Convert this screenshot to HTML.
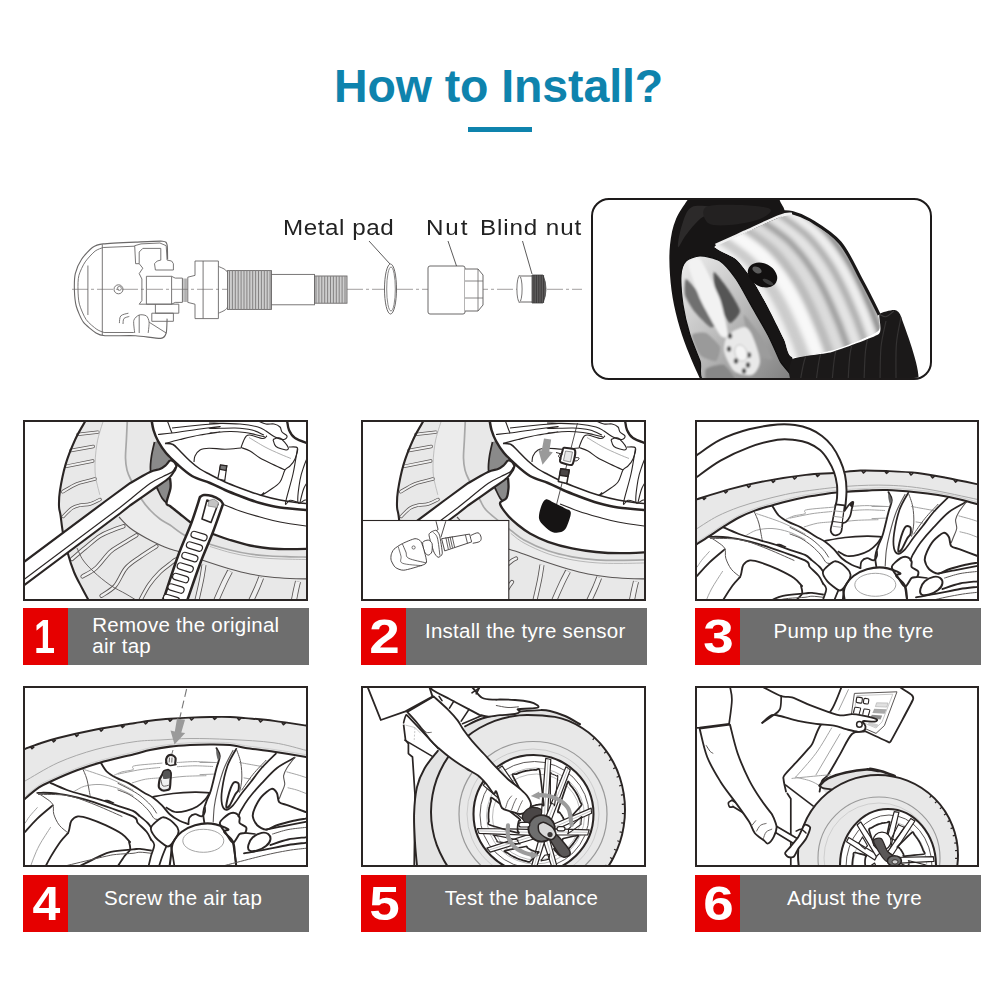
<!DOCTYPE html>
<html lang="en">
<head>
<meta charset="utf-8">
<title>How to Install?</title>
<style>
html,body{margin:0;padding:0;background:#fff;}
body{width:1000px;height:1000px;position:relative;overflow:hidden;font-family:"Liberation Sans","Noto Sans CJK SC",sans-serif;}
.abs{position:absolute;}
#title{left:334px;top:55.8px;font-size:46.5px;line-height:60px;font-weight:700;color:#0e83ad;letter-spacing:-0.1px;white-space:nowrap;}
#rule{left:468px;top:127px;width:64px;height:5px;background:#0e83ad;}
.lbl{font-size:22px;line-height:26px;color:#222;white-space:nowrap;letter-spacing:0.8px;transform:scaleX(1.1);transform-origin:0 0;}
.box{border:2px solid #2a2524;box-sizing:border-box;}
.bar{height:57px;background:#6e6e6e;}
.num{left:0;top:0;width:45px;height:57px;background:#e60000;color:#fff;font-weight:700;font-size:48.5px;line-height:57px;text-align:center;}
.num span{display:inline-block;transform:scaleX(1.13);position:relative;left:1.3px;top:0.4px;}
.cap{color:#fff;font-size:20.5px;line-height:22px;white-space:nowrap;letter-spacing:0.25px;}
svg{display:block;}
</style>
</head>
<body>
<div id="title" class="abs">How to Install?</div>
<div id="rule" class="abs"></div>

<div class="abs lbl" style="left:283.3px;top:214.8px;letter-spacing:0.5px;">Metal pad</div>
<div class="abs lbl" style="left:425.6px;top:214.8px;letter-spacing:1.7px;">Nut</div>
<div class="abs lbl" style="left:479.6px;top:214.8px;">Blind nut</div>

<!-- DIAGRAM -->


<!-- PHOTO -->
<div id="photo" class="abs" style="left:591px;top:198px;width:341px;height:182px;border:2.5px solid #1d1a1a;border-radius:18px;box-sizing:border-box;overflow:hidden;background:#fff;"></div>

<svg class="abs" style="left:0;top:0;" width="1000" height="1000" viewBox="0 0 1000 1000"><defs><clipPath id="c1"><rect x="25" y="422" width="281" height="177"/></clipPath><clipPath id="c2"><rect x="363" y="422" width="281" height="177"/></clipPath><clipPath id="c3"><rect x="697" y="422" width="281" height="177"/></clipPath><clipPath id="c4"><rect x="25" y="688" width="281" height="177"/></clipPath><clipPath id="c5"><rect x="363" y="688" width="281" height="177"/></clipPath><clipPath id="c6"><rect x="697" y="688" width="281" height="177"/></clipPath></defs>
<g clip-path="url(#c1)">
<path fill="#e8e8e8" d="M85.6 420.7C83.8 423.9 78.4 432.4 75.1 439.7C71.8 447 68.1 455.8 65.6 464.4C63.1 472.9 61 484 59.9 491C58.8 498 58.9 502.2 59 506.2C59.1 510.2 59.8 510.5 60.5 515C61.2 519.5 61.8 526.5 63 533C64.2 539.5 66.2 547.5 68 554C69.8 560.5 71.7 566.3 74 572C76.3 577.7 79.5 583.2 82 588C84.5 592.8 87.8 598.8 89 601L310 602L310 418Z"/>
<path fill="#ececec" d="M103.6 419.8C102.5 423.8 98.4 434.8 97 443.5C95.6 452.2 94.6 463.4 95.1 472C95.6 480.6 95.8 487.3 99.8 494.8C103.8 502.3 114 511.5 119 517C124 522.5 125.5 524.5 130 528C134.5 531.5 141 535.2 146 538C151 540.8 156 543.2 160 545C164 546.8 166.7 547.8 170 549C173.3 550.2 174.7 550.2 180 552C185.3 553.8 193.7 557.2 202 560C210.3 562.8 222 566.7 230 569C238 571.3 243.3 572.7 250 574C256.7 575.3 263.3 576.2 270 577C276.7 577.8 283.3 578.2 290 578.5C296.7 578.8 306.7 578.9 310 579L312 560L310 557.1C306.7 557 296.7 557 290 556.8C283.3 556.6 276.7 556.5 270 556C263.3 555.5 256.7 555 250 554C243.3 553 236.8 551.7 230 550C223.2 548.3 216.3 546.3 209 544C201.7 541.7 192.5 539.2 186 536C179.5 532.8 174.3 527.8 170 525C165.7 522.2 163.3 521.5 160 519C156.7 516.5 153 513.2 150 510C147 506.8 145.2 505 142 500C138.8 495 133.5 485 131 480C128.5 475 127.9 473.8 127 470.1C126.1 466.4 125.6 463 125.5 457.9C125.4 452.8 126.1 446.2 126.4 439.7C126.7 433.2 127.2 422.3 127.4 418.8Z"/>
<path fill="none" stroke="#5a5655" stroke-width="3.4" stroke-linecap="round" d="M78 434.4L97.9 432.1"/><path fill="none" stroke="#efefef" stroke-width="1.95" stroke-linecap="round" d="M78 434.4L97.9 432.1"/>
<path fill="none" stroke="#5a5655" stroke-width="3.4" stroke-linecap="round" d="M70.9 450.5L93.2 446.5"/><path fill="none" stroke="#efefef" stroke-width="1.95" stroke-linecap="round" d="M70.9 450.5L93.2 446.5"/>
<path fill="none" stroke="#5a5655" stroke-width="3.4" stroke-linecap="round" d="M66.2 466.3L92.8 461"/><path fill="none" stroke="#efefef" stroke-width="1.95" stroke-linecap="round" d="M66.2 466.3L92.8 461"/>
<path fill="none" stroke="#5a5655" stroke-width="3.4" stroke-linecap="round" d="M62.6 491.8C65 490.5 71.6 485.9 77 483.8C82.4 481.7 92.1 479.8 95.1 479"/><path fill="none" stroke="#efefef" stroke-width="1.95" stroke-linecap="round" d="M62.6 491.8C65 490.5 71.6 485.9 77 483.8C82.4 481.7 92.1 479.8 95.1 479"/>
<path fill="none" stroke="#5a5655" stroke-width="3.4" stroke-linecap="round" d="M63.2 516.5C64.7 515.1 69.2 510.1 72 508.2C74.8 506.3 77 505.9 80 505.2C83 504.5 86.7 504.9 90 504C93.3 503.1 98.3 500.2 100 499.5"/><path fill="none" stroke="#efefef" stroke-width="1.95" stroke-linecap="round" d="M63.2 516.5C64.7 515.1 69.2 510.1 72 508.2C74.8 506.3 77 505.9 80 505.2C83 504.5 86.7 504.9 90 504C93.3 503.1 98.3 500.2 100 499.5"/>
<path fill="none" stroke="#5a5655" stroke-width="4.2" stroke-linecap="round" d="M72 559C74.2 557.2 80.3 551.8 85 548C89.7 544.2 95.3 539 100 536C104.7 533 109.1 531.6 113 530C116.9 528.4 121.8 526.8 123.5 526.2"/><path fill="none" stroke="#efefef" stroke-width="2.5" stroke-linecap="round" d="M72 559C74.2 557.2 80.3 551.8 85 548C89.7 544.2 95.3 539 100 536C104.7 533 109.1 531.6 113 530C116.9 528.4 121.8 526.8 123.5 526.2"/>
<path fill="none" stroke="#5a5655" stroke-width="4.2" stroke-linecap="round" d="M82.5 576.5C84.8 575.1 91.4 572.1 96 568C100.6 563.9 105.7 556 110 552C114.3 548 117.6 546.8 122 544C126.4 541.2 134.1 536.7 136.5 535.2"/><path fill="none" stroke="#efefef" stroke-width="2.5" stroke-linecap="round" d="M82.5 576.5C84.8 575.1 91.4 572.1 96 568C100.6 563.9 105.7 556 110 552C114.3 548 117.6 546.8 122 544C126.4 541.2 134.1 536.7 136.5 535.2"/>
<path fill="none" stroke="#5a5655" stroke-width="4.2" stroke-linecap="round" d="M101.5 595.8C103.8 594.2 110.9 590.6 115 586C119.1 581.4 121.8 572.8 126 568C130.2 563.2 134.9 560.6 140 557C145.1 553.4 153.8 548 156.5 546.2"/><path fill="none" stroke="#efefef" stroke-width="2.5" stroke-linecap="round" d="M101.5 595.8C103.8 594.2 110.9 590.6 115 586C119.1 581.4 121.8 572.8 126 568C130.2 563.2 134.9 560.6 140 557C145.1 553.4 153.8 548 156.5 546.2"/>
<path fill="none" stroke="#5a5655" stroke-width="4.2" stroke-linecap="round" d="M140 601C141.5 598.3 145.7 589.8 149 585C152.3 580.2 156.5 575.5 160 572C163.5 568.5 167.5 566 170 564C172.5 562 173.7 560.9 175 560C176.3 559.1 177.5 558.8 178 558.5"/><path fill="none" stroke="#efefef" stroke-width="2.5" stroke-linecap="round" d="M140 601C141.5 598.3 145.7 589.8 149 585C152.3 580.2 156.5 575.5 160 572C163.5 568.5 167.5 566 170 564C172.5 562 173.7 560.9 175 560C176.3 559.1 177.5 558.8 178 558.5"/>
<path fill="none" stroke="#5a5655" stroke-width="4.2" stroke-linecap="round" d="M163 601C164.2 598.8 168.2 591.2 170 588C171.8 584.8 173.3 583 174 582"/><path fill="none" stroke="#efefef" stroke-width="2.5" stroke-linecap="round" d="M163 601C164.2 598.8 168.2 591.2 170 588C171.8 584.8 173.3 583 174 582"/>
<path fill="none" stroke="#5a5655" stroke-width="6" stroke-linecap="butt" d="M230 571.2C229 573.2 226.3 578 224 583C221.7 588 217.3 598 216 601"/><path fill="none" stroke="#efefef" stroke-width="4.3" stroke-linecap="butt" d="M230 571.2C229 573.2 226.3 578 224 583C221.7 588 217.3 598 216 601"/>
<path fill="none" stroke="#5a5655" stroke-width="6" stroke-linecap="butt" d="M261.2 577.5C260.5 579.2 258.7 584.1 257 588C255.3 591.9 252 598.8 251 601"/><path fill="none" stroke="#efefef" stroke-width="4.3" stroke-linecap="butt" d="M261.2 577.5C260.5 579.2 258.7 584.1 257 588C255.3 591.9 252 598.8 251 601"/>
<path fill="none" stroke="#5a5655" stroke-width="6" stroke-linecap="butt" d="M298 581.5C297.7 582.9 296.7 586.8 296 590C295.3 593.2 294.2 599.2 293.8 601"/><path fill="none" stroke="#efefef" stroke-width="4.3" stroke-linecap="butt" d="M298 581.5C297.7 582.9 296.7 586.8 296 590C295.3 593.2 294.2 599.2 293.8 601"/>
<path fill="none" stroke="#5a5655" stroke-width="5" stroke-linecap="butt" d="M204 564.8C203.6 567.3 202.7 574 201.5 580C200.3 586 197.6 597.5 196.8 601"/><path fill="none" stroke="#efefef" stroke-width="3.3" stroke-linecap="butt" d="M204 564.8C203.6 567.3 202.7 574 201.5 580C200.3 586 197.6 597.5 196.8 601"/>
<path fill="none" stroke="#5a5655" stroke-width="0.9" d="M77 548C78 550 80.2 556 83 560C85.8 564 89.5 567.8 94 572C98.5 576.2 104.7 581.3 110 585C115.3 588.7 121.7 591.5 126 594C130.3 596.5 134.3 599 136 600"/>
<path fill="none" stroke="#a8a8a8" stroke-width="1.72" d="M127.4 418.8C127.2 422.3 126.7 433.2 126.4 439.7C126.1 446.2 125.4 452.8 125.5 457.9C125.6 463 126.1 466.4 127 470.1C127.9 473.8 128.5 475 131 480C133.5 485 138.8 495 142 500C145.2 505 147 506.8 150 510C153 513.2 156.7 516.5 160 519C163.3 521.5 165.7 522.2 170 525C174.3 527.8 179.5 532.8 186 536C192.5 539.2 201.7 541.7 209 544C216.3 546.3 223.2 548.3 230 550C236.8 551.7 243.3 553 250 554C256.7 555 263.3 555.5 270 556C276.7 556.5 283.3 556.6 290 556.8C296.7 557 306.7 557 310 557.1"/>
<path fill="none" stroke="#aaa" stroke-width="0.8" d="M210 546.5C213.3 547.5 223.3 550.8 230 552.5C236.7 554.2 243.3 555.5 250 556.5C256.7 557.5 263.3 558 270 558.5C276.7 559 283.3 559 290 559.2C296.7 559.4 306.7 559.5 310 559.5"/>
<path fill="none" stroke="#5a5655" stroke-width="1.1" d="M119 517C120.8 518.8 125.5 524.5 130 528C134.5 531.5 141 535.2 146 538C151 540.8 156 543.2 160 545C164 546.8 166.7 547.8 170 549C173.3 550.2 174.7 550.2 180 552C185.3 553.8 193.7 557.2 202 560C210.3 562.8 222 566.7 230 569C238 571.3 243.3 572.7 250 574C256.7 575.3 263.3 576.2 270 577C276.7 577.8 283.3 578.2 290 578.5C296.7 578.8 306.7 578.9 310 579"/>
<path fill="none" stroke="#aaa" stroke-width="0.7" d="M103.6 419.8C102.5 423.8 98.4 434.8 97 443.5C95.6 452.2 94.6 463.4 95.1 472C95.6 480.6 99 491 99.8 494.8"/>
<path fill="none" stroke="#2a2524" stroke-width="2.07" d="M85.6 420.7C83.8 423.9 78.4 432.4 75.1 439.7C71.8 447 68.1 455.8 65.6 464.4C63.1 472.9 61 484 59.9 491C58.8 498 58.9 502.2 59 506.2C59.1 510.2 59.8 510.5 60.5 515C61.2 519.5 61.8 526.5 63 533C64.2 539.5 66.2 547.5 68 554C69.8 560.5 71.7 566.3 74 572C76.3 577.7 79.5 583.2 82 588C84.5 592.8 87.8 598.8 89 601"/>
<path fill="#8a8a8a" d="M154.5 442C154 444.3 152.2 451.3 151.5 456C150.8 460.7 150.2 466 150.5 470C150.8 474 151.9 477 153 480C154.1 483 155.5 485 157 488C158.5 491 160.4 495.5 162 498C163.6 500.5 165.8 502.2 166.5 503L170.5 488C170.4 486.3 170.1 482.7 170 478C169.9 473.3 170.7 464.2 170 460C169.3 455.8 168 456.2 166 453C164 449.8 159.3 443 158 441Z"/>
<path fill="none" stroke="#2a2524" stroke-width="1.72" d="M154.5 442C154 444.3 152.2 451.3 151.5 456C150.8 460.7 150.2 466 150.5 470C150.8 474 151.9 477 153 480C154.1 483 155.5 485 157 488C158.5 491 160.4 495.5 162 498C163.6 500.5 165.8 502.2 166.5 503"/>
<path fill="#fff" d="M151.5 419.5C151.8 421.2 152.4 426.4 153.5 430C154.6 433.6 155.9 437.2 158 441C160.1 444.8 164 449.8 166 453C168 456.2 169.3 458.8 170 460L170 478C170.1 479.7 171.1 483.8 170.5 488C169.9 492.2 166.6 500 166.5 503C166.4 506 167.8 504.2 170 506C172.2 507.8 176.7 511.3 180 514C183.3 516.7 186.4 519.5 190 522C193.6 524.5 197.7 527 201.5 529C205.3 531 208.2 532.2 213 534C217.8 535.8 223.8 538.1 230 540C236.2 541.9 243.3 544.1 250 545.5C256.7 546.9 263.3 547.9 270 548.5C276.7 549.1 283.3 549.2 290 549.2C296.7 549.2 306.7 548.9 310 548.8L312 418Z"/>
<path fill="none" stroke="#2a2524" stroke-width="2.3" d="M170 478C170.1 479.7 171.1 483.8 170.5 488C169.9 492.2 166.6 500 166.5 503C166.4 506 167.8 504.2 170 506C172.2 507.8 176.7 511.3 180 514C183.3 516.7 186.4 519.5 190 522C193.6 524.5 197.7 527 201.5 529C205.3 531 208.2 532.2 213 534C217.8 535.8 223.8 538.1 230 540C236.2 541.9 243.3 544.1 250 545.5C256.7 546.9 263.3 547.9 270 548.5C276.7 549.1 283.3 549.2 290 549.2C296.7 549.2 306.7 548.9 310 548.8"/>
<path fill="none" stroke="#2a2524" stroke-width="2.53" d="M151.5 419.5C151.8 421.2 152.4 426.4 153.5 430C154.6 433.6 155.9 437.2 158 441C160.1 444.8 162.8 449.2 166 453C169.2 456.8 172.7 460.2 177 464C181.3 467.8 186.5 472.8 192 476C197.5 479.2 204.5 480.7 210 483C215.5 485.3 220 487.8 225 490C230 492.2 234.2 493.8 240 496C245.8 498.2 253.3 501.1 260 503C266.7 504.9 271.7 506.3 280 507.5C288.3 508.7 305 509.8 310 510.2"/>
<path fill="none" stroke="#2a2524" stroke-width="1.49" d="M165 443.5C166.3 443.7 170.5 443.2 173 444.5C175.5 445.8 177.2 448.2 180 451C182.8 453.8 186.7 458 190 461C193.3 464 196.7 466.8 200 469C203.3 471.2 205.8 472.3 210 474.5C214.2 476.7 220 479.8 225 482C230 484.2 234.2 485.8 240 488C245.8 490.2 253.3 493 260 495C266.7 497 273.3 498.7 280 500C286.7 501.3 295 502.4 300 503C305 503.6 308.3 503.7 310 503.8"/>
<path fill="none" stroke="#2a2524" stroke-width="1.1" d="M222 504C225 505.2 233.7 508.8 240 511C246.3 513.2 253.3 515.2 260 517C266.7 518.8 271.7 520.4 280 522C288.3 523.6 305 525.8 310 526.5"/>
<path fill="none" stroke="#2a2524" stroke-width="1.1" d="M165 443.5C167.5 442.8 174.2 440.9 180 439.5C185.8 438.1 193.3 436.2 200 435C206.7 433.8 218.3 432.3 220 432C221.7 431.7 208.3 433.1 210 433C211.7 432.9 224.2 431.6 230 431.5C235.8 431.4 240.8 432 245 432.5C249.2 433 251.7 433.8 255 434.5C258.3 435.2 263.3 436.6 265 437"/>
<path fill="none" stroke="#2a2524" stroke-width="1.1" d="M158 434.5C160.3 434.2 165 433.9 172 433C179 432.1 192 430.1 200 429C208 427.9 218.3 426.6 220 426.5C221.7 426.4 207.5 428.2 210 428.5C212.5 428.8 228 427.8 235 428C242 428.2 247.2 428.8 252 430C256.8 431.2 262 434.2 264 435"/>
<path fill="none" stroke="#2a2524" stroke-width="1.1" d="M172 428C176.7 427.5 192 425.8 200 425C208 424.2 218.3 423.8 220 423.5C221.7 423.2 206.7 422.9 210 423C213.3 423.1 232 423.3 240 424C248 424.7 253.7 425.8 258 427C262.3 428.2 263.2 429.3 266 431C268.8 432.7 272 435.6 275 437C278 438.4 282 439.7 284 439.5C286 439.3 287.3 437.2 287 436C286.7 434.8 283.2 433.5 282 432C280.8 430.5 281.3 428.3 280 427C278.7 425.7 276.3 424.5 274 424C271.7 423.5 268.8 424.6 266 424C263.2 423.4 258.5 421.1 257 420.5"/>
<path fill="none" stroke="#2a2524" stroke-width="1.1" d="M167 420C167.5 421.3 169.2 425.8 170 428C170.8 430.2 171.7 432.2 172 433"/>
<path fill="none" stroke="#2a2524" stroke-width="1.1" d="M194 462C194.2 461 194 458 195 456C196 454 197.7 451.3 200 450C202.3 448.7 204.8 448.3 209 448.2C213.2 448.1 219.7 449.2 225 449.2C230.3 449.2 238.3 448.2 241 448"/>
<path fill="none" stroke="#2a2524" stroke-width="1.1" d="M241 447.5C241.4 446.4 242.7 442.8 243.5 441C244.3 439.2 244.9 437.5 246 436.5C247.1 435.5 247.2 434.7 250 435C252.8 435.3 260.2 438.4 263 438.5C265.8 438.6 266.3 436.2 267 435.8"/>
<path fill="none" stroke="#2a2524" stroke-width="1.1" d="M241 447.5C242.5 448.1 246.8 449.2 250 451C253.2 452.8 256.3 455.8 260 458C263.7 460.2 267.8 462 272 464C276.2 466 282.8 469 285 470"/>
<path fill="none" stroke="#2a2524" stroke-width="1.1" d="M273 439.5C274.2 439.2 277.5 436.8 280 438C282.5 439.2 287 445 288 447C289 449 288 450.1 286 450C284 449.9 278.2 448.2 276 446.5C273.8 444.8 273.5 440.7 273 439.5"/>
<path fill="none" stroke="#2a2524" stroke-width="1.1" d="M289 447C290.4 447.2 296.5 446 297.5 448C298.5 450 296.2 456 295 459C293.8 462 291.7 464.2 290 466C288.3 467.8 286.7 467.3 285 470C283.3 472.7 282.5 478.7 280 482C277.5 485.3 273.2 487.8 270 490C266.8 492.2 262 495.1 261 495.5C260 495.9 263.5 493 264 492.5"/>
<path fill="none" stroke="#2a2524" stroke-width="1.1" d="M297.5 448C296.8 452.3 295 464.8 293 474C291 483.2 286 498.6 285.5 503C285 507.4 287.9 500.3 290 500.2C292.1 500.1 296.7 501.9 298 502.2"/>
<path fill="none" stroke="#2a2524" stroke-width="1.1" d="M310 451C309 453.5 305.7 461.2 304 466C302.3 470.8 301 474 300 480C299 486 297.2 498.9 298 502.2C298.8 505.5 303 500.2 305 500C307 499.8 309.2 500.8 310 501"/>
<path fill="none" stroke="#2a2524" stroke-width="1.1" d="M310 478C309 479.7 305.7 484 304 488C302.3 492 300.7 499.8 300 502.2"/>
<path fill="none" stroke="#2a2524" stroke-width="1.1" d="M287 420C287.3 421.7 287.7 427 289 430C290.3 433 291.5 435.6 295 438C298.5 440.4 307.5 443.2 310 444.2"/>
<path fill="none" stroke="#2a2524" stroke-width="2.3" d="M287 420C287.3 421.7 287.7 427 289 430C290.3 433 291.5 435.6 295 438C298.5 440.4 307.5 443.2 310 444.2"/>
<path fill="none" stroke="#999" stroke-width="0.8" d="M249 437.5C251.7 439.1 259.8 444.2 265 447C270.2 449.8 275.7 452.1 280 454C284.3 455.9 289.2 457.8 291 458.5"/>
<path fill="#fff" stroke="#2a2524" stroke-width="2.18" stroke-linejoin="round" d="M14 569.3L24.5 561.5L107 500L130 483.2L130 483.2C133.3 481.3 145 474.4 150 472C155 469.6 157.3 470.2 160 469C162.7 467.8 164.3 466.4 166 465C167.7 463.6 168.7 461 170 460.5C171.3 460 172.9 461.1 174 462C175.1 462.9 176.1 465.3 176.5 466L175 470C174 471.3 172.3 475 169 478C165.7 481 161.5 483.4 155 488C148.5 492.6 134.2 502.6 130 505.5L130 505.5L120 513.5L24.5 585L14 592.9Z"/>
<path fill="none" stroke="#2a2524" stroke-width="1.2" d="M14 586.9L24.5 579L120 507.5L130 499.5L130 499.5C133.3 496.8 144.5 487.3 150 483.5C155.5 479.7 159.3 478.4 163 476.5C166.7 474.6 169.9 473.6 172 472C174.1 470.4 174.9 467.8 175.5 467"/>
<path fill="#fff" stroke="#2a2524" stroke-width="1.2" d="M220.5 465L226.8 465.8L224.8 480.5L217.8 478.8Z"/>
<path fill="#777" stroke="#2a2524" stroke-width="1.2" d="M220.5 465L226.8 465.8L226 470.5L219.7 469.2Z"/>
<path fill="#fff" stroke="#2a2524" stroke-width="2.53" stroke-linejoin="round" d="M200 497C198.5 501.5 194.7 514.2 191 524C187.3 533.8 182.7 543.2 178 556C173.3 568.8 165.5 593.5 163 601L187 601C189.2 594.8 195.7 575.5 200 564C204.3 552.5 209.2 542 213 532C216.8 522 221.3 508.7 223 504L223 504C222.5 503.3 221.8 501.3 220 500C218.2 498.7 214.7 496.8 212 496C209.3 495.2 206 494.8 204 495C202 495.2 200.7 496.7 200 497Z"/>
<path fill="#fff" stroke="#2a2524" stroke-width="1.61" stroke-linejoin="round" d="M207 500L202 519L211 522.5L218 504Z"/>
<path fill="#c4c4c4" stroke="#888" stroke-width="0.8" d="M209 500.5L208 506L217 507.5L218.5 502.5L214 499Z"/>
<rect x="190.8" y="532.8" width="16.5" height="6.4" rx="3.2" transform="rotate(17 199 536)" fill="#fff" stroke="#2a2524" stroke-width="1.2"/>
<rect x="186.2" y="543.3" width="16.5" height="6.4" rx="3.2" transform="rotate(17 194.4 546.5)" fill="#fff" stroke="#2a2524" stroke-width="1.2"/>
<rect x="181.6" y="553.8" width="16.5" height="6.4" rx="3.2" transform="rotate(17 189.8 557)" fill="#fff" stroke="#2a2524" stroke-width="1.2"/>
<rect x="177" y="564.3" width="16.5" height="6.4" rx="3.2" transform="rotate(17 185.2 567.5)" fill="#fff" stroke="#2a2524" stroke-width="1.2"/>
<rect x="172.4" y="574.8" width="16.5" height="6.4" rx="3.2" transform="rotate(17 180.6 578)" fill="#fff" stroke="#2a2524" stroke-width="1.2"/>
<rect x="167.8" y="585.3" width="16.5" height="6.4" rx="3.2" transform="rotate(17 176 588.5)" fill="#fff" stroke="#2a2524" stroke-width="1.2"/>
<rect x="163.2" y="595.8" width="16.5" height="6.4" rx="3.2" transform="rotate(17 171.4 599)" fill="#fff" stroke="#2a2524" stroke-width="1.2"/>
</g>
<g clip-path="url(#c2)"><g transform="translate(338 0)">
<path fill="#e8e8e8" d="M85.6 420.7C83.8 423.9 78.4 432.4 75.1 439.7C71.8 447 68.1 455.8 65.6 464.4C63.1 472.9 61 484 59.9 491C58.8 498 58.9 502.2 59 506.2C59.1 510.2 59.8 510.5 60.5 515C61.2 519.5 61.8 526.5 63 533C64.2 539.5 66.2 547.5 68 554C69.8 560.5 71.7 566.3 74 572C76.3 577.7 79.5 583.2 82 588C84.5 592.8 87.8 598.8 89 601L310 602L310 418Z"/>
<path fill="#ececec" d="M103.6 419.8C102.5 423.8 98.4 434.8 97 443.5C95.6 452.2 94.6 463.4 95.1 472C95.6 480.6 95.8 487.3 99.8 494.8C103.8 502.3 114 511.5 119 517C124 522.5 125.5 524.5 130 528C134.5 531.5 141 535.2 146 538C151 540.8 156 543.2 160 545C164 546.8 166.7 547.8 170 549C173.3 550.2 174.7 550.2 180 552C185.3 553.8 193.7 557.2 202 560C210.3 562.8 222 566.7 230 569C238 571.3 243.3 572.7 250 574C256.7 575.3 263.3 576.2 270 577C276.7 577.8 283.3 578.2 290 578.5C296.7 578.8 306.7 578.9 310 579L312 560L312 559.8C307 559.9 291 560.4 282 560.4C273 560.4 266 560.4 258 559.8C250 559.2 242 558.3 234 556.8C226 555.3 218 553.6 210 550.8C202 548 192.2 543.4 186 540C179.8 536.6 179 535.2 172.8 530.4C166.6 525.6 154.1 516.1 149 511C143.9 505.9 145 505.2 142 500C139 494.8 133.5 485 131 480C128.5 475 127.9 473.8 127 470.1C126.1 466.4 125.6 463 125.5 457.9C125.4 452.8 126.1 446.2 126.4 439.7C126.7 433.2 127.2 422.3 127.4 418.8Z"/>
<path fill="none" stroke="#5a5655" stroke-width="3.4" stroke-linecap="round" d="M78 434.4L97.9 432.1"/><path fill="none" stroke="#efefef" stroke-width="1.95" stroke-linecap="round" d="M78 434.4L97.9 432.1"/>
<path fill="none" stroke="#5a5655" stroke-width="3.4" stroke-linecap="round" d="M70.9 450.5L93.2 446.5"/><path fill="none" stroke="#efefef" stroke-width="1.95" stroke-linecap="round" d="M70.9 450.5L93.2 446.5"/>
<path fill="none" stroke="#5a5655" stroke-width="3.4" stroke-linecap="round" d="M66.2 466.3L92.8 461"/><path fill="none" stroke="#efefef" stroke-width="1.95" stroke-linecap="round" d="M66.2 466.3L92.8 461"/>
<path fill="none" stroke="#5a5655" stroke-width="3.4" stroke-linecap="round" d="M62.6 491.8C65 490.5 71.6 485.9 77 483.8C82.4 481.7 92.1 479.8 95.1 479"/><path fill="none" stroke="#efefef" stroke-width="1.95" stroke-linecap="round" d="M62.6 491.8C65 490.5 71.6 485.9 77 483.8C82.4 481.7 92.1 479.8 95.1 479"/>
<path fill="none" stroke="#5a5655" stroke-width="3.4" stroke-linecap="round" d="M63.2 516.5C64.7 515.1 69.2 510.1 72 508.2C74.8 506.3 77 505.9 80 505.2C83 504.5 86.7 504.9 90 504C93.3 503.1 98.3 500.2 100 499.5"/><path fill="none" stroke="#efefef" stroke-width="1.95" stroke-linecap="round" d="M63.2 516.5C64.7 515.1 69.2 510.1 72 508.2C74.8 506.3 77 505.9 80 505.2C83 504.5 86.7 504.9 90 504C93.3 503.1 98.3 500.2 100 499.5"/>
<path fill="none" stroke="#5a5655" stroke-width="4.2" stroke-linecap="round" d="M72 559C74.2 557.2 80.3 551.8 85 548C89.7 544.2 95.3 539 100 536C104.7 533 109.1 531.6 113 530C116.9 528.4 121.8 526.8 123.5 526.2"/><path fill="none" stroke="#efefef" stroke-width="2.5" stroke-linecap="round" d="M72 559C74.2 557.2 80.3 551.8 85 548C89.7 544.2 95.3 539 100 536C104.7 533 109.1 531.6 113 530C116.9 528.4 121.8 526.8 123.5 526.2"/>
<path fill="none" stroke="#5a5655" stroke-width="4.2" stroke-linecap="round" d="M82.5 576.5C84.8 575.1 91.4 572.1 96 568C100.6 563.9 105.7 556 110 552C114.3 548 117.6 546.8 122 544C126.4 541.2 134.1 536.7 136.5 535.2"/><path fill="none" stroke="#efefef" stroke-width="2.5" stroke-linecap="round" d="M82.5 576.5C84.8 575.1 91.4 572.1 96 568C100.6 563.9 105.7 556 110 552C114.3 548 117.6 546.8 122 544C126.4 541.2 134.1 536.7 136.5 535.2"/>
<path fill="none" stroke="#5a5655" stroke-width="4.2" stroke-linecap="round" d="M101.5 595.8C103.8 594.2 110.9 590.6 115 586C119.1 581.4 121.8 572.8 126 568C130.2 563.2 134.9 560.6 140 557C145.1 553.4 153.8 548 156.5 546.2"/><path fill="none" stroke="#efefef" stroke-width="2.5" stroke-linecap="round" d="M101.5 595.8C103.8 594.2 110.9 590.6 115 586C119.1 581.4 121.8 572.8 126 568C130.2 563.2 134.9 560.6 140 557C145.1 553.4 153.8 548 156.5 546.2"/>
<path fill="none" stroke="#5a5655" stroke-width="4.2" stroke-linecap="round" d="M140 601C141.5 598.3 145.7 589.8 149 585C152.3 580.2 156.5 575.5 160 572C163.5 568.5 167.5 566 170 564C172.5 562 173.7 560.9 175 560C176.3 559.1 177.5 558.8 178 558.5"/><path fill="none" stroke="#efefef" stroke-width="2.5" stroke-linecap="round" d="M140 601C141.5 598.3 145.7 589.8 149 585C152.3 580.2 156.5 575.5 160 572C163.5 568.5 167.5 566 170 564C172.5 562 173.7 560.9 175 560C176.3 559.1 177.5 558.8 178 558.5"/>
<path fill="none" stroke="#5a5655" stroke-width="4.2" stroke-linecap="round" d="M163 601C164.2 598.8 168.2 591.2 170 588C171.8 584.8 173.3 583 174 582"/><path fill="none" stroke="#efefef" stroke-width="2.5" stroke-linecap="round" d="M163 601C164.2 598.8 168.2 591.2 170 588C171.8 584.8 173.3 583 174 582"/>
<path fill="none" stroke="#5a5655" stroke-width="6" stroke-linecap="butt" d="M230 571.2C229 573.2 226.3 578 224 583C221.7 588 217.3 598 216 601"/><path fill="none" stroke="#efefef" stroke-width="4.3" stroke-linecap="butt" d="M230 571.2C229 573.2 226.3 578 224 583C221.7 588 217.3 598 216 601"/>
<path fill="none" stroke="#5a5655" stroke-width="6" stroke-linecap="butt" d="M261.2 577.5C260.5 579.2 258.7 584.1 257 588C255.3 591.9 252 598.8 251 601"/><path fill="none" stroke="#efefef" stroke-width="4.3" stroke-linecap="butt" d="M261.2 577.5C260.5 579.2 258.7 584.1 257 588C255.3 591.9 252 598.8 251 601"/>
<path fill="none" stroke="#5a5655" stroke-width="6" stroke-linecap="butt" d="M298 581.5C297.7 582.9 296.7 586.8 296 590C295.3 593.2 294.2 599.2 293.8 601"/><path fill="none" stroke="#efefef" stroke-width="4.3" stroke-linecap="butt" d="M298 581.5C297.7 582.9 296.7 586.8 296 590C295.3 593.2 294.2 599.2 293.8 601"/>
<path fill="none" stroke="#5a5655" stroke-width="5" stroke-linecap="butt" d="M204 564.8C203.6 567.3 202.7 574 201.5 580C200.3 586 197.6 597.5 196.8 601"/><path fill="none" stroke="#efefef" stroke-width="3.3" stroke-linecap="butt" d="M204 564.8C203.6 567.3 202.7 574 201.5 580C200.3 586 197.6 597.5 196.8 601"/>
<path fill="none" stroke="#5a5655" stroke-width="0.9" d="M77 548C78 550 80.2 556 83 560C85.8 564 89.5 567.8 94 572C98.5 576.2 104.7 581.3 110 585C115.3 588.7 121.7 591.5 126 594C130.3 596.5 134.3 599 136 600"/>
<path fill="none" stroke="#a8a8a8" stroke-width="1.72" d="M127.4 418.8C127.2 422.3 126.7 433.2 126.4 439.7C126.1 446.2 125.4 452.8 125.5 457.9C125.6 463 126.1 466.4 127 470.1C127.9 473.8 128.5 475 131 480C133.5 485 139 494.8 142 500C145 505.2 143.9 505.9 149 511C154.1 516.1 166.6 525.6 172.8 530.4C179 535.2 179.8 536.6 186 540C192.2 543.4 202 548 210 550.8C218 553.6 226 555.3 234 556.8C242 558.3 250 559.2 258 559.8C266 560.4 273 560.4 282 560.4C291 560.4 307 559.9 312 559.8"/>
<path fill="none" stroke="#aaa" stroke-width="0.8" d="M172.8 533.4C175 535 179.8 539.6 186 543C192.2 546.4 202 551 210 553.8C218 556.6 226 558.3 234 559.8C242 561.3 250 562.2 258 562.8C266 563.4 273 563.4 282 563.4C291 563.4 307 562.9 312 562.8"/>
<path fill="none" stroke="#5a5655" stroke-width="1.1" d="M119 517C120.8 518.8 125.5 524.5 130 528C134.5 531.5 141 535.2 146 538C151 540.8 156 543.2 160 545C164 546.8 166.7 547.8 170 549C173.3 550.2 174.7 550.2 180 552C185.3 553.8 193.7 557.2 202 560C210.3 562.8 222 566.7 230 569C238 571.3 243.3 572.7 250 574C256.7 575.3 263.3 576.2 270 577C276.7 577.8 283.3 578.2 290 578.5C296.7 578.8 306.7 578.9 310 579"/>
<path fill="none" stroke="#aaa" stroke-width="0.7" d="M103.6 419.8C102.5 423.8 98.4 434.8 97 443.5C95.6 452.2 94.6 463.4 95.1 472C95.6 480.6 99 491 99.8 494.8"/>
<path fill="none" stroke="#2a2524" stroke-width="2.07" d="M85.6 420.7C83.8 423.9 78.4 432.4 75.1 439.7C71.8 447 68.1 455.8 65.6 464.4C63.1 472.9 61 484 59.9 491C58.8 498 58.9 502.2 59 506.2C59.1 510.2 59.8 510.5 60.5 515C61.2 519.5 61.8 526.5 63 533C64.2 539.5 66.2 547.5 68 554C69.8 560.5 71.7 566.3 74 572C76.3 577.7 79.5 583.2 82 588C84.5 592.8 87.8 598.8 89 601"/>
<path fill="#8a8a8a" d="M154.5 442C154 444.3 152.2 451.3 151.5 456C150.8 460.7 150.2 466 150.5 470C150.8 474 151.9 477 153 480C154.1 483 155.5 485 157 488C158.5 491 160.4 495.5 162 498C163.6 500.5 165.8 502.2 166.5 503L170.5 488C170.4 486.3 170.1 482.7 170 478C169.9 473.3 170.7 464.2 170 460C169.3 455.8 168 456.2 166 453C164 449.8 159.3 443 158 441Z"/>
<path fill="none" stroke="#2a2524" stroke-width="1.72" d="M154.5 442C154 444.3 152.2 451.3 151.5 456C150.8 460.7 150.2 466 150.5 470C150.8 474 151.9 477 153 480C154.1 483 155.5 485 157 488C158.5 491 160.4 495.5 162 498C163.6 500.5 165.8 502.2 166.5 503"/>
<path fill="#fff" d="M151.5 419.5C151.8 421.2 152.4 426.4 153.5 430C154.6 433.6 155.9 437.2 158 441C160.1 444.8 164 449.8 166 453C168 456.2 169.3 458.8 170 460L170 478C170.1 479.7 170.8 484.7 170.5 488C170.2 491.3 169.9 495.4 168.5 498C167.1 500.6 161.9 500.6 162 503.4C162.1 506.2 166.2 511.2 169.2 514.8C172.2 518.4 176.2 521.9 180 525C183.8 528.1 187 530.6 192 533.4C197 536.2 203 539.3 210 541.8C217 544.3 226 546.7 234 548.4C242 550.1 250 551.2 258 552C266 552.8 273 553.2 282 553.2C291 553.2 307 552.2 312 552L312 418Z"/>
<path fill="none" stroke="#2a2524" stroke-width="2.3" d="M170 478C170.1 479.7 170.8 484.7 170.5 488C170.2 491.3 169.9 495.4 168.5 498C167.1 500.6 161.9 500.6 162 503.4C162.1 506.2 166.2 511.2 169.2 514.8C172.2 518.4 176.2 521.9 180 525C183.8 528.1 187 530.6 192 533.4C197 536.2 203 539.3 210 541.8C217 544.3 226 546.7 234 548.4C242 550.1 250 551.2 258 552C266 552.8 273 553.2 282 553.2C291 553.2 307 552.2 312 552"/>
<path fill="none" stroke="#2a2524" stroke-width="2.53" d="M151.5 419.5C151.8 421.2 152.4 426.4 153.5 430C154.6 433.6 155.9 437.2 158 441C160.1 444.8 162.8 449.2 166 453C169.2 456.8 172.7 460.2 177 464C181.3 467.8 186.5 472.8 192 476C197.5 479.2 204.5 480.7 210 483C215.5 485.3 220 487.8 225 490C230 492.2 234.2 493.8 240 496C245.8 498.2 253.3 501.1 260 503C266.7 504.9 271.7 506.3 280 507.5C288.3 508.7 305 509.8 310 510.2"/>
<path fill="none" stroke="#2a2524" stroke-width="1.49" d="M165 443.5C166.3 443.7 170.5 443.2 173 444.5C175.5 445.8 177.2 448.2 180 451C182.8 453.8 186.7 458 190 461C193.3 464 196.7 466.8 200 469C203.3 471.2 205.8 472.3 210 474.5C214.2 476.7 220 479.8 225 482C230 484.2 234.2 485.8 240 488C245.8 490.2 253.3 493 260 495C266.7 497 273.3 498.7 280 500C286.7 501.3 295 502.4 300 503C305 503.6 308.3 503.7 310 503.8"/>
<path fill="none" stroke="#2a2524" stroke-width="1.1" d="M222 504C225 505.2 233.7 508.8 240 511C246.3 513.2 253.3 515.2 260 517C266.7 518.8 271.7 520.4 280 522C288.3 523.6 305 525.8 310 526.5"/>
<path fill="none" stroke="#2a2524" stroke-width="1.1" d="M165 443.5C167.5 442.8 174.2 440.9 180 439.5C185.8 438.1 193.3 436.2 200 435C206.7 433.8 218.3 432.3 220 432C221.7 431.7 208.3 433.1 210 433C211.7 432.9 224.2 431.6 230 431.5C235.8 431.4 240.8 432 245 432.5C249.2 433 251.7 433.8 255 434.5C258.3 435.2 263.3 436.6 265 437"/>
<path fill="none" stroke="#2a2524" stroke-width="1.1" d="M158 434.5C160.3 434.2 165 433.9 172 433C179 432.1 192 430.1 200 429C208 427.9 218.3 426.6 220 426.5C221.7 426.4 207.5 428.2 210 428.5C212.5 428.8 228 427.8 235 428C242 428.2 247.2 428.8 252 430C256.8 431.2 262 434.2 264 435"/>
<path fill="none" stroke="#2a2524" stroke-width="1.1" d="M172 428C176.7 427.5 192 425.8 200 425C208 424.2 218.3 423.8 220 423.5C221.7 423.2 206.7 422.9 210 423C213.3 423.1 232 423.3 240 424C248 424.7 253.7 425.8 258 427C262.3 428.2 263.2 429.3 266 431C268.8 432.7 272 435.6 275 437C278 438.4 282 439.7 284 439.5C286 439.3 287.3 437.2 287 436C286.7 434.8 283.2 433.5 282 432C280.8 430.5 281.3 428.3 280 427C278.7 425.7 276.3 424.5 274 424C271.7 423.5 268.8 424.6 266 424C263.2 423.4 258.5 421.1 257 420.5"/>
<path fill="none" stroke="#2a2524" stroke-width="1.1" d="M167 420C167.5 421.3 169.2 425.8 170 428C170.8 430.2 171.7 432.2 172 433"/>
<path fill="none" stroke="#2a2524" stroke-width="1.1" d="M194 462C194.2 461 194 458 195 456C196 454 197.7 451.3 200 450C202.3 448.7 204.8 448.3 209 448.2C213.2 448.1 219.7 449.2 225 449.2C230.3 449.2 238.3 448.2 241 448"/>
<path fill="none" stroke="#2a2524" stroke-width="1.1" d="M241 447.5C241.4 446.4 242.7 442.8 243.5 441C244.3 439.2 244.9 437.5 246 436.5C247.1 435.5 247.2 434.7 250 435C252.8 435.3 260.2 438.4 263 438.5C265.8 438.6 266.3 436.2 267 435.8"/>
<path fill="none" stroke="#2a2524" stroke-width="1.1" d="M241 447.5C242.5 448.1 246.8 449.2 250 451C253.2 452.8 256.3 455.8 260 458C263.7 460.2 267.8 462 272 464C276.2 466 282.8 469 285 470"/>
<path fill="none" stroke="#2a2524" stroke-width="1.1" d="M273 439.5C274.2 439.2 277.5 436.8 280 438C282.5 439.2 287 445 288 447C289 449 288 450.1 286 450C284 449.9 278.2 448.2 276 446.5C273.8 444.8 273.5 440.7 273 439.5"/>
<path fill="none" stroke="#2a2524" stroke-width="1.1" d="M289 447C290.4 447.2 296.5 446 297.5 448C298.5 450 296.2 456 295 459C293.8 462 291.7 464.2 290 466C288.3 467.8 286.7 467.3 285 470C283.3 472.7 282.5 478.7 280 482C277.5 485.3 273.2 487.8 270 490C266.8 492.2 262 495.1 261 495.5C260 495.9 263.5 493 264 492.5"/>
<path fill="none" stroke="#2a2524" stroke-width="1.1" d="M297.5 448C296.8 452.3 295 464.8 293 474C291 483.2 286 498.6 285.5 503C285 507.4 287.9 500.3 290 500.2C292.1 500.1 296.7 501.9 298 502.2"/>
<path fill="none" stroke="#2a2524" stroke-width="1.1" d="M310 451C309 453.5 305.7 461.2 304 466C302.3 470.8 301 474 300 480C299 486 297.2 498.9 298 502.2C298.8 505.5 303 500.2 305 500C307 499.8 309.2 500.8 310 501"/>
<path fill="none" stroke="#2a2524" stroke-width="1.1" d="M310 478C309 479.7 305.7 484 304 488C302.3 492 300.7 499.8 300 502.2"/>
<path fill="none" stroke="#2a2524" stroke-width="1.1" d="M287 420C287.3 421.7 287.7 427 289 430C290.3 433 291.5 435.6 295 438C298.5 440.4 307.5 443.2 310 444.2"/>
<path fill="none" stroke="#2a2524" stroke-width="2.3" d="M287 420C287.3 421.7 287.7 427 289 430C290.3 433 291.5 435.6 295 438C298.5 440.4 307.5 443.2 310 444.2"/>
<path fill="none" stroke="#999" stroke-width="0.8" d="M249 437.5C251.7 439.1 259.8 444.2 265 447C270.2 449.8 275.7 452.1 280 454C284.3 455.9 289.2 457.8 291 458.5"/>
<path fill="#fff" stroke="#2a2524" stroke-width="2.18" stroke-linejoin="round" d="M14 569.3L24.5 561.5L107 500L130 483.2L130 483.2C133.3 481.3 145 474.4 150 472C155 469.6 157.3 470.2 160 469C162.7 467.8 164.3 466.4 166 465C167.7 463.6 168.7 461 170 460.5C171.3 460 172.9 461.1 174 462C175.1 462.9 176.1 465.3 176.5 466L175 470C174 471.3 172.3 475 169 478C165.7 481 161.5 483.4 155 488C148.5 492.6 134.2 502.6 130 505.5L130 505.5L120 513.5L24.5 585L14 592.9Z"/>
<path fill="none" stroke="#2a2524" stroke-width="1.2" d="M14 586.9L24.5 579L120 507.5L130 499.5L130 499.5C133.3 496.8 144.5 487.3 150 483.5C155.5 479.7 159.3 478.4 163 476.5C166.7 474.6 169.9 473.6 172 472C174.1 470.4 174.9 467.8 175.5 467"/>
<path fill="none" stroke="#2a2524" stroke-width="0.8" d="M239.5 423L212 530"/>
<path fill="#161414" d="M208.2 499.2C206.1 499.7 204.6 502.6 203.4 505.8C202.2 509 200.5 515 201 518.4C201.5 521.8 204.1 523.9 206.4 526.2C208.7 528.5 211.8 531.3 214.8 532.2C217.8 533.1 222 532.7 224.4 531.6C226.8 530.5 227.8 528.8 229.2 525.6C230.6 522.4 233.2 515.3 232.8 512.4C232.4 509.5 229.6 509.8 226.8 508.2C224 506.6 219.1 504.3 216 502.8C212.9 501.3 210.3 498.7 208.2 499.2Z"/>
<path fill="#9a9a9a" d="M206 438.5L213.2 439.5L211.2 451.5L214.8 452.3L204.5 464.8L200.3 449.8L203.7 450.5Z"/>
<path fill="#fff" stroke="#2a2524" stroke-width="2.07" d="M226 447.8C227.2 447.6 234.9 448.6 236 449.2C237.1 449.8 237.4 452.4 237.2 454C237 455.6 235.4 463.9 234 464.8C232.6 465.7 224.2 463 223 462.5C221.8 462 221.8 461.1 222 460C222.2 458.9 224.1 452.2 224.5 451C224.9 449.8 224.8 448 226 447.8Z"/>
<path fill="#e8e8e8" stroke="#777" stroke-width="0.8" d="M227.5 451L234.5 452L232.5 462L225.5 460.5Z"/>
<path fill="none" stroke="#2a2524" stroke-width="1" d="M218 452.5L224.5 454.2"/>
<path fill="none" stroke="#2a2524" stroke-width="1" d="M237.5 457.5C238.1 457.6 240.7 457.5 241 458C241.3 458.5 240.2 460 239.5 460.5C238.8 461 237 460.9 236.5 461"/>
<path fill="none" stroke="#2a2524" stroke-width="1" d="M222 454C221.8 454.4 220.2 455.7 220.5 456.5C220.8 457.3 223 458.6 223.5 459"/>
<path fill="#fff" stroke="#2a2524" stroke-width="1.49" stroke-linejoin="round" d="M222.8 468.8L231.2 470L228.8 483.5L220.3 481.5Z"/>
<path fill="#4a4646" stroke="#2a2524" stroke-width="1.49" stroke-linejoin="round" d="M222.8 468.8L231.2 470L230 476.5L221.7 475.2Z"/>
<rect x="20" y="520.5" width="150.8" height="90" fill="#fff" stroke="#2a2524" stroke-width="1.1"/>
<path fill="none" stroke="#3a3636" stroke-width="0.9" d="M98 521.2L100.1 529.6L95.2 532.4"/>
<path fill="none" stroke="#3a3636" stroke-width="0.9" d="M107.8 521.2L102.9 537.3"/>
<path fill="#fff" stroke="#3a3636" stroke-width="0.9" stroke-linejoin="round" d="M103.6 538.7L131.6 534.1L133.7 541.9L106.7 550.9Z"/>
<path fill="#fff" stroke="#3a3636" stroke-width="0.9" stroke-linejoin="round" d="M132.7 535.5C133.9 535 138.3 532.5 140 532.8C141.7 533.1 142.8 535.9 143.1 537.3C143.4 538.7 143.1 540.5 141.7 541.5C140.3 542.5 135.8 543 134.7 543.3"/>
<path fill="none" stroke="#3a3636" stroke-width="0.8" d="M107.8 537.3L110.3 549.1"/>
<path fill="none" stroke="#3a3636" stroke-width="0.8" d="M109.9 537L112.4 548.4"/>
<path fill="none" stroke="#3a3636" stroke-width="0.8" d="M112 536.7L114.5 547.8"/>
<path fill="none" stroke="#3a3636" stroke-width="0.8" d="M114.1 536.3L116.6 547.2"/>
<path fill="none" stroke="#3a3636" stroke-width="0.8" d="M127.4 534.9L129.5 543.3"/>
<path fill="#fff" stroke="#3a3636" stroke-width="0.9" stroke-linejoin="round" d="M91 534.5C91.2 532.3 96.7 530.2 97.7 530.3C98.8 530.4 100.8 532.9 101.5 535.2C102.2 537.5 104.4 551.2 104.3 553.4C104.2 555.6 100.9 557.5 100.1 557.3C99.3 557.2 96.8 554.3 95.9 552C95 549.7 90.8 536.7 91 534.5Z"/>
<path fill="none" stroke="#3a3636" stroke-width="0.8" d="M95.2 532.4C95.9 533.3 98.3 534.1 99.4 538C100.5 541.8 101.5 552.6 101.9 555.5"/>
<path fill="#fff" stroke="#3a3636" stroke-width="0.9" stroke-linejoin="round" d="M84.7 542.5C85.2 540.9 89 540 90.3 540.1C91.5 540.2 93.6 542 94.1 543.6C94.5 545.2 94.3 550.5 93.8 552C93.3 553.5 91.3 555.1 90.3 555.1C89.3 555.1 87.3 553.7 86.5 552C85.8 550.3 84.2 544.1 84.7 542.5Z"/>
<path fill="#fff" stroke="#3a3636" stroke-width="0.9" stroke-linejoin="round" d="M53.2 554.8C53.5 553.5 54.7 550.5 56 549.2C57.3 547.9 61.9 544.8 64.4 543.6C66.8 542.4 74.8 538.9 77 538.7C79.2 538.5 81.8 539.9 82.9 541.5C84 543.1 85.9 549.6 86.5 552C87.2 554.4 88.8 560.5 88.5 562.1C88.2 563.6 86.6 564.4 84 565.3C81.4 566.2 68.9 570 65.8 570.2C62.7 570.4 58.9 568.5 57.4 567.4C55.9 566.3 53.7 561.9 53.2 560.4C52.7 558.9 52.9 556.1 53.2 554.8Z"/>
<path fill="none" stroke="#3a3636" stroke-width="0.8" d="M64.4 543.9C65 545.2 66.8 549.6 67.9 552C68.9 554.4 67.3 556.5 70.7 558.3C74.1 560.1 85.3 562.1 88.2 562.9"/>
<path fill="none" stroke="#3a3636" stroke-width="0.7" d="M60.2 546.7C60.7 548.3 62.3 553.4 63 556.2C63.7 559 60.9 561.6 64.4 563.2C67.9 564.8 80.7 565.3 84 565.7"/>
<circle cx="75.6" cy="547.5" r="1.6" fill="none" stroke="#3a3636" stroke-width="0.7"/>
</g></g>
<g clip-path="url(#c3)">
<path fill="none" stroke="#9a9a9a" stroke-width="0.9" stroke-linejoin="round" stroke-linecap="round" d="M746.7 535.1C748.4 534.3 752.4 531.3 756.6 530.2C760.8 529.1 766.7 528.2 772 528.5C777.3 528.8 783 530 788.5 531.8C794 533.6 802.2 538.2 805 539.5"/>
<path fill="none" stroke="#9a9a9a" stroke-width="0.9" stroke-linejoin="round" stroke-linecap="round" d="M786.3 519.2C787.6 518.7 790.9 516.8 794 515.9C797.1 515 802.9 514.7 805 513.7C807.1 512.7 801.7 510.9 806.5 509.8C811.3 508.7 829.4 507.6 834 507.1"/>
<path fill="none" stroke="#9a9a9a" stroke-width="0.9" stroke-linejoin="round" stroke-linecap="round" d="M849.4 506.5C852.3 506.4 860.8 505.6 867 505.6C873.2 505.6 883.5 506.4 886.8 506.5"/>
<path fill="none" stroke="#9a9a9a" stroke-width="0.9" stroke-linejoin="round" stroke-linecap="round" d="M790 518.1C793.7 517.4 805 514.8 812 513.7C819 512.6 828.5 511.9 831.8 511.5"/>
<path fill="none" stroke="#9a9a9a" stroke-width="0.9" stroke-linejoin="round" stroke-linecap="round" d="M849.4 510.7C852.3 510.6 861.1 509.8 867 509.8C872.9 509.8 881.7 510.4 884.6 510.5"/>
<path fill="none" stroke="#9a9a9a" stroke-width="0.9" stroke-linejoin="round" stroke-linecap="round" d="M804.3 526.9C806.5 526.3 812.9 524 817.5 523.2C822.1 522.4 829.4 522.1 831.8 521.9"/>
<path fill="none" stroke="#9a9a9a" stroke-width="0.9" stroke-linejoin="round" stroke-linecap="round" d="M842.8 521.9C845 521.6 850.1 520.8 856 520.4C861.9 520 874.3 519.8 878 519.7"/>
<path fill="none" stroke="#9a9a9a" stroke-width="0.9" stroke-linejoin="round" stroke-linecap="round" d="M756.6 513.7C761 515.2 774.9 519.6 783 523C791.1 526.4 801.3 532.2 805 534"/>
<path fill="none" stroke="#9a9a9a" stroke-width="0.9" stroke-linejoin="round" stroke-linecap="round" d="M722.5 571.4C720.7 574.3 714.2 584 711.5 589C708.8 594 707.8 596.7 706 601.1C704.2 605.5 701.7 613 700.8 615.4"/>
<path fill="none" stroke="#9a9a9a" stroke-width="0.9" stroke-linejoin="round" stroke-linecap="round" d="M709.3 551.6C708 553.1 703.6 557.8 701.6 560.4C699.6 563 697.9 565.9 697.2 567"/>
<path fill="none" stroke="#9a9a9a" stroke-width="0.9" stroke-linejoin="round" stroke-linecap="round" d="M872 506.5L888.5 506.5"/>
<path fill="none" stroke="#9a9a9a" stroke-width="0.9" stroke-linejoin="round" stroke-linecap="round" d="M872 518.6L886.3 518.1"/>
<path fill="none" stroke="#9a9a9a" stroke-width="0.9" stroke-linejoin="round" stroke-linecap="round" d="M911.6 506.5C914.2 507 923 508.6 927 509.3C931 510 934.3 510.6 935.8 510.9"/>
<path fill="none" stroke="#9a9a9a" stroke-width="0.9" stroke-linejoin="round" stroke-linecap="round" d="M916 521.9L922.6 523"/>
<path fill="none" stroke="#9a9a9a" stroke-width="0.9" stroke-linejoin="round" stroke-linecap="round" d="M958.9 515.9C960.5 516.4 965.7 517.7 968.8 518.6C971.9 519.5 976.1 520.9 977.6 521.4"/>
<path fill="none" stroke="#9a9a9a" stroke-width="0.9" stroke-linejoin="round" stroke-linecap="round" d="M960 531.8C961.5 532.2 965.9 533.1 968.8 534C971.7 534.9 976.1 536.8 977.6 537.3"/>
<path fill="none" stroke="#2a2524" stroke-width="1.84" stroke-linejoin="round" stroke-linecap="round" d="M722.5 526.9C725.2 528.1 732.6 531.7 739 534C745.4 536.3 754.8 538.8 761 540.6C767.2 542.4 771.8 543.5 776.4 545C781 546.5 783.7 547.8 788.5 549.4C793.3 551 801.1 553.1 805 554.9C808.9 556.7 809.5 558.4 812 560.4C814.5 562.4 817.9 565.2 819.7 567C821.5 568.8 822.5 570.7 823 571.4"/>
<path fill="none" stroke="#2a2524" stroke-width="1.84" stroke-linejoin="round" stroke-linecap="round" d="M709.3 536.8C712.4 536.9 721.2 536.5 728 537.3C734.8 538.1 742.7 539.9 750 541.7C757.3 543.5 762.8 545.2 772 548.3C781.2 551.4 798.7 557.3 805 560.4C811.3 563.5 807.5 564.4 809.8 567C812.1 569.6 816.4 573 818.6 575.8C820.8 578.5 822.3 582.2 823 583.5"/>
<path fill="none" stroke="#2a2524" stroke-width="1.84" stroke-linejoin="round" stroke-linecap="round" d="M772 505.4C773.1 507 775.9 512.5 778.6 515.3C781.4 518 784.8 519.9 788.5 521.9C792.2 523.9 796.5 525 801 527.4C805.5 529.8 811.3 533.8 815.3 536.2C819.3 538.6 822.1 539.5 825.2 541.7C828.3 543.9 831.2 546.6 834 549.4C836.8 552.1 838.8 555.6 841.7 558.2C844.6 560.8 848.5 563.1 851.6 564.8C854.7 566.4 858.9 567.5 860.4 568.1"/>
<path fill="none" stroke="#2a2524" stroke-width="1.84" stroke-linejoin="round" stroke-linecap="round" d="M697.2 575.8C699.2 573.6 704.7 567 709.3 562.6C713.9 558.2 722.1 551.6 724.7 549.4"/>
<path fill="none" stroke="#2a2524" stroke-width="1.84" stroke-linejoin="round" stroke-linecap="round" d="M740.1 576.9C738.8 578.4 735.3 581.7 732.4 585.7C729.5 589.7 725.4 596.2 722.5 601.1C719.6 606 716.3 613 715.1 615.4"/>
<path fill="none" stroke="#2a2524" stroke-width="1.84" stroke-linejoin="round" stroke-linecap="round" d="M740.1 576.9C740.3 576.4 740.7 575.6 741.2 573.6C741.8 571.6 741.9 567 743.4 564.8C744.9 562.6 747.1 560.8 750 560.4C752.9 560 756.4 561.1 761 562.6C765.6 564.1 772 566.6 777.5 569.2C783 571.8 790 575.2 794 578C798 580.8 800.5 584.4 801.7 585.7C802.9 587 800.9 584.4 801 585.7C801.1 587 802.8 591 802.1 593.4C801.4 595.8 799.1 596.5 796.6 600C794.1 603.5 788.7 611.9 787.1 614.3"/>
<path fill="none" stroke="#2a2524" stroke-width="1.84" stroke-linejoin="round" stroke-linecap="round" d="M741.2 615.4C746 613 762.8 604.4 769.8 601.1C776.8 597.8 777.1 597.1 783 595.8C788.9 594.5 800.2 593.9 805 593.4C809.8 592.9 809 592.7 812 592.9C815 593.1 821.2 594.2 823 594.5"/>
<path fill="#2a2524" d="M775.9 544.7C775.4 544.2 778 543.4 779.7 543.7C781.4 544 785.8 546.2 786.3 546.7C786.8 547.2 784.7 547 783 546.7C781.3 546.4 776.4 545.2 775.9 544.7Z"/>
<path fill="none" stroke="#5a5655" stroke-width="1" stroke-linejoin="round" stroke-linecap="round" d="M754.4 512C755.1 513.8 757.5 518.4 758.8 523C760.1 527.6 761.5 536.8 762.1 539.5"/>
<path fill="none" stroke="#5a5655" stroke-width="1" stroke-linejoin="round" stroke-linecap="round" d="M709.3 536.8C710.6 537.6 714.4 539.8 717 541.7C719.6 543.6 723.2 545.5 724.7 548.3C726.2 551 724.7 554.7 725.8 558.2C726.9 561.7 728.9 566.1 731.3 569.2C733.7 572.3 738.6 575.6 740.1 576.9"/>
<path fill="none" stroke="#5a5655" stroke-width="1" stroke-linejoin="round" stroke-linecap="round" d="M710.4 538.4C715.2 538.6 730.2 538 739 539.5C747.8 541 754 543.7 763.2 547.2C772.4 550.7 788.9 558.2 794 560.4"/>
<path fill="none" stroke="#5a5655" stroke-width="1" stroke-linejoin="round" stroke-linecap="round" d="M790 527.4C791.8 528.3 797.3 530.9 801 532.9C804.7 534.9 808.3 536.8 812 539.5C815.7 542.2 820.2 546.5 823 549.4C825.8 552.3 827.6 555.8 828.5 557.1"/>
<path fill="none" stroke="#5a5655" stroke-width="1" stroke-linejoin="round" stroke-linecap="round" d="M790 534C791.8 534.7 797.3 536.4 801 538.4C804.7 540.4 808.7 543.4 812 546.1C815.3 548.9 818.4 552.1 820.8 554.9C823.2 557.6 824.5 561.2 826.3 562.6C828.1 564 830.9 563.1 831.8 563.2"/>
<path fill="none" stroke="#5a5655" stroke-width="1" stroke-linejoin="round" stroke-linecap="round" d="M714.7 615.4C724.6 613 761.9 603.9 774.2 601.1C786.5 598.3 783.4 599 788.5 598.4C793.6 597.8 801.1 597.7 805 597.3C808.9 596.9 809 596.2 812 596.2C815 596.2 821.2 597.1 823 597.3"/>
<path fill="none" stroke="#2a2524" stroke-width="1.72" stroke-linejoin="round" stroke-linecap="round" d="M825.2 540.8C828.5 540.2 838 538.3 845 537.5C852 536.7 861 536.3 867 536.2C873 536.1 878.9 536.7 881.3 536.8"/>
<path fill="none" stroke="#2a2524" stroke-width="1.72" stroke-linejoin="round" stroke-linecap="round" d="M838.4 551.6C839.9 552.3 843.9 555.5 847.2 556C850.5 556.5 854.5 555.8 858.2 554.9C861.9 554 866.1 552.3 869.2 550.5C872.3 548.7 874.9 546.1 876.9 543.9C878.9 541.7 880.6 538.4 881.3 537.3"/>
<path fill="none" stroke="#2a2524" stroke-width="1.72" stroke-linejoin="round" stroke-linecap="round" d="M860.4 568.1C860.6 567 860.4 563.1 861.5 561.5C862.6 559.9 865 558.4 867 558.2C869 558 872 560.8 873.6 560.4C875.2 560 876.4 557.5 876.9 556C877.4 554.5 876.9 552.3 876.9 551.6"/>
<path fill="none" stroke="#2a2524" stroke-width="1.84" stroke-linejoin="round" stroke-linecap="round" d="M823 571.4C823.9 568.8 831.5 562.5 834 561.5C836.5 560.5 839.6 562.4 841.7 563.7C843.8 565 848.3 569.5 849.4 571.4C850.5 573.3 850.9 575.7 850 578C849.1 580.3 844.3 587.4 842.8 589C841.3 590.6 840.5 591.1 838.4 590.1C836.3 589.1 829.5 583.8 827.4 581.3C825.3 578.8 822.1 574 823 571.4Z"/>
<path fill="none" stroke="#2a2524" stroke-width="1.72" stroke-linejoin="round" stroke-linecap="round" d="M838.4 590.1C837.7 591.9 835.5 596.9 834 601.1C832.5 605.3 830.2 613 829.4 615.4"/>
<path fill="none" stroke="#2a2524" stroke-width="1.72" stroke-linejoin="round" stroke-linecap="round" d="M842.8 589C843.2 591 844.3 596.7 845 601.1C845.7 605.5 846.8 613 847.1 615.4"/>
<path fill="none" stroke="#2a2524" stroke-width="1.72" stroke-linejoin="round" stroke-linecap="round" d="M823 583.5C823.5 584.4 826.3 586.2 826.3 589C826.3 591.8 824.1 595.8 823 600C821.9 604.2 820.2 611.9 819.6 614.3"/>
<path fill="none" stroke="#2a2524" stroke-width="2.07" stroke-linejoin="round" stroke-linecap="round" d="M841 615.4C841.3 613 842.1 605.9 842.8 601.1C843.5 596.3 843.2 591 845 586.8C846.8 582.6 850.1 578.7 853.8 575.8C857.5 572.9 862 570.6 867 569.2C872 567.8 878 567 883.5 567.6C889 568.2 897.9 571.7 900 573.1C902.1 574.5 895.4 573.7 896.2 575.8C897 577.9 903.2 581.5 905 585.7C906.8 589.9 906.6 596.2 907.2 601.1C907.8 606 908.5 613 908.8 615.4"/>
<ellipse cx="875.3" cy="584.8" rx="20.5" ry="11.5" fill="none" stroke="#9a9a9a" stroke-width="0.9"/>
<path fill="none" stroke="#2a2524" stroke-width="1.84" stroke-linejoin="round" stroke-linecap="round" d="M888.5 492.2C889 493.5 891.8 496.6 891.8 499.9C891.8 503.2 890 506.3 888.5 512C887 517.7 884.6 528.5 883 534C881.4 539.5 879.9 541.3 878.6 545C877.3 548.7 875.7 552.3 875.3 556C874.9 559.7 876.2 565.2 876.4 567"/>
<path fill="none" stroke="#5a5655" stroke-width="1.1" stroke-linejoin="round" stroke-linecap="round" d="M905 494.4C903.5 497.3 898.8 505.4 896.2 512C893.6 518.6 891.2 527.6 889.6 534C888 540.4 887 545.2 886.3 550.5C885.6 555.8 885.4 563.3 885.2 565.9"/>
<path fill="#666" d="M888.5 493.3C889 493.5 891.5 498.1 891.8 499.9C892.1 501.7 890.8 504.5 890.2 504.3C889.7 504.1 888.8 500.6 888.5 498.8C888.2 497 888 493.1 888.5 493.3Z"/>
<path fill="none" stroke="#2a2524" stroke-width="1.72" stroke-linejoin="round" stroke-linecap="round" d="M908.3 492.8C906.8 495.6 901.9 502.9 899.5 509.8C897.1 516.7 894.9 527.6 894 534C893.1 540.4 893.3 545 894 548.3C894.7 551.6 896.6 553.6 898.4 553.8C900.2 554 902.4 552.1 905 549.4C907.6 546.6 910.9 541.1 913.8 537.3C916.7 533.4 919.3 530.5 922.6 526.3C925.9 522.1 929.4 516.8 933.6 512C937.8 507.2 945.5 500.1 947.9 497.7"/>
<path fill="none" stroke="#2a2524" stroke-width="1.95" stroke-linejoin="round" stroke-linecap="round" d="M906.1 526.3C905.1 526.9 903.7 529.6 902.8 531.8C901.9 534 900.1 540.2 899.5 542.8C898.9 545.4 898.1 550.7 898.4 551.6C898.7 552.5 900.5 551.2 901.7 549.4C902.9 547.6 906 540.5 907.2 538.4C908.4 536.3 910.1 535.5 910.5 534C910.9 532.5 911.1 528.4 910.5 527.4C909.9 526.4 907.1 525.7 906.1 526.3Z"/>
<path fill="none" stroke="#5a5655" stroke-width="1" stroke-linejoin="round" stroke-linecap="round" d="M908.3 492.8C909 495.1 911.8 501.5 912.7 506.5C913.6 511.5 914 518 913.8 523C913.6 528 912 534 911.6 536.2"/>
<path fill="none" stroke="#2a2524" stroke-width="1.72" stroke-linejoin="round" stroke-linecap="round" d="M966.6 501.6C963.7 503.3 954.5 507.7 949 512C943.5 516.3 938.4 522.3 933.6 527.4C928.8 532.5 923.9 538.2 920.4 542.8C916.9 547.4 914.4 552 912.7 554.9C911.1 557.8 910.9 559.5 910.5 560.4"/>
<path fill="none" stroke="#5a5655" stroke-width="1.1" stroke-linejoin="round" stroke-linecap="round" d="M966.6 501.6C965.3 503.3 960.7 509 958.9 512C957.1 515 956 517 955.6 519.7C955.2 522.5 957.1 525.6 956.7 528.5C956.3 531.4 954.3 534.9 953.4 537.3C952.5 539.7 951.6 541.9 951.2 542.8"/>
<path fill="none" stroke="#5a5655" stroke-width="1" stroke-linejoin="round" stroke-linecap="round" d="M938 504.3C935.8 506.7 928.8 513.6 924.8 518.6C920.8 523.6 915.6 531.4 913.8 534"/>
<path fill="none" stroke="#2a2524" stroke-width="1.95" stroke-linejoin="round" stroke-linecap="round" d="M977.6 556C975.3 555.1 963.5 550.7 960 549.4C956.5 548.1 952.7 547.7 951.2 546.1C949.7 544.5 950 539.1 949 537.3C948 535.5 945.6 532.5 943.5 532.9C941.4 533.3 935.8 538.1 933.6 540.6C931.4 543.1 928.2 549 927 551.6C925.8 554.2 924.5 558.1 924.8 560.4C925.1 562.7 927.4 567.4 929.2 569.2C931 571 935.4 573.6 938 573.6C940.6 573.6 945.3 570.4 949 569.2C952.7 568 961.7 565.7 965.5 564.8C969.3 563.9 976 562.9 977.6 562.6"/>
<path fill="none" stroke="#2a2524" stroke-width="1.95" stroke-linejoin="round" stroke-linecap="round" d="M891.8 567C892.1 564.4 898.5 559.5 900.6 558.2C902.7 556.9 905.7 556.7 907.2 557.1C908.7 557.5 911 560.2 911.6 561.5C912.2 562.8 910.7 565.7 911.6 567C912.5 568.3 917.5 570.1 918.2 571.4C918.9 572.7 918 576 917.1 576.9C916.2 577.8 913.2 576.7 911.6 578C910 579.3 906.8 586.8 905 586.8C903.2 586.8 900.2 580.6 898.4 578C896.6 575.4 891.5 569.6 891.8 567Z"/>
<path fill="none" stroke="#2a2524" stroke-width="1.95" stroke-linejoin="round" stroke-linecap="round" d="M920.4 589C920.9 587 922.8 583.1 924.8 581.3C926.8 579.5 931.3 577.4 933.6 576.9C935.9 576.4 938.9 577 940.2 578C941.5 579 942.7 581.7 942.4 583.5C942.1 585.3 940 588.5 938 590.1C936 591.8 931.7 593.8 929.2 594.5C926.7 595.2 922.8 595.3 921.5 594.5C920.2 593.7 919.9 591 920.4 589Z"/>
<path fill="none" stroke="#2a2524" stroke-width="1.72" stroke-linejoin="round" stroke-linecap="round" d="M917.1 576.9L927 578"/>
<path fill="none" stroke="#2a2524" stroke-width="1.72" stroke-linejoin="round" stroke-linecap="round" d="M905 586.8C905.4 589.2 906.5 596.3 907.2 601.1C907.9 605.9 908.7 613 909 615.4"/>
<path fill="none" stroke="#2a2524" stroke-width="1.84" stroke-linejoin="round" stroke-linecap="round" d="M938 573.6C940.8 573 947.9 571.6 954.5 570.3C961.1 569 973.8 566.6 977.6 565.9"/>
<path fill="none" stroke="#5a5655" stroke-width="1" stroke-linejoin="round" stroke-linecap="round" d="M944.6 578C947.2 577.3 954.5 574.7 960 573.6C965.5 572.5 974.7 571.8 977.6 571.4"/>
<path fill="none" stroke="#2a2524" stroke-width="1.84" stroke-linejoin="round" stroke-linecap="round" d="M942.4 589C945.3 588.1 954.1 584.8 960 583.5C965.9 582.2 974.7 581.7 977.6 581.3"/>
<path fill="none" stroke="#2a2524" stroke-width="1.84" stroke-linejoin="round" stroke-linecap="round" d="M916 597.3C919.7 596.6 930.7 594.8 938 593.4C945.3 592 953.4 590.1 960 589C966.6 587.9 974.7 587.2 977.6 586.8"/>
<path fill="none" stroke="#5a5655" stroke-width="1" stroke-linejoin="round" stroke-linecap="round" d="M878.7 614.3C887.9 611.9 920.1 603.3 933.6 600C947.1 596.7 952.7 595.8 960 594.5C967.3 593.2 974.7 592.7 977.6 592.3"/>
<path fill="#e8e8e8" d="M688.2 502.4C689.5 501.9 688.8 501.8 695.8 499.6C702.8 497.4 718 492.3 730 489.1C742 485.9 755.3 483 768 480.6C780.7 478.2 794.9 476.2 806 474.9C817.1 473.6 825.4 473.7 834.5 473C843.6 472.3 851.4 470.8 860.5 470.5C869.6 470.2 879.5 470.7 889 471.1C898.5 471.5 908 471.9 917.5 473C927 474.1 935.9 475.8 946 477.7C956.1 479.6 971.3 482.9 978.3 484.4C985.3 485.9 986.2 486.4 987.8 486.8L984.2 506.5C983.1 506.1 981.6 505.5 977.6 504.3C973.6 503.1 966.6 500.9 960 499.4C953.4 497.8 945.3 496.2 938 495C930.7 493.8 924.5 493 916 492.2C907.5 491.4 895 490.3 886.8 490C878.6 489.7 873.6 490.3 867 490.6C860.4 490.9 852.7 491.3 847.2 491.7C841.7 492.1 839.9 492.1 834 492.8C828.1 493.5 816.8 495.4 812 496.1C807.2 496.8 808.9 496.4 805 497.2C801.1 498 794 499.6 788.5 501C783 502.4 777.5 503.8 772 505.4C766.5 507 761 508.4 755.5 510.4C750 512.4 744.5 514.7 739 517.5C733.5 520.3 727.5 524.3 722.5 527.4C717.5 530.5 713.5 533.5 709.3 536.2C705.1 539 700.4 541.9 697.2 543.9C694 545.9 691.2 547.7 690 548.5Z"/>
<path fill="none" stroke="#a8a8a8" stroke-width="1" stroke-linejoin="round" stroke-linecap="round" d="M692.8 531.3C693.5 530.8 693.2 531 697.2 528.5C701.2 526 710 520 717 516.4C724 512.8 731.7 509.8 739 507.1C746.3 504.5 753.7 502.5 761 500.5C768.3 498.5 775.7 496.6 783 495C790.3 493.4 794.3 492.6 805 491.1C815.7 489.7 833.2 487.3 847.2 486.3C861.2 485.3 875.7 484.8 889 485.3C902.3 485.8 912.1 486.7 927 489.1C941.9 491.5 968.2 497.5 978.3 499.6C988.4 501.8 986.2 501.6 987.8 502"/>
<path fill="none" stroke="#c8c8c8" stroke-width="0.8" stroke-linejoin="round" stroke-linecap="round" d="M690 546.3C691.2 545.5 694 543.7 697.2 541.7C700.4 539.6 705.1 536.8 709.3 534C713.5 531.2 717.5 528.3 722.5 525.2C727.5 522.1 733.5 518.1 739 515.3C744.5 512.5 750 510.2 755.5 508.2C761 506.2 766.5 504.8 772 503.2C777.5 501.6 783 500.2 788.5 498.8C794 497.4 801.1 495.8 805 495C808.9 494.2 807.2 494.6 812 493.9C816.8 493.2 828.1 491.3 834 490.6C839.9 489.9 841.7 489.9 847.2 489.5C852.7 489.1 860.4 488.7 867 488.4C873.6 488.1 878.6 487.5 886.8 487.8C895 488.1 907.5 489.2 916 490C924.5 490.8 930.7 491.6 938 492.8C945.3 494 953.4 495.6 960 497.2C966.6 498.8 973.6 500.9 977.6 502.1C981.6 503.3 983.1 503.9 984.2 504.3"/>
<path fill="none" stroke="#2a2524" stroke-width="2.07" stroke-linejoin="round" stroke-linecap="round" d="M690 548.5C691.2 547.7 694 545.9 697.2 543.9C700.4 541.9 705.1 539 709.3 536.2C713.5 533.5 717.5 530.5 722.5 527.4C727.5 524.3 733.5 520.3 739 517.5C744.5 514.7 750 512.4 755.5 510.4C761 508.4 766.5 507 772 505.4C777.5 503.8 783 502.4 788.5 501C794 499.6 801.1 498 805 497.2C808.9 496.4 807.2 496.8 812 496.1C816.8 495.4 828.1 493.5 834 492.8C839.9 492.1 841.7 492.1 847.2 491.7C852.7 491.3 860.4 490.9 867 490.6C873.6 490.3 878.6 489.7 886.8 490C895 490.3 907.5 491.4 916 492.2C924.5 493 930.7 493.8 938 495C945.3 496.2 953.4 497.8 960 499.4C966.6 500.9 973.6 503.1 977.6 504.3C981.6 505.5 983.1 506.1 984.2 506.5"/>
<path fill="none" stroke="#2a2524" stroke-width="1.95" stroke-linejoin="round" stroke-linecap="round" d="M688.2 502.4C689.5 501.9 688.8 501.8 695.8 499.6C702.8 497.4 718 492.3 730 489.1C742 485.9 755.3 483 768 480.6C780.7 478.2 794.9 476.2 806 474.9C817.1 473.6 825.4 473.7 834.5 473C843.6 472.3 851.4 470.8 860.5 470.5C869.6 470.2 879.5 470.7 889 471.1C898.5 471.5 908 471.9 917.5 473C927 474.1 935.9 475.8 946 477.7C956.1 479.6 971.3 482.9 978.3 484.4C985.3 485.9 986.2 486.4 987.8 486.8"/>
<path fill="none" stroke="#2a2524" stroke-width="1.61" stroke-linejoin="round" d="M702.4 497.3l1.6 2.2l2.2 -2"/>
<path fill="none" stroke="#2a2524" stroke-width="1.61" stroke-linejoin="round" d="M723.9 490.7l1.6 2.2l2.2 -2"/>
<path fill="none" stroke="#2a2524" stroke-width="1.61" stroke-linejoin="round" d="M746.9 485.2l1.6 2.2l2.2 -2"/>
<path fill="none" stroke="#2a2524" stroke-width="1.61" stroke-linejoin="round" d="M771.4 480.1l1.6 2.2l2.2 -2"/>
<path fill="none" stroke="#2a2524" stroke-width="1.61" stroke-linejoin="round" d="M792.9 476.8l1.6 2.2l2.2 -2"/>
<path fill="none" stroke="#2a2524" stroke-width="1.61" stroke-linejoin="round" d="M815.9 474.3l1.6 2.2l2.2 -2"/>
<path fill="none" stroke="#2a2524" stroke-width="1.61" stroke-linejoin="round" d="M840.4 472.5l1.6 2.2l2.2 -2"/>
<path fill="none" stroke="#2a2524" stroke-width="1.61" stroke-linejoin="round" d="M861.9 470.8l1.6 2.2l2.2 -2"/>
<path fill="none" stroke="#2a2524" stroke-width="1.61" stroke-linejoin="round" d="M884.9 471.2l1.6 2.2l2.2 -2"/>
<path fill="none" stroke="#2a2524" stroke-width="1.61" stroke-linejoin="round" d="M909.4 472.8l1.6 2.2l2.2 -2"/>
<path fill="none" stroke="#2a2524" stroke-width="1.61" stroke-linejoin="round" d="M930.9 475.7l1.6 2.2l2.2 -2"/>
<path fill="none" stroke="#2a2524" stroke-width="1.61" stroke-linejoin="round" d="M953.9 479.9l1.6 2.2l2.2 -2"/>
<path fill="#fff" stroke="#2a2524" stroke-width="1.95" stroke-linejoin="round" d="M688.2 461.6C689.5 460.7 690.4 459.5 695.8 455.9C701.2 452.2 711.6 444.1 720.5 439.7C729.4 435.3 739.5 431.8 749 429.3C758.5 426.8 769.8 425.2 777.5 424.5C785.2 423.8 789.6 424.2 795 425C800.4 425.8 805.5 427.2 810 429C814.5 430.8 818.3 433.2 822 436C825.7 438.8 829 442 832 446C835 450 837.8 455.2 840 460C842.2 464.8 843.9 470 845 475C846.1 480 846.4 485 846.5 490C846.6 495 845.8 501.7 845.5 505C845.2 508.3 844.9 509.2 844.8 510L835.5 506C835.8 504.7 836.8 501.5 837 498C837.2 494.5 837.5 489.3 837 485C836.5 480.7 835.5 476.2 834 472C832.5 467.8 830.3 463.7 828 460C825.7 456.3 823.3 452.8 820 450C816.7 447.2 812.2 444.7 808 443C803.8 441.3 800.1 440.6 795 440C789.9 439.4 785.2 438.5 777.5 439.7C769.8 440.9 758.5 443.8 749 447.3C739.5 450.8 729.4 455.5 720.5 460.6C711.6 465.7 701.2 473.9 695.8 477.7C690.4 481.5 689.5 482.4 688.2 483.4Z"/>
<path fill="#fff" stroke="#2a2524" stroke-width="1.72" stroke-linejoin="round" d="M835.7 504.3L844.7 505.4L842.5 523L832.4 521.9Z"/>
<path fill="#fff" stroke="#2a2524" stroke-width="1.72" stroke-linejoin="round" stroke-linecap="round" d="M832.4 522.1C832.1 523.5 830.4 528.5 830.7 530.7C831 532.9 832.7 534.5 834 535.1C835.3 535.8 837.2 535.2 838.4 534.6C839.6 534 840.5 533.7 841.2 531.8C841.9 529.9 842.3 524.5 842.5 523"/>
<path fill="none" stroke="#9a9a9a" stroke-width="0.9" stroke-linejoin="round" stroke-linecap="round" d="M834.6 510.9L843.9 512"/>
<path fill="none" stroke="#9a9a9a" stroke-width="0.9" stroke-linejoin="round" stroke-linecap="round" d="M833.8 516.4L843.1 517.5"/>
<path fill="none" stroke="#9a9a9a" stroke-width="0.9" stroke-linejoin="round" stroke-linecap="round" d="M833.1 526.3L841.7 527.4"/>
<path fill="#fff" stroke="#2a2524" stroke-width="1.72" stroke-linejoin="round" stroke-linecap="round" d="M844.5 510.9C845.3 509.8 847.9 505.8 849.4 504.3C850.9 502.8 852.9 501.2 853.3 502.1C853.7 503 852.1 507.4 851.6 509.8C851.1 512.2 850.9 514.4 850 516.4C849.1 518.4 847.3 520.8 846.1 521.9C844.9 523 843.3 522.8 842.8 523"/>
<path fill="#2a2524" d="M849.4 504.3C849.6 503.4 852.8 501.3 853.3 501.9C853.8 502.4 852.9 507.2 852.2 507.6C851.6 508 849.2 505.2 849.4 504.3Z"/>
</g>
<g clip-path="url(#c4)">
<g transform="translate(-672 256)"><path fill="none" stroke="#9a9a9a" stroke-width="0.9" stroke-linejoin="round" stroke-linecap="round" d="M746.7 535.1C748.4 534.3 752.4 531.3 756.6 530.2C760.8 529.1 766.7 528.2 772 528.5C777.3 528.8 783 530 788.5 531.8C794 533.6 802.2 538.2 805 539.5"/>
<path fill="none" stroke="#9a9a9a" stroke-width="0.9" stroke-linejoin="round" stroke-linecap="round" d="M786.3 519.2C787.6 518.7 790.9 516.8 794 515.9C797.1 515 802.9 514.7 805 513.7C807.1 512.7 801.7 510.9 806.5 509.8C811.3 508.7 829.4 507.6 834 507.1"/>
<path fill="none" stroke="#9a9a9a" stroke-width="0.9" stroke-linejoin="round" stroke-linecap="round" d="M849.4 506.5C852.3 506.4 860.8 505.6 867 505.6C873.2 505.6 883.5 506.4 886.8 506.5"/>
<path fill="none" stroke="#9a9a9a" stroke-width="0.9" stroke-linejoin="round" stroke-linecap="round" d="M790 518.1C793.7 517.4 805 514.8 812 513.7C819 512.6 828.5 511.9 831.8 511.5"/>
<path fill="none" stroke="#9a9a9a" stroke-width="0.9" stroke-linejoin="round" stroke-linecap="round" d="M849.4 510.7C852.3 510.6 861.1 509.8 867 509.8C872.9 509.8 881.7 510.4 884.6 510.5"/>
<path fill="none" stroke="#9a9a9a" stroke-width="0.9" stroke-linejoin="round" stroke-linecap="round" d="M804.3 526.9C806.5 526.3 812.9 524 817.5 523.2C822.1 522.4 829.4 522.1 831.8 521.9"/>
<path fill="none" stroke="#9a9a9a" stroke-width="0.9" stroke-linejoin="round" stroke-linecap="round" d="M842.8 521.9C845 521.6 850.1 520.8 856 520.4C861.9 520 874.3 519.8 878 519.7"/>
<path fill="none" stroke="#9a9a9a" stroke-width="0.9" stroke-linejoin="round" stroke-linecap="round" d="M756.6 513.7C761 515.2 774.9 519.6 783 523C791.1 526.4 801.3 532.2 805 534"/>
<path fill="none" stroke="#9a9a9a" stroke-width="0.9" stroke-linejoin="round" stroke-linecap="round" d="M722.5 571.4C720.7 574.3 714.2 584 711.5 589C708.8 594 707.8 596.7 706 601.1C704.2 605.5 701.7 613 700.8 615.4"/>
<path fill="none" stroke="#9a9a9a" stroke-width="0.9" stroke-linejoin="round" stroke-linecap="round" d="M709.3 551.6C708 553.1 703.6 557.8 701.6 560.4C699.6 563 697.9 565.9 697.2 567"/>
<path fill="none" stroke="#9a9a9a" stroke-width="0.9" stroke-linejoin="round" stroke-linecap="round" d="M872 506.5L888.5 506.5"/>
<path fill="none" stroke="#9a9a9a" stroke-width="0.9" stroke-linejoin="round" stroke-linecap="round" d="M872 518.6L886.3 518.1"/>
<path fill="none" stroke="#9a9a9a" stroke-width="0.9" stroke-linejoin="round" stroke-linecap="round" d="M911.6 506.5C914.2 507 923 508.6 927 509.3C931 510 934.3 510.6 935.8 510.9"/>
<path fill="none" stroke="#9a9a9a" stroke-width="0.9" stroke-linejoin="round" stroke-linecap="round" d="M916 521.9L922.6 523"/>
<path fill="none" stroke="#9a9a9a" stroke-width="0.9" stroke-linejoin="round" stroke-linecap="round" d="M958.9 515.9C960.5 516.4 965.7 517.7 968.8 518.6C971.9 519.5 976.1 520.9 977.6 521.4"/>
<path fill="none" stroke="#9a9a9a" stroke-width="0.9" stroke-linejoin="round" stroke-linecap="round" d="M960 531.8C961.5 532.2 965.9 533.1 968.8 534C971.7 534.9 976.1 536.8 977.6 537.3"/>
<path fill="none" stroke="#2a2524" stroke-width="1.84" stroke-linejoin="round" stroke-linecap="round" d="M722.5 526.9C725.2 528.1 732.6 531.7 739 534C745.4 536.3 754.8 538.8 761 540.6C767.2 542.4 771.8 543.5 776.4 545C781 546.5 783.7 547.8 788.5 549.4C793.3 551 801.1 553.1 805 554.9C808.9 556.7 809.5 558.4 812 560.4C814.5 562.4 817.9 565.2 819.7 567C821.5 568.8 822.5 570.7 823 571.4"/>
<path fill="none" stroke="#2a2524" stroke-width="1.84" stroke-linejoin="round" stroke-linecap="round" d="M709.3 536.8C712.4 536.9 721.2 536.5 728 537.3C734.8 538.1 742.7 539.9 750 541.7C757.3 543.5 762.8 545.2 772 548.3C781.2 551.4 798.7 557.3 805 560.4C811.3 563.5 807.5 564.4 809.8 567C812.1 569.6 816.4 573 818.6 575.8C820.8 578.5 822.3 582.2 823 583.5"/>
<path fill="none" stroke="#2a2524" stroke-width="1.84" stroke-linejoin="round" stroke-linecap="round" d="M772 505.4C773.1 507 775.9 512.5 778.6 515.3C781.4 518 784.8 519.9 788.5 521.9C792.2 523.9 796.5 525 801 527.4C805.5 529.8 811.3 533.8 815.3 536.2C819.3 538.6 822.1 539.5 825.2 541.7C828.3 543.9 831.2 546.6 834 549.4C836.8 552.1 838.8 555.6 841.7 558.2C844.6 560.8 848.5 563.1 851.6 564.8C854.7 566.4 858.9 567.5 860.4 568.1"/>
<path fill="none" stroke="#2a2524" stroke-width="1.84" stroke-linejoin="round" stroke-linecap="round" d="M697.2 575.8C699.2 573.6 704.7 567 709.3 562.6C713.9 558.2 722.1 551.6 724.7 549.4"/>
<path fill="none" stroke="#2a2524" stroke-width="1.84" stroke-linejoin="round" stroke-linecap="round" d="M740.1 576.9C738.8 578.4 735.3 581.7 732.4 585.7C729.5 589.7 725.4 596.2 722.5 601.1C719.6 606 716.3 613 715.1 615.4"/>
<path fill="none" stroke="#2a2524" stroke-width="1.84" stroke-linejoin="round" stroke-linecap="round" d="M740.1 576.9C740.3 576.4 740.7 575.6 741.2 573.6C741.8 571.6 741.9 567 743.4 564.8C744.9 562.6 747.1 560.8 750 560.4C752.9 560 756.4 561.1 761 562.6C765.6 564.1 772 566.6 777.5 569.2C783 571.8 790 575.2 794 578C798 580.8 800.5 584.4 801.7 585.7C802.9 587 800.9 584.4 801 585.7C801.1 587 802.8 591 802.1 593.4C801.4 595.8 799.1 596.5 796.6 600C794.1 603.5 788.7 611.9 787.1 614.3"/>
<path fill="none" stroke="#2a2524" stroke-width="1.84" stroke-linejoin="round" stroke-linecap="round" d="M741.2 615.4C746 613 762.8 604.4 769.8 601.1C776.8 597.8 777.1 597.1 783 595.8C788.9 594.5 800.2 593.9 805 593.4C809.8 592.9 809 592.7 812 592.9C815 593.1 821.2 594.2 823 594.5"/>
<path fill="#2a2524" d="M775.9 544.7C775.4 544.2 778 543.4 779.7 543.7C781.4 544 785.8 546.2 786.3 546.7C786.8 547.2 784.7 547 783 546.7C781.3 546.4 776.4 545.2 775.9 544.7Z"/>
<path fill="none" stroke="#5a5655" stroke-width="1" stroke-linejoin="round" stroke-linecap="round" d="M754.4 512C755.1 513.8 757.5 518.4 758.8 523C760.1 527.6 761.5 536.8 762.1 539.5"/>
<path fill="none" stroke="#5a5655" stroke-width="1" stroke-linejoin="round" stroke-linecap="round" d="M709.3 536.8C710.6 537.6 714.4 539.8 717 541.7C719.6 543.6 723.2 545.5 724.7 548.3C726.2 551 724.7 554.7 725.8 558.2C726.9 561.7 728.9 566.1 731.3 569.2C733.7 572.3 738.6 575.6 740.1 576.9"/>
<path fill="none" stroke="#5a5655" stroke-width="1" stroke-linejoin="round" stroke-linecap="round" d="M710.4 538.4C715.2 538.6 730.2 538 739 539.5C747.8 541 754 543.7 763.2 547.2C772.4 550.7 788.9 558.2 794 560.4"/>
<path fill="none" stroke="#5a5655" stroke-width="1" stroke-linejoin="round" stroke-linecap="round" d="M790 527.4C791.8 528.3 797.3 530.9 801 532.9C804.7 534.9 808.3 536.8 812 539.5C815.7 542.2 820.2 546.5 823 549.4C825.8 552.3 827.6 555.8 828.5 557.1"/>
<path fill="none" stroke="#5a5655" stroke-width="1" stroke-linejoin="round" stroke-linecap="round" d="M790 534C791.8 534.7 797.3 536.4 801 538.4C804.7 540.4 808.7 543.4 812 546.1C815.3 548.9 818.4 552.1 820.8 554.9C823.2 557.6 824.5 561.2 826.3 562.6C828.1 564 830.9 563.1 831.8 563.2"/>
<path fill="none" stroke="#5a5655" stroke-width="1" stroke-linejoin="round" stroke-linecap="round" d="M714.7 615.4C724.6 613 761.9 603.9 774.2 601.1C786.5 598.3 783.4 599 788.5 598.4C793.6 597.8 801.1 597.7 805 597.3C808.9 596.9 809 596.2 812 596.2C815 596.2 821.2 597.1 823 597.3"/>
<path fill="none" stroke="#2a2524" stroke-width="1.72" stroke-linejoin="round" stroke-linecap="round" d="M825.2 540.8C828.5 540.2 838 538.3 845 537.5C852 536.7 861 536.3 867 536.2C873 536.1 878.9 536.7 881.3 536.8"/>
<path fill="none" stroke="#2a2524" stroke-width="1.72" stroke-linejoin="round" stroke-linecap="round" d="M838.4 551.6C839.9 552.3 843.9 555.5 847.2 556C850.5 556.5 854.5 555.8 858.2 554.9C861.9 554 866.1 552.3 869.2 550.5C872.3 548.7 874.9 546.1 876.9 543.9C878.9 541.7 880.6 538.4 881.3 537.3"/>
<path fill="none" stroke="#2a2524" stroke-width="1.72" stroke-linejoin="round" stroke-linecap="round" d="M860.4 568.1C860.6 567 860.4 563.1 861.5 561.5C862.6 559.9 865 558.4 867 558.2C869 558 872 560.8 873.6 560.4C875.2 560 876.4 557.5 876.9 556C877.4 554.5 876.9 552.3 876.9 551.6"/>
<path fill="none" stroke="#2a2524" stroke-width="1.84" stroke-linejoin="round" stroke-linecap="round" d="M823 571.4C823.9 568.8 831.5 562.5 834 561.5C836.5 560.5 839.6 562.4 841.7 563.7C843.8 565 848.3 569.5 849.4 571.4C850.5 573.3 850.9 575.7 850 578C849.1 580.3 844.3 587.4 842.8 589C841.3 590.6 840.5 591.1 838.4 590.1C836.3 589.1 829.5 583.8 827.4 581.3C825.3 578.8 822.1 574 823 571.4Z"/>
<path fill="none" stroke="#2a2524" stroke-width="1.72" stroke-linejoin="round" stroke-linecap="round" d="M838.4 590.1C837.7 591.9 835.5 596.9 834 601.1C832.5 605.3 830.2 613 829.4 615.4"/>
<path fill="none" stroke="#2a2524" stroke-width="1.72" stroke-linejoin="round" stroke-linecap="round" d="M842.8 589C843.2 591 844.3 596.7 845 601.1C845.7 605.5 846.8 613 847.1 615.4"/>
<path fill="none" stroke="#2a2524" stroke-width="1.72" stroke-linejoin="round" stroke-linecap="round" d="M823 583.5C823.5 584.4 826.3 586.2 826.3 589C826.3 591.8 824.1 595.8 823 600C821.9 604.2 820.2 611.9 819.6 614.3"/>
<path fill="none" stroke="#2a2524" stroke-width="2.07" stroke-linejoin="round" stroke-linecap="round" d="M841 615.4C841.3 613 842.1 605.9 842.8 601.1C843.5 596.3 843.2 591 845 586.8C846.8 582.6 850.1 578.7 853.8 575.8C857.5 572.9 862 570.6 867 569.2C872 567.8 878 567 883.5 567.6C889 568.2 897.9 571.7 900 573.1C902.1 574.5 895.4 573.7 896.2 575.8C897 577.9 903.2 581.5 905 585.7C906.8 589.9 906.6 596.2 907.2 601.1C907.8 606 908.5 613 908.8 615.4"/>
<ellipse cx="875.3" cy="584.8" rx="20.5" ry="11.5" fill="none" stroke="#9a9a9a" stroke-width="0.9"/>
<path fill="none" stroke="#2a2524" stroke-width="1.84" stroke-linejoin="round" stroke-linecap="round" d="M888.5 492.2C889 493.5 891.8 496.6 891.8 499.9C891.8 503.2 890 506.3 888.5 512C887 517.7 884.6 528.5 883 534C881.4 539.5 879.9 541.3 878.6 545C877.3 548.7 875.7 552.3 875.3 556C874.9 559.7 876.2 565.2 876.4 567"/>
<path fill="none" stroke="#5a5655" stroke-width="1.1" stroke-linejoin="round" stroke-linecap="round" d="M905 494.4C903.5 497.3 898.8 505.4 896.2 512C893.6 518.6 891.2 527.6 889.6 534C888 540.4 887 545.2 886.3 550.5C885.6 555.8 885.4 563.3 885.2 565.9"/>
<path fill="#666" d="M888.5 493.3C889 493.5 891.5 498.1 891.8 499.9C892.1 501.7 890.8 504.5 890.2 504.3C889.7 504.1 888.8 500.6 888.5 498.8C888.2 497 888 493.1 888.5 493.3Z"/>
<path fill="none" stroke="#2a2524" stroke-width="1.72" stroke-linejoin="round" stroke-linecap="round" d="M908.3 492.8C906.8 495.6 901.9 502.9 899.5 509.8C897.1 516.7 894.9 527.6 894 534C893.1 540.4 893.3 545 894 548.3C894.7 551.6 896.6 553.6 898.4 553.8C900.2 554 902.4 552.1 905 549.4C907.6 546.6 910.9 541.1 913.8 537.3C916.7 533.4 919.3 530.5 922.6 526.3C925.9 522.1 929.4 516.8 933.6 512C937.8 507.2 945.5 500.1 947.9 497.7"/>
<path fill="none" stroke="#2a2524" stroke-width="1.95" stroke-linejoin="round" stroke-linecap="round" d="M906.1 526.3C905.1 526.9 903.7 529.6 902.8 531.8C901.9 534 900.1 540.2 899.5 542.8C898.9 545.4 898.1 550.7 898.4 551.6C898.7 552.5 900.5 551.2 901.7 549.4C902.9 547.6 906 540.5 907.2 538.4C908.4 536.3 910.1 535.5 910.5 534C910.9 532.5 911.1 528.4 910.5 527.4C909.9 526.4 907.1 525.7 906.1 526.3Z"/>
<path fill="none" stroke="#5a5655" stroke-width="1" stroke-linejoin="round" stroke-linecap="round" d="M908.3 492.8C909 495.1 911.8 501.5 912.7 506.5C913.6 511.5 914 518 913.8 523C913.6 528 912 534 911.6 536.2"/>
<path fill="none" stroke="#2a2524" stroke-width="1.72" stroke-linejoin="round" stroke-linecap="round" d="M966.6 501.6C963.7 503.3 954.5 507.7 949 512C943.5 516.3 938.4 522.3 933.6 527.4C928.8 532.5 923.9 538.2 920.4 542.8C916.9 547.4 914.4 552 912.7 554.9C911.1 557.8 910.9 559.5 910.5 560.4"/>
<path fill="none" stroke="#5a5655" stroke-width="1.1" stroke-linejoin="round" stroke-linecap="round" d="M966.6 501.6C965.3 503.3 960.7 509 958.9 512C957.1 515 956 517 955.6 519.7C955.2 522.5 957.1 525.6 956.7 528.5C956.3 531.4 954.3 534.9 953.4 537.3C952.5 539.7 951.6 541.9 951.2 542.8"/>
<path fill="none" stroke="#5a5655" stroke-width="1" stroke-linejoin="round" stroke-linecap="round" d="M938 504.3C935.8 506.7 928.8 513.6 924.8 518.6C920.8 523.6 915.6 531.4 913.8 534"/>
<path fill="none" stroke="#2a2524" stroke-width="1.95" stroke-linejoin="round" stroke-linecap="round" d="M977.6 556C975.3 555.1 963.5 550.7 960 549.4C956.5 548.1 952.7 547.7 951.2 546.1C949.7 544.5 950 539.1 949 537.3C948 535.5 945.6 532.5 943.5 532.9C941.4 533.3 935.8 538.1 933.6 540.6C931.4 543.1 928.2 549 927 551.6C925.8 554.2 924.5 558.1 924.8 560.4C925.1 562.7 927.4 567.4 929.2 569.2C931 571 935.4 573.6 938 573.6C940.6 573.6 945.3 570.4 949 569.2C952.7 568 961.7 565.7 965.5 564.8C969.3 563.9 976 562.9 977.6 562.6"/>
<path fill="none" stroke="#2a2524" stroke-width="1.95" stroke-linejoin="round" stroke-linecap="round" d="M891.8 567C892.1 564.4 898.5 559.5 900.6 558.2C902.7 556.9 905.7 556.7 907.2 557.1C908.7 557.5 911 560.2 911.6 561.5C912.2 562.8 910.7 565.7 911.6 567C912.5 568.3 917.5 570.1 918.2 571.4C918.9 572.7 918 576 917.1 576.9C916.2 577.8 913.2 576.7 911.6 578C910 579.3 906.8 586.8 905 586.8C903.2 586.8 900.2 580.6 898.4 578C896.6 575.4 891.5 569.6 891.8 567Z"/>
<path fill="none" stroke="#2a2524" stroke-width="1.95" stroke-linejoin="round" stroke-linecap="round" d="M920.4 589C920.9 587 922.8 583.1 924.8 581.3C926.8 579.5 931.3 577.4 933.6 576.9C935.9 576.4 938.9 577 940.2 578C941.5 579 942.7 581.7 942.4 583.5C942.1 585.3 940 588.5 938 590.1C936 591.8 931.7 593.8 929.2 594.5C926.7 595.2 922.8 595.3 921.5 594.5C920.2 593.7 919.9 591 920.4 589Z"/>
<path fill="none" stroke="#2a2524" stroke-width="1.72" stroke-linejoin="round" stroke-linecap="round" d="M917.1 576.9L927 578"/>
<path fill="none" stroke="#2a2524" stroke-width="1.72" stroke-linejoin="round" stroke-linecap="round" d="M905 586.8C905.4 589.2 906.5 596.3 907.2 601.1C907.9 605.9 908.7 613 909 615.4"/>
<path fill="none" stroke="#2a2524" stroke-width="1.84" stroke-linejoin="round" stroke-linecap="round" d="M938 573.6C940.8 573 947.9 571.6 954.5 570.3C961.1 569 973.8 566.6 977.6 565.9"/>
<path fill="none" stroke="#5a5655" stroke-width="1" stroke-linejoin="round" stroke-linecap="round" d="M944.6 578C947.2 577.3 954.5 574.7 960 573.6C965.5 572.5 974.7 571.8 977.6 571.4"/>
<path fill="none" stroke="#2a2524" stroke-width="1.84" stroke-linejoin="round" stroke-linecap="round" d="M942.4 589C945.3 588.1 954.1 584.8 960 583.5C965.9 582.2 974.7 581.7 977.6 581.3"/>
<path fill="none" stroke="#2a2524" stroke-width="1.84" stroke-linejoin="round" stroke-linecap="round" d="M916 597.3C919.7 596.6 930.7 594.8 938 593.4C945.3 592 953.4 590.1 960 589C966.6 587.9 974.7 587.2 977.6 586.8"/>
<path fill="none" stroke="#5a5655" stroke-width="1" stroke-linejoin="round" stroke-linecap="round" d="M878.7 614.3C887.9 611.9 920.1 603.3 933.6 600C947.1 596.7 952.7 595.8 960 594.5C967.3 593.2 974.7 592.7 977.6 592.3"/></g>
<path fill="#e8e8e8" d="M16.2 752.3C17.5 751.8 20 750.8 23.8 749.4C27.6 748 33.3 745.6 39 743.7C44.7 741.8 48.5 740.4 58 738C67.5 735.6 83.3 732 96 729.5C108.7 727 125 724.7 134 723.2C143 721.8 144 721.5 150 720.8C156 720.1 163.3 719.3 170 718.8C176.7 718.3 183.3 717.9 190 717.6C196.7 717.3 203.3 717.1 210 717C216.7 716.9 224.1 716.8 230 717C235.9 717.2 238.2 717.5 245.5 718.1C252.8 718.8 263.3 719.5 274 720.9C284.7 722.2 302.6 725.1 309.9 726.2C317.2 727.3 316.4 727.5 317.7 727.7L317.7 759.3C315.8 758.9 313.6 758.3 306.3 757C299 755.7 284.1 753.2 274 751.7C263.9 750.2 252.8 749 245.5 747.9C238.2 746.8 235.9 745.6 230 745C224.1 744.4 216.7 744.5 210 744.5C203.3 744.5 196.7 744.6 190 745C183.3 745.4 176.7 745.8 170 746.6C163.3 747.4 156 748.7 150 750C144 751.3 142.4 752.1 134 754.2C125.6 756.3 109.3 760 99.8 762.7C90.3 765.4 84.9 767.3 77 770.3C69.1 773.3 58.6 777.9 52.3 780.8C46 783.6 43.8 784.2 39 787.4C34.2 790.6 27.6 796.5 23.8 799.8C20 803.1 17.5 806.1 16.2 807.4Z"/>
<path fill="none" stroke="#a8a8a8" stroke-width="1" stroke-linejoin="round" stroke-linecap="round" d="M16.2 785.5C17.5 784.9 16.8 785.5 23.8 781.7C30.8 777.9 46 768.1 58 762.7C70 757.3 83.3 752.9 96 749.4C108.7 745.9 123.3 743.4 134 741.8C144.7 740.2 150.7 740.5 160 740C169.3 739.5 178.3 738.6 190 738.5C201.7 738.4 216 738.8 230 739.5C244 740.2 261.3 741 274 742.8C286.7 744.6 299 748.7 306.3 750.4C313.6 752.1 315.8 752.7 317.7 753.2"/>
<path fill="none" stroke="#c8c8c8" stroke-width="0.8" stroke-linejoin="round" stroke-linecap="round" d="M16.2 805.2C17.5 803.9 20 800.9 23.8 797.6C27.6 794.3 34.2 788.4 39 785.2C43.8 782 46 781.4 52.3 778.6C58.6 775.7 69.1 771.1 77 768.1C84.9 765.1 90.3 763.2 99.8 760.5C109.3 757.8 125.6 754.1 134 752C142.4 749.9 144 749.1 150 747.8C156 746.5 163.3 745.2 170 744.4C176.7 743.6 183.3 743.1 190 742.8C196.7 742.4 203.3 742.3 210 742.3C216.7 742.3 224.1 742.2 230 742.8C235.9 743.4 238.2 744.6 245.5 745.7C252.8 746.8 263.9 748 274 749.5C284.1 751 299 753.5 306.3 754.8C313.6 756.1 315.8 756.7 317.7 757.1"/>
<path fill="none" stroke="#2a2524" stroke-width="2.07" stroke-linejoin="round" stroke-linecap="round" d="M16.2 807.4C17.5 806.1 20 803.1 23.8 799.8C27.6 796.5 34.2 790.6 39 787.4C43.8 784.2 46 783.6 52.3 780.8C58.6 777.9 69.1 773.3 77 770.3C84.9 767.3 90.3 765.4 99.8 762.7C109.3 760 125.6 756.3 134 754.2C142.4 752.1 144 751.3 150 750C156 748.7 163.3 747.4 170 746.6C176.7 745.8 183.3 745.4 190 745C196.7 744.6 203.3 744.5 210 744.5C216.7 744.5 224.1 744.4 230 745C235.9 745.6 238.2 746.8 245.5 747.9C252.8 749 263.9 750.2 274 751.7C284.1 753.2 299 755.7 306.3 757C313.6 758.3 315.8 758.9 317.7 759.3"/>
<path fill="none" stroke="#2a2524" stroke-width="1.95" stroke-linejoin="round" stroke-linecap="round" d="M16.2 752.3C17.5 751.8 20 750.8 23.8 749.4C27.6 748 33.3 745.6 39 743.7C44.7 741.8 48.5 740.4 58 738C67.5 735.6 83.3 732 96 729.5C108.7 727 125 724.7 134 723.2C143 721.8 144 721.5 150 720.8C156 720.1 163.3 719.3 170 718.8C176.7 718.3 183.3 717.9 190 717.6C196.7 717.3 203.3 717.1 210 717C216.7 716.9 224.1 716.8 230 717C235.9 717.2 238.2 717.5 245.5 718.1C252.8 718.8 263.3 719.5 274 720.9C284.7 722.2 302.6 725.1 309.9 726.2C317.2 727.3 316.4 727.5 317.7 727.7"/>
<path fill="none" stroke="#2a2524" stroke-width="1.61" stroke-linejoin="round" d="M30.4 746.5l1.6 2.2l2.2 -2"/>
<path fill="none" stroke="#2a2524" stroke-width="1.61" stroke-linejoin="round" d="M51.9 739.6l1.6 2.2l2.2 -2"/>
<path fill="none" stroke="#2a2524" stroke-width="1.61" stroke-linejoin="round" d="M74.9 734.1l1.6 2.2l2.2 -2"/>
<path fill="none" stroke="#2a2524" stroke-width="1.61" stroke-linejoin="round" d="M99.4 728.9l1.6 2.2l2.2 -2"/>
<path fill="none" stroke="#2a2524" stroke-width="1.61" stroke-linejoin="round" d="M120.9 725.3l1.6 2.2l2.2 -2"/>
<path fill="none" stroke="#2a2524" stroke-width="1.61" stroke-linejoin="round" d="M143.9 721.7l1.6 2.2l2.2 -2"/>
<path fill="none" stroke="#2a2524" stroke-width="1.61" stroke-linejoin="round" d="M168.4 719l1.6 2.2l2.2 -2"/>
<path fill="none" stroke="#2a2524" stroke-width="1.61" stroke-linejoin="round" d="M189.9 717.8l1.6 2.2l2.2 -2"/>
<path fill="none" stroke="#2a2524" stroke-width="1.61" stroke-linejoin="round" d="M212.9 717.2l1.6 2.2l2.2 -2"/>
<path fill="none" stroke="#2a2524" stroke-width="1.61" stroke-linejoin="round" d="M237.4 717.8l1.6 2.2l2.2 -2"/>
<path fill="none" stroke="#2a2524" stroke-width="1.61" stroke-linejoin="round" d="M258.9 719.8l1.6 2.2l2.2 -2"/>
<path fill="none" stroke="#2a2524" stroke-width="1.61" stroke-linejoin="round" d="M281.9 722.5l1.6 2.2l2.2 -2"/>
<path fill="none" stroke="#777" stroke-width="1.1" stroke-dasharray="8 4" d="M186.6 689L180 717"/>
<path fill="none" stroke="#777" stroke-width="1" d="M173 750L170 760"/>
<path fill="#9a9a9a" d="M177 718.5L185 719.7L181.3 732.4L185.2 733.1L174.5 744.6L170.5 730.5L174.8 731.4Z"/>
<path fill="#f2f2f2" stroke="#2a2524" stroke-width="2.18" stroke-linejoin="round" stroke-linecap="round" d="M166.5 764C166.5 763.2 165.9 760.3 166.2 759C166.5 757.7 167.6 756.1 168.5 755.5C169.4 754.9 171.4 754.8 172.5 755.2C173.6 755.6 175.1 756.8 175.5 758C175.9 759.2 175.2 762.7 175.2 763.5"/>
<path fill="none" stroke="#2a2524" stroke-width="1.49" stroke-linejoin="round" stroke-linecap="round" d="M165.8 762.5C166.5 763 168.3 765.2 170 765.5C171.7 765.8 175 764.7 176 764.5"/>
<path fill="none" stroke="#5a5655" stroke-width="0.9" stroke-linejoin="round" stroke-linecap="round" d="M169.5 758L169.2 762"/>
<path fill="none" stroke="#5a5655" stroke-width="0.9" stroke-linejoin="round" stroke-linecap="round" d="M172 758L171.8 762.2"/>
<path fill="#f0f0f0" stroke="#2a2524" stroke-width="2.18" stroke-linejoin="round" stroke-linecap="round" d="M164 771C164.8 770.4 167.7 769.8 168.5 770C169.3 770.2 170.6 771.8 170.8 773C171 774.2 170.7 778.1 170.5 780C170.3 781.9 170.4 787.8 169.5 789C168.6 790.2 164.2 790.7 163 790.5C161.8 790.3 159.4 788.7 159 787.5C158.6 786.3 159.2 781.5 159.5 780C159.8 778.5 161.5 776 162 775C162.5 774 163.2 771.6 164 771Z"/>
<path fill="#555" d="M164 771.5C164.6 771 167.8 770.3 168.5 770.5C169.2 770.7 170 772.3 170.2 773.2C170.4 774.1 170.6 777.3 169.8 778C169 778.7 164.3 779.4 163.5 779C162.7 778.6 162.9 775.9 163 775C163.1 774.1 163.4 772 164 771.5Z"/>
<path fill="none" stroke="#5a5655" stroke-width="0.9" stroke-linejoin="round" stroke-linecap="round" d="M161 780C161.3 781 161.6 785.2 163 786C164.4 786.8 168.4 785.2 169.5 785"/>
</g>
<g clip-path="url(#c5)">
<path fill="none" stroke="#2a2524" stroke-width="1.61" stroke-linejoin="round" stroke-linecap="round" d="M403.6 722.8C403.7 722.5 405.4 714.1 406.6 715C407.8 715.9 437.3 747.5 438.4 748.6"/>
<path fill="none" stroke="#2a2524" stroke-width="1.49" stroke-linejoin="round" stroke-linecap="round" d="M404.8 740.2L432.4 756.4"/>
<path fill="none" stroke="#2a2524" stroke-width="1.72" stroke-linejoin="round" d="M403.6 724.7L405.5 739.9L408.4 743.7L408.4 753.6L412.5 757L415 795L414.2 869.1"/>
<path fill="none" stroke="#bbb" stroke-width="0.8" d="M405.5 725.1L415 727.6L420.7 733.3"/>
<path fill="none" stroke="#bbb" stroke-width="0.8" stroke-dasharray="2 1.5" d="M415 727.6L414.1 741.8"/>
<path fill="#e4e4e4" d="M417.3 869.1C416.9 864.7 415.5 851.7 415 842.5C414.5 833.3 413.8 823.2 414.1 814C414.4 804.8 415.2 795 416.9 787.4C418.6 779.8 421 774.5 424.5 768.4C428 762.3 431 757.9 437.8 750.9C444.6 743.9 457.7 731.7 465.1 726.3C472.5 720.9 475.9 720.5 482 718.5C488.1 716.5 495 715.2 501.5 714C508 712.8 514.5 712 521 711.4C527.5 710.8 535.7 710.2 540.5 710.1C545.3 710 545.9 710 550 711C554.1 712 560 713.8 565 716C570 718.2 577.5 722.8 580 724.2L528 812L528 880L400 880Z"/>
<path fill="none" stroke="#2a2524" stroke-width="1.95" stroke-linejoin="round" stroke-linecap="round" d="M417.3 869.1C416.9 864.7 415.5 851.7 415 842.5C414.5 833.3 413.8 823.2 414.1 814C414.4 804.8 415.2 795 416.9 787.4C418.6 779.8 421 774.5 424.5 768.4C428 762.3 435.6 753.8 437.8 750.9"/>
<path fill="none" stroke="#2a2524" stroke-width="1.95" stroke-linejoin="round" stroke-linecap="round" d="M465.1 726.3C467.9 725 475.9 720.5 482 718.5C488.1 716.5 495 715.2 501.5 714C508 712.8 514.5 712 521 711.4C527.5 710.8 535.7 710.2 540.5 710.1C545.3 710 545.9 710 550 711C554.1 712 560 713.8 565 716C570 718.2 577.5 722.8 580 724.2"/>
<path fill="#e8e8e8" stroke="#2a2524" stroke-width="1.95" d="M528 909C523.2 909.5 516.7 908.5 511.2 907.5C505.6 906.6 500.1 905.1 494.8 903.2C489.5 901.2 484.4 898.8 479.5 896C474.6 893.2 470 889.9 465.6 886.3C461.3 882.7 457.3 878.7 453.7 874.4C450.1 870 446.8 865.4 444 860.5C441.2 855.6 438.8 850.5 436.8 845.2C434.9 839.9 433.4 834.4 432.5 828.8C431.5 823.3 431 817.6 431 812C431 806.4 431.5 800.7 432.5 795.2C433.4 789.6 434.9 784.1 436.8 778.8C438.8 773.5 441.2 768.4 444 763.5C446.8 758.6 450.1 754 453.7 749.6C457.3 745.3 461.3 741.3 465.6 737.7C470 734.1 474.6 730.8 479.5 728C484.4 725.2 489.5 722.8 494.8 720.8C500.1 718.9 505.6 717.4 511.2 716.5C516.7 715.5 520.7 714.9 528 715C535.3 715.1 547.9 715.9 554.8 716.9C561.6 718 564.4 719.3 569.1 721.2C573.7 723.1 578.2 725.4 582.5 728.2C586.8 730.9 590.9 734.1 594.6 737.6C598.4 741.1 602 745.1 605.1 749.3C608.3 753.4 611.2 758 613.6 762.8C616.1 767.5 618.2 772.5 619.9 777.7C621.6 782.8 622.9 788.2 623.7 793.6C624.6 799 625 804.5 625 810C625 815.5 624.6 821 623.7 826.4C622.9 831.8 621.6 837.2 619.9 842.3C618.2 847.5 616.1 852.5 613.6 857.2C611.2 862 608.3 866.6 605.1 870.7C602 874.9 598.4 878.9 594.6 882.4C590.9 885.9 586.8 889.1 582.5 891.8C578.2 894.6 573.7 896.9 569.1 898.8C564.4 900.7 559.6 902.1 554.8 903.1C549.9 904 544.5 903.5 540 904.5C535.5 905.5 532.8 908.5 528 909Z"/>
<path fill="none" stroke="#2a2524" stroke-width="1.2" d="M594.6 737.6l-1.9 2.3"/>
<path fill="none" stroke="#2a2524" stroke-width="1.2" d="M600.9 744.1l-2.2 2.1"/>
<path fill="none" stroke="#2a2524" stroke-width="1.2" d="M606.6 751.3l-2.4 1.9"/>
<path fill="none" stroke="#2a2524" stroke-width="1.2" d="M611.6 759.1l-2.5 1.6"/>
<path fill="none" stroke="#2a2524" stroke-width="1.2" d="M615.9 767.4l-2.7 1.4"/>
<path fill="none" stroke="#2a2524" stroke-width="1.2" d="M619.4 776.1l-2.8 1.1"/>
<path fill="none" stroke="#2a2524" stroke-width="1.2" d="M622 785.2l-2.9 0.8"/>
<path fill="none" stroke="#2a2524" stroke-width="1.2" d="M623.9 794.6l-3 0.5"/>
<path fill="none" stroke="#2a2524" stroke-width="1.2" d="M624.8 804.1l-3 0.2"/>
<path fill="none" stroke="#2a2524" stroke-width="1.2" d="M624.9 813.6l-3 -0.1"/>
<path fill="none" stroke="#2a2524" stroke-width="1.2" d="M624.2 823.2l-3 -0.4"/>
<path fill="none" stroke="#2a2524" stroke-width="1.2" d="M622.5 832.5l-2.9 -0.7"/>
<path fill="none" stroke="#2a2524" stroke-width="1.2" d="M620.1 841.7l-2.8 -1"/>
<path fill="none" stroke="#2a2524" stroke-width="1.2" d="M616.8 850.5l-2.7 -1.3"/>
<path fill="none" stroke="#2a2524" stroke-width="1.2" d="M612.7 859l-2.6 -1.6"/>
<path fill="none" stroke="#2a2524" stroke-width="1.2" d="M607.9 866.9l-2.4 -1.8"/>
<path fill="none" stroke="#2a2524" stroke-width="1.2" d="M602.4 874.2l-2.2 -2"/>
<ellipse cx="533" cy="814" rx="74" ry="72.5" fill="none" stroke="#999" stroke-width="1.2"/>
<ellipse cx="533" cy="814" rx="66" ry="65" fill="none" stroke="#c4c4c4" stroke-width="0.8"/>
<ellipse cx="533.5" cy="814" rx="60" ry="59" fill="#fff" stroke="#2a2524" stroke-width="2.07"/>
<ellipse cx="534.5" cy="815" rx="54.5" ry="53.5" fill="none" stroke="#5a5655" stroke-width="1"/>
<ellipse cx="535.5" cy="816" rx="49" ry="48" fill="none" stroke="#aaa" stroke-width="0.8"/>
<ellipse cx="536.5" cy="817" rx="44" ry="43" fill="none" stroke="#aaa" stroke-width="0.8"/>
<path fill="#fff" stroke="#2a2524" stroke-width="1.2" stroke-linejoin="round" d="M547.4 817.4L550.8 759.5L545.7 758.3L541.2 816Z"/>
<path fill="none" stroke="#aaa" stroke-width="0.7" d="M544.3 816.7L548.2 758.9"/>
<path fill="#fff" stroke="#2a2524" stroke-width="1.2" stroke-linejoin="round" d="M551.1 820.4L570.3 769.8L566 766.8L545.9 816.7Z"/>
<path fill="none" stroke="#aaa" stroke-width="0.7" d="M548.5 818.6L568.2 768.3"/>
<path fill="none" stroke="#2a2524" stroke-width="1.72" stroke-linejoin="round" d="M567.6 782.3C568.6 780.1 569.6 784.3 570 784.7C570.4 785.2 571.9 786.9 572.3 787.3C572.6 787.8 574 789.6 574.3 790.1C574.7 790.5 575.9 792.5 576.2 793C576.5 793.5 577.6 795.5 577.8 796C578.1 796.5 579 798.6 579.2 799.1C579.4 799.6 580.2 801.8 580.4 802.3C580.6 802.9 582.6 803.9 581.3 805.6C580 807.4 566.4 821.7 565 823C563.6 824.3 564.6 821.6 564.5 821.3C564.4 821 564 819.9 563.9 819.6C563.8 819.3 563.3 818.2 563.2 818C563.1 817.7 562.5 816.7 562.4 816.4C562.2 816.1 561.6 815.1 561.4 814.9C561.3 814.6 560.6 813.7 560.4 813.5C560.2 813.2 559.4 812.3 559.2 812.1C559 811.9 557.3 813.3 558 810.8C558.7 808.4 566.6 784.5 567.6 782.3Z"/>
<path fill="none" stroke="#2a2524" stroke-width="1.1" stroke-linejoin="round" d="M550.5 773.4C550.6 770.9 551.3 773.6 551.4 773.7C551.6 773.8 552.2 774 552.4 774.1C552.5 774.1 553.1 774.4 553.3 774.4C553.4 774.5 554.1 774.8 554.2 774.8C554.4 774.9 555 775.2 555.1 775.2C555.3 775.3 555.9 775.6 556 775.7C556.2 775.7 556.8 776 556.9 776.1C557.1 776.2 558 774.2 557.8 776.6C557.6 779 555 802.5 554.7 804.8C554.4 807.1 554.3 804.6 554.2 804.5C554.1 804.5 553.7 804.3 553.6 804.2C553.6 804.2 553.2 804 553.1 804C553 803.9 552.7 803.8 552.6 803.7C552.5 803.7 552.1 803.5 552 803.5C552 803.5 551.6 803.3 551.5 803.3C551.4 803.2 551 803.1 550.9 803.1C550.9 803 550.4 805.3 550.4 802.9C550.4 800.4 550.4 775.8 550.5 773.4Z"/>
<path fill="#fff" stroke="#2a2524" stroke-width="1.2" stroke-linejoin="round" d="M553.8 830.5L591.6 813.3L591.2 808.1L553.3 824.2Z"/>
<path fill="none" stroke="#aaa" stroke-width="0.7" d="M553.6 827.4L591.4 810.7"/>
<path fill="#fff" stroke="#2a2524" stroke-width="1.2" stroke-linejoin="round" d="M552.1 835L587.7 834.8L589.2 829.8L554 828.8Z"/>
<path fill="none" stroke="#aaa" stroke-width="0.7" d="M553.1 831.9L588.4 832.3"/>
<path fill="none" stroke="#2a2524" stroke-width="1.72" stroke-linejoin="round" d="M578.1 835.5C579.2 835.5 576.8 838 576.5 838.5C576.2 839 575 840.9 574.7 841.4C574.4 841.9 573 843.7 572.7 844.2C572.3 844.6 570.8 846.4 570.4 846.8C570 847.2 568.4 848.9 568 849.3C567.6 849.7 565.8 851.2 565.4 851.5C564.9 851.9 563.1 853.3 562.6 853.6C562.2 853.9 560.4 855.9 559.7 855.5C559 855.1 554.3 849.6 554 849C553.6 848.3 555.2 848.2 555.5 848C555.7 847.8 556.6 847.1 556.9 846.9C557.1 846.7 558 845.9 558.2 845.7C558.4 845.5 559.2 844.7 559.4 844.5C559.6 844.2 560.4 843.3 560.6 843.1C560.8 842.9 561.4 841.9 561.6 841.6C561.8 841.4 562.4 840.4 562.5 840.1C562.7 839.9 562.1 838.9 563.4 838.5C564.6 838.2 577 835.5 578.1 835.5Z"/>
<path fill="none" stroke="#2a2524" stroke-width="1.1" stroke-linejoin="round" d="M581.5 816.8C582.6 815.9 581.5 817.6 581.5 817.8C581.5 817.9 581.4 818.6 581.4 818.8C581.4 818.9 581.4 819.6 581.3 819.7C581.3 819.9 581.3 820.5 581.2 820.7C581.2 820.9 581.2 821.5 581.1 821.7C581.1 821.9 581 822.5 581 822.7C581 822.8 580.9 823.5 580.8 823.6C580.8 823.8 581.7 823.8 580.7 824.6C579.6 825.4 569.1 832.9 568.1 833.6C567.1 834.2 568.2 833.1 568.2 833C568.2 832.9 568.3 832.5 568.3 832.4C568.3 832.3 568.4 831.9 568.4 831.8C568.4 831.7 568.4 831.3 568.5 831.2C568.5 831.1 568.5 830.7 568.5 830.6C568.5 830.5 568.5 830.1 568.5 830C568.6 830 568.6 829.6 568.6 829.5C568.6 829.4 567.5 829.9 568.6 828.9C569.7 827.8 580.4 817.7 581.5 816.8Z"/>
<path fill="#fff" stroke="#2a2524" stroke-width="1.2" stroke-linejoin="round" d="M543.3 840.7L552.2 868.1L556.9 866.1L549.2 838.2Z"/>
<path fill="none" stroke="#aaa" stroke-width="0.7" d="M546.3 839.4L554.6 867.1"/>
<path fill="#fff" stroke="#2a2524" stroke-width="1.2" stroke-linejoin="round" d="M538.6 840.5L530.2 871L535.4 871L545 840.3Z"/>
<path fill="none" stroke="#aaa" stroke-width="0.7" d="M541.8 840.4L532.8 871"/>
<path fill="none" stroke="#2a2524" stroke-width="1.72" stroke-linejoin="round" d="M529.8 861.7C528.7 862.5 526.9 861.3 526.3 861.2C525.8 861.1 523.5 860.5 522.9 860.4C522.4 860.2 520.2 859.5 519.6 859.4C519.1 859.2 516.9 858.3 516.4 858.1C515.9 857.8 513.8 856.8 513.3 856.6C512.7 856.3 510.7 855.2 510.2 854.8C509.8 854.5 507.8 853.2 507.4 852.9C506.9 852.6 503.1 851.3 504.7 850.8C506.2 850.2 524 846.8 525.9 846.5C527.7 846.3 527 847.5 527.2 847.6C527.5 847.8 528.5 848.5 528.7 848.6C529 848.8 530 849.4 530.2 849.5C530.5 849.7 531.6 850.2 531.8 850.3C532.1 850.4 533.2 850.9 533.5 851C533.8 851.1 534.9 851.4 535.2 851.5C535.5 851.6 536.6 851.9 536.9 851.9C537.2 852 539.3 851.4 538.7 852.2C538.1 853 530.8 861 529.8 861.7Z"/>
<path fill="none" stroke="#2a2524" stroke-width="1.1" stroke-linejoin="round" d="M548.9 859.1C548.8 859.5 548.1 859.3 548 859.4C547.8 859.4 547.2 859.6 547 859.6C546.9 859.7 546.2 859.8 546 859.9C545.9 859.9 545.2 860.1 545.1 860.1C544.9 860.1 544.2 860.3 544.1 860.3C543.9 860.3 543.3 860.4 543.1 860.5C542.9 860.5 542.3 860.6 542.1 860.6C541.9 860.6 540.9 861.2 541.1 860.7C541.3 860.3 544.5 855.7 544.9 855.2C545.3 854.7 545.4 855.1 545.5 855.1C545.6 855.1 546 855 546.1 855C546.2 855 546.5 854.9 546.6 854.9C546.7 854.9 547.1 854.8 547.2 854.8C547.3 854.8 547.7 854.7 547.8 854.7C547.9 854.7 548.3 854.6 548.4 854.5C548.5 854.5 548.8 854.4 548.9 854.4C549 854.4 549.5 853.8 549.5 854.2C549.5 854.6 549.1 858.7 548.9 859.1Z"/>
<path fill="#fff" stroke="#2a2524" stroke-width="1.2" stroke-linejoin="round" d="M530.4 833.9L486.9 848.1L490.3 852.1L534.6 838.7Z"/>
<path fill="none" stroke="#aaa" stroke-width="0.7" d="M532.5 836.3L488.6 850.1"/>
<path fill="#fff" stroke="#2a2524" stroke-width="1.2" stroke-linejoin="round" d="M529.2 829.3L477.3 828.5L479 833.4L531.3 835.3Z"/>
<path fill="none" stroke="#aaa" stroke-width="0.7" d="M530.3 832.3L478.1 830.9"/>
<path fill="none" stroke="#2a2524" stroke-width="1.72" stroke-linejoin="round" d="M489.4 824.8C486.9 823.8 488.9 822 488.8 821.4C488.8 820.8 488.6 818.6 488.5 818C488.5 817.4 488.5 815.2 488.5 814.6C488.5 814 488.7 811.8 488.8 811.2C488.8 810.6 489.1 808.4 489.3 807.8C489.4 807.2 489.9 805 490 804.5C490.1 803.9 490.8 801.7 491 801.2C491.2 800.7 489.9 796.5 492.2 798C494.6 799.5 517.3 817.1 519.5 819C521.7 820.9 519 820.4 518.9 820.7C518.8 821 518.4 822.1 518.4 822.4C518.3 822.7 518 823.8 518 824.1C517.9 824.4 517.8 825.6 517.7 825.9C517.7 826.2 517.6 827.4 517.6 827.7C517.6 828 517.6 829.2 517.6 829.4C517.6 829.7 517.7 830.9 517.8 831.2C517.8 831.5 520.4 833.5 518 833C515.7 832.4 491.8 825.8 489.4 824.8Z"/>
<path fill="none" stroke="#2a2524" stroke-width="1.1" stroke-linejoin="round" d="M497.8 841.9C496 841.6 497.3 841.2 497.3 841C497.2 840.9 496.8 840.4 496.7 840.2C496.6 840.1 496.3 839.5 496.2 839.4C496.1 839.2 495.7 838.7 495.7 838.5C495.6 838.4 495.3 837.8 495.2 837.7C495.1 837.5 494.8 837 494.7 836.8C494.6 836.7 494.3 836.1 494.2 835.9C494.2 835.8 491.9 834.7 493.8 835.1C495.7 835.4 515.2 839.4 517.1 839.8C519.1 840.3 517.3 840.3 517.4 840.3C517.4 840.4 517.6 840.8 517.7 840.9C517.7 841 517.9 841.3 517.9 841.4C518 841.5 518.2 841.8 518.2 841.9C518.3 842 518.5 842.3 518.5 842.4C518.6 842.5 518.8 842.8 518.8 842.9C518.9 843 519.1 843.3 519.2 843.4C519.2 843.5 521.3 844 519.5 843.9C517.7 843.8 499.7 842.1 497.8 841.9Z"/>
<path fill="#fff" stroke="#2a2524" stroke-width="1.2" stroke-linejoin="round" d="M533 819.5L486 781L483.4 785.4L529.7 825Z"/>
<path fill="none" stroke="#aaa" stroke-width="0.7" d="M531.3 822.2L484.7 783.2"/>
<path fill="#fff" stroke="#2a2524" stroke-width="1.2" stroke-linejoin="round" d="M536.9 816.9L502.1 765.9L497.9 769L531.8 820.7Z"/>
<path fill="none" stroke="#aaa" stroke-width="0.7" d="M534.4 818.8L500 767.5"/>
<path fill="none" stroke="#2a2524" stroke-width="1.72" stroke-linejoin="round" d="M512.7 775.7C511.5 772.9 515.3 774.4 515.8 774.2C516.4 773.9 518.5 773.1 519 772.9C519.6 772.7 521.8 771.9 522.3 771.8C522.9 771.6 525.2 771.1 525.7 770.9C526.3 770.8 528.6 770.4 529.2 770.4C529.7 770.3 532.1 770.1 532.6 770C533.2 770 535.5 769.9 536.1 769.9C536.7 770 539 767.2 539.6 770.1C540.2 773 543.5 801.6 543.7 804.5C543.9 807.3 542.2 804.4 541.9 804.4C541.6 804.4 540.4 804.4 540.1 804.4C539.8 804.5 538.7 804.6 538.4 804.6C538.1 804.7 536.9 804.9 536.6 804.9C536.3 805 535.2 805.3 534.9 805.4C534.6 805.4 533.5 805.8 533.2 805.9C532.9 806 531.8 806.5 531.6 806.6C531.3 806.7 531.5 810 530 807.4C528.4 804.8 513.9 778.5 512.7 775.7Z"/>
<path fill="none" stroke="#2a2524" stroke-width="1.1" stroke-linejoin="round" d="M498.8 788.9C497 786.9 499.3 788.2 499.4 788.1C499.5 788 499.9 787.5 500 787.3C500.1 787.2 500.5 786.7 500.7 786.6C500.8 786.4 501.2 786 501.3 785.8C501.4 785.7 501.9 785.2 502 785.1C502.1 785 502.6 784.5 502.7 784.4C502.8 784.3 503.3 783.8 503.4 783.7C503.5 783.6 502.5 781 504.1 783C505.8 785.1 521.6 806.5 523.2 808.7C524.7 810.8 522.8 809 522.8 809.1C522.7 809.1 522.4 809.4 522.3 809.5C522.3 809.5 522 809.8 521.9 809.9C521.9 810 521.6 810.3 521.5 810.3C521.5 810.4 521.2 810.7 521.1 810.8C521.1 810.8 520.8 811.2 520.8 811.2C520.7 811.3 520.5 811.6 520.4 811.7C520.3 811.8 521.8 814.1 520 812.2C518.2 810.2 500.5 790.9 498.8 788.9Z"/>
<path fill="#fff" stroke="#2a2524" stroke-width="1.84" stroke-linejoin="round" d="M433.6 696.4C436 698.6 444 705.6 448 709.6C452 713.6 455 717 457.6 720.4C460.2 723.8 461.2 726.6 463.6 730C466 733.4 468.6 736.8 472 740.8C475.4 744.8 480 749.6 484 754C488 758.4 492 763 496 767.2C500 771.4 504 775.6 508 779.2C512 782.8 516.8 786 520 788.8C523.2 791.6 525.4 793.4 527.2 796C529 798.6 530.8 801.7 531 804.4C531.2 807.1 528.8 810.9 528.4 812.2L520 814.2C518.4 813.7 513.4 812.4 510.4 811.4C507.4 810.4 503.9 810 502 808C500.1 806 500 802.4 499 799.6C498 796.8 496.9 792.2 496 791.2C495.1 790.2 495.2 794.8 493.6 793.6C492 792.4 489 787 486.4 784C483.8 781 481.4 778.2 478 775.6C474.6 773 470.4 771.2 466 768.4C461.6 765.6 456.2 762.2 451.6 758.8C447 755.4 442 751.2 438.4 748C434.8 744.8 433.4 743.6 430 739.6C426.6 735.6 421.8 728.6 418 724C414.2 719.4 409 714 407.2 712Z"/>
<path fill="none" stroke="#5a5655" stroke-width="0.9" stroke-linejoin="round" stroke-linecap="round" d="M505.6 808C506 806.8 507 802.8 508 800.8C509 798.8 511 796.8 511.6 796"/>
<path fill="none" stroke="#5a5655" stroke-width="0.9" stroke-linejoin="round" stroke-linecap="round" d="M511.6 809.8C512 808.7 513.2 805.1 514 803.2C514.8 801.3 516 799.2 516.4 798.4"/>
<path fill="none" stroke="#5a5655" stroke-width="0.9" stroke-linejoin="round" stroke-linecap="round" d="M517.6 811.6C518 810.6 519.2 807.4 520 805.6C520.8 803.8 522 801.6 522.4 800.8"/>
<path fill="#fff" stroke="#2a2524" stroke-width="1.84" stroke-linejoin="round" d="M367.5 686.7L429.3 686.7L432.5 696.6L405.5 711.4L380.8 720Z"/>
<path fill="none" stroke="#5a5655" stroke-width="1" stroke-linejoin="round" stroke-linecap="round" d="M421.7 727.6C422.5 728.4 424.8 731.5 426.4 732.3C428 733.1 430.4 732.3 431.2 732.3"/>
<path fill="#fff" stroke="#2a2524" stroke-width="1.84" stroke-linejoin="round" d="M467.7 684.7C468.6 685.2 470.5 685.8 472.9 688C475.3 690.2 478.3 695.8 482 697.7C485.7 699.7 492 699.4 495 699.7C498 700 496.7 699.5 500 699.5C503.3 699.5 510 699.6 515 700C520 700.4 526.3 701.2 530 702C533.7 702.8 535.7 704.1 537 705C538.3 705.9 539.2 706.9 538 707.5C536.8 708.1 533.3 708.2 530 708.5C526.7 708.8 519.7 708.7 518 709.2C516.3 709.7 520.5 710.7 520 711.5C519.5 712.3 518.3 713.4 515 714C511.7 714.6 504.4 714.8 500 715.2C495.6 715.6 491.9 716.7 488.5 716.6C485.1 716.5 480.9 715.2 479.4 714.9L469 709.4C465.8 707.7 455.6 702.2 449.5 699C443.4 695.8 436.1 692.3 432.6 689.9C429.1 687.5 429.4 685.6 428.7 684.7Z"/>
<path fill="none" stroke="#5a5655" stroke-width="1" stroke-linejoin="round" stroke-linecap="round" d="M496.3 705.5C498.2 705.8 504.3 707.3 508 707.5C511.7 707.7 516.7 706.9 518.4 706.8"/>
<path fill="none" stroke="#2a2524" stroke-width="1.61" stroke-linejoin="round" stroke-linecap="round" d="M439.1 696.4L442 700.6"/>
<path fill="none" stroke="#2a2524" stroke-width="1.61" stroke-linejoin="round" stroke-linecap="round" d="M449.5 708.1L453.7 701.3"/>
<path fill="none" stroke="#2a2524" stroke-width="1.61" stroke-linejoin="round" stroke-linecap="round" d="M461.2 721.1L469 709.4"/>
<path fill="none" stroke="#2a2524" stroke-width="1.61" stroke-linejoin="round" stroke-linecap="round" d="M462.5 723.7L482 715.6"/>
<path fill="none" stroke="#2a2524" stroke-width="1.61" stroke-linejoin="round" stroke-linecap="round" d="M474.2 685.3C475.2 685.3 479.8 683.9 480.1 685.3C480.4 686.7 476.9 692.4 476.2 693.8"/>
<path fill="none" stroke="#2a2524" stroke-width="1.61" stroke-linejoin="round" stroke-linecap="round" d="M466.3 686.7C468.5 686.7 478.7 685.7 479.6 686.7C480.6 687.7 473.3 691.8 472 692.8"/>
<path fill="none" stroke="#9c9c9c" stroke-width="4.2" stroke-linejoin="round" stroke-linecap="round" d="M571.6 824.8C571.1 822.2 570.6 813.3 568.6 809.2C566.6 805.1 563.1 802.4 559.6 800.2C556.1 798 551.2 796.7 547.6 795.8C544 794.9 539.6 795.1 538 795"/>
<path fill="#9c9c9c" d="M539.2 791.4L530.8 796L539.8 799.6Z"/>
<path fill="none" stroke="#9c9c9c" stroke-width="4.2" stroke-linejoin="round" stroke-linecap="round" d="M508 825.4C508 827.3 507.2 833.3 508.2 836.8C509.2 840.3 511.4 843.8 514 846.4C516.6 849 520.6 851 523.6 852.4C526.6 853.8 530.6 854.4 532 854.8"/>
<path fill="#9c9c9c" d="M530.8 851L539.2 855.6L530.8 859Z"/>
<path fill="#4a4646" stroke="#2a2524" stroke-width="1.2" d="M524.8 811.6C526.4 809.9 529.2 807.6 532 807.4C534.8 807.2 540.8 807.9 541.6 810.4C542.4 812.9 539.2 820.2 536.8 822.4C534.4 824.6 529.6 824.4 527.2 823.6C524.8 822.8 522.8 819.6 522.4 817.6C522 815.6 523.2 813.3 524.8 811.6Z"/>
<circle cx="541.6" cy="828.4" r="13.2" fill="#6e6e6e" stroke="#2a2524" stroke-width="1.84"/>
<path fill="#5a5757" stroke="#2a2524" stroke-width="1.49" d="M548.8 836.8C548.3 834.1 553.4 832.8 556 834.4C558.6 836 566.8 846.1 568.6 848.8C570.4 851.5 570.4 853.7 569.8 854.8C569.2 855.9 565.8 857.2 564.4 857.2C563 857.2 561.7 857.5 559.6 854.8C557.5 852.1 549.3 839.5 548.8 836.8Z"/>
<path fill="#d8d8d8" stroke="#2a2524" stroke-width="1.49" d="M538.6 824.8C539.2 823.5 542.2 822.1 544 822.4C545.8 822.7 550.8 825.6 552.4 827.2C554 828.8 556 832.8 556 834.4C556 836 553.7 838.7 552.4 839.2C551.1 839.7 548.2 839 546.4 838C544.6 837 540.2 833.8 539.2 832C538.2 830.2 538 826.1 538.6 824.8Z"/>
<circle cx="550" cy="834.6" r="2.6" fill="#3a3636"/>
<rect x="518.8" y="822.4" width="11" height="4.6" rx="2.3" fill="#fff" stroke="#2a2524" stroke-width="1.2"/>
<rect x="557" y="826.7" width="8" height="4.2" rx="2.1" fill="#fff" stroke="#2a2524" stroke-width="1.2"/>
</g>
<g clip-path="url(#c6)">
<path fill="#fff" stroke="none" d="M842.4 684.8C840.8 688.6 836.6 700.6 832.8 707.6C829 714.6 823 720.8 819.6 726.8C816.2 732.8 814.4 739.8 812.4 743.6C810.4 747.4 810 746.8 807.6 749.6C805.2 752.4 801.8 756.2 798 760.4C794.2 764.6 787.2 771.6 784.8 774.8C782.4 778 783.4 776.8 783.6 779.6C783.8 782.4 785.6 789.6 786 791.6L819.6 791.6C820 789.8 820.6 783.6 822 780.8C823.4 778 825 779.2 828 774.8C831 770.4 836 761.2 840 754.4C844 747.6 848 737.8 852 734C856 730.2 862 732 864 731.6L864.3 730.8L889 742.2L912.8 700L910.9 694.3L898.5 685.8L896.6 679.1Z"/>
<path fill="none" stroke="#2a2524" stroke-width="1.84" stroke-linejoin="round" stroke-linecap="round" d="M842.4 684.8C840.8 688.6 836.6 700.6 832.8 707.6C829 714.6 823 720.8 819.6 726.8C816.2 732.8 814.4 739.8 812.4 743.6C810.4 747.4 810 746.8 807.6 749.6C805.2 752.4 801.8 756.2 798 760.4C794.2 764.6 787.2 771.6 784.8 774.8C782.4 778 783.4 776.8 783.6 779.6C783.8 782.4 785.6 789.6 786 791.6"/>
<path fill="none" stroke="#2a2524" stroke-width="1.84" stroke-linejoin="round" stroke-linecap="round" d="M819.6 791.6C820 789.8 820.6 783.6 822 780.8C823.4 778 825 779.2 828 774.8C831 770.4 836 761.2 840 754.4C844 747.6 848 737.8 852 734C856 730.2 862 732 864 731.6"/>
<path fill="none" stroke="#2a2524" stroke-width="1.84" stroke-linejoin="round" d="M864.3 730.8C865.8 731.5 885.3 740.7 887.1 741.4C888.9 742.1 889.2 743.7 890.9 740.9C892.6 738.1 911.4 703.1 912.8 700C914.2 696.9 912.3 695.6 911.4 694.7C910.5 693.8 899.9 687.3 898.9 686.3C897.9 685.3 896.4 679.6 896.2 679.1"/>
<path fill="none" stroke="#2a2524" stroke-width="1.72" d="M787 793.1L790.8 798.8L790.8 869.1"/>
<path fill="none" stroke="#9a9a9a" stroke-width="0.9" stroke-linejoin="round" stroke-linecap="round" d="M848.4 689.6L838.8 710"/>
<path fill="none" stroke="#9a9a9a" stroke-width="0.9" stroke-linejoin="round" stroke-linecap="round" d="M831.6 728C829 732.2 822 745 816 753.2C810 761.4 799 773.2 795.6 777.2"/>
<path fill="none" stroke="#9a9a9a" stroke-width="0.9" stroke-linejoin="round" stroke-linecap="round" d="M840 734L816 774.8"/>
<path fill="none" stroke="#9a9a9a" stroke-width="0.9" stroke-linejoin="round" stroke-linecap="round" d="M792 778.4C796 778 809.6 776.6 816 776C822.4 775.4 828 775 830.4 774.8"/>
<path fill="none" stroke="#9a9a9a" stroke-width="0.9" stroke-linejoin="round" stroke-linecap="round" d="M795.6 777.2C798 777.8 806 779.4 810 780.8C814 782.2 818 784.8 819.6 785.6"/>
<path fill="none" stroke="#2a2524" stroke-width="1.61" d="M785.1 784.6L813.6 806.4"/>
<path fill="none" stroke="#5a5655" stroke-width="1" d="M854.4 693.4L897 691.8L884.4 725.6L876 733.4L850.2 722L852 710Z"/>
<path fill="none" stroke="#bbb" stroke-width="0.8" d="M856.8 695.6L892.8 694.2L882 722L876 728L853.2 718.4Z"/>
<rect x="856.8" y="697" width="5.8" height="5.5" rx="1.2" fill="none" stroke="#2a2524" stroke-width="1.1" transform="rotate(8 856.8 697)"/>
<rect x="864" y="698.2" width="5" height="5.3" rx="1.2" fill="none" stroke="#2a2524" stroke-width="1.1" transform="rotate(8 864 698.2)"/>
<path fill="none" stroke="#2a2524" stroke-width="1.1" stroke-linejoin="round" stroke-linecap="round" d="M853.4 712.6C853.5 712.3 854.5 707.7 855 707.4C855.5 707.1 860.3 707.8 860.6 708.2C860.9 708.6 859.3 713.4 859.2 713.8"/>
<path fill="none" stroke="#2a2524" stroke-width="1.1" stroke-linejoin="round" stroke-linecap="round" d="M862.8 714.3C862.9 713.9 863.7 709.3 864.2 709C864.7 708.7 869.5 709.6 869.8 710C870.1 710.4 868.4 715.1 868.3 715.5"/>
<path fill="#e0e0e0" stroke="#aaa" stroke-width="0.6" d="M876.6 702.8L888 703L886.8 707.1L875.4 706.6Z"/>
<path fill="#a8a8a8" d="M874.2 708.8L886.6 709.3L884.6 713.8L872.4 713.1Z"/>
<path fill="#8e8e8e" d="M871.8 714.8L882.2 715.5L880.6 719.4L870.2 718.6Z"/>
<path fill="#cfcfcf" d="M868.8 722L878.4 724.4L877.2 727.4L867.6 725Z"/>
<path fill="#e4e4e4" d="M819.6 785.6C821 784.4 823.6 780.6 828 778.4C832.4 776.2 839.6 773.9 846 772.4C852.4 770.9 861 769.6 866.4 769.4C871.8 769.2 877.8 771.1 878.4 771C879 770.9 869.5 768.8 870 768.8C870.5 768.8 877.3 770.1 881.4 771.3C885.5 772.5 892.5 775.2 894.7 776L877 855Z"/>
<path fill="none" stroke="#2a2524" stroke-width="2.53" stroke-linejoin="round" stroke-linecap="round" d="M819.6 785.6C821 784.4 823.6 780.6 828 778.4C832.4 776.2 839.6 773.9 846 772.4C852.4 770.9 861 769.6 866.4 769.4C871.8 769.2 877.8 771.1 878.4 771C879 770.9 869.5 768.8 870 768.8C870.5 768.8 877.3 770.1 881.4 771.3C885.5 772.5 892.5 775.2 894.7 776"/>
<path fill="none" stroke="#2a2524" stroke-width="1.84" stroke-linejoin="round" stroke-linecap="round" d="M819.6 785.6C820.2 786 821.2 787.6 823.2 788.2C825.2 788.8 830.2 789.2 831.6 789.4"/>
<circle cx="878" cy="855" r="80" fill="#e8e8e8" stroke="#2a2524" stroke-width="1.95"/>
<path fill="none" stroke="#2a2524" stroke-width="1.2" d="M931.5 795.5l-1.9 2.1"/>
<path fill="none" stroke="#2a2524" stroke-width="1.2" d="M937.1 801.1l-2.1 1.9"/>
<path fill="none" stroke="#2a2524" stroke-width="1.2" d="M942.1 807.1l-2.2 1.7"/>
<path fill="none" stroke="#2a2524" stroke-width="1.2" d="M946.4 813.6l-2.4 1.5"/>
<path fill="none" stroke="#2a2524" stroke-width="1.2" d="M950.1 820.4l-2.5 1.2"/>
<path fill="none" stroke="#2a2524" stroke-width="1.2" d="M953.2 827.6l-2.6 1"/>
<path fill="none" stroke="#2a2524" stroke-width="1.2" d="M955.5 835.1l-2.7 0.7"/>
<path fill="none" stroke="#2a2524" stroke-width="1.2" d="M957.1 842.8l-2.8 0.4"/>
<path fill="none" stroke="#2a2524" stroke-width="1.2" d="M957.9 850.5l-2.8 0.2"/>
<path fill="none" stroke="#2a2524" stroke-width="1.2" d="M957.9 858.4l-2.8 -0.1"/>
<path fill="none" stroke="#2a2524" stroke-width="1.2" d="M957.2 866.1l-2.8 -0.4"/>
<path fill="none" stroke="#2a2524" stroke-width="1.2" d="M955.8 873.8l-2.7 -0.7"/>
<path fill="none" stroke="#2a2524" stroke-width="1.2" d="M953.6 881.3l-2.6 -0.9"/>
<path fill="none" stroke="#2a2524" stroke-width="1.2" d="M950.6 888.6l-2.5 -1.2"/>
<path fill="none" stroke="#2a2524" stroke-width="1.2" d="M947 895.5l-2.4 -1.4"/>
<circle cx="879" cy="858" r="61" fill="none" stroke="#999" stroke-width="1.1"/>
<circle cx="879" cy="858" r="55" fill="none" stroke="#c8c8c8" stroke-width="0.8"/>
<ellipse cx="888" cy="866" rx="48" ry="57" fill="#fff" stroke="#2a2524" stroke-width="2.07"/>
<ellipse cx="889" cy="867" rx="43" ry="52" fill="none" stroke="#5a5655" stroke-width="1"/>
<ellipse cx="890" cy="868" rx="37" ry="46" fill="none" stroke="#aaa" stroke-width="0.8"/>
<path fill="#fff" stroke="#2a2524" stroke-width="1.2" stroke-linejoin="round" d="M889.5 852.6L898.9 812.3L894.2 811.6L883.6 851.7Z"/>
<path fill="#fff" stroke="#2a2524" stroke-width="1.2" stroke-linejoin="round" d="M892.7 855L914.9 821L910.8 818.5L887.6 851.9Z"/>
<path fill="none" stroke="#2a2524" stroke-width="1.72" stroke-linejoin="round" d="M912.2 832.3C913.5 831.3 913.9 834.1 914.2 834.5C914.5 834.9 915.8 836.4 916.1 836.9C916.4 837.3 917.6 838.9 917.9 839.4C918.2 839.8 919.3 841.6 919.5 842C919.8 842.5 920.7 844.4 920.9 844.9C921.2 845.3 922 847.3 922.2 847.8C922.4 848.3 923.1 850.3 923.3 850.8C923.5 851.3 925.8 853.5 924.2 854C922.6 854.4 905.8 856.1 904.1 856.2C902.4 856.2 903.7 855 903.6 854.8C903.6 854.5 903.2 853.6 903.1 853.4C902.9 853.2 902.5 852.3 902.4 852.1C902.2 851.9 901.7 851 901.6 850.8C901.4 850.6 900.9 849.8 900.7 849.6C900.6 849.4 899.9 848.7 899.7 848.5C899.6 848.3 898.9 847.6 898.7 847.4C898.5 847.3 896.5 847.7 897.6 846.5C898.7 845.2 910.8 833.3 912.2 832.3Z"/>
<path fill="none" stroke="#2a2524" stroke-width="1.1" stroke-linejoin="round" d="M898.3 824.8C899 823.7 898.9 825 899.1 825.1C899.2 825.1 899.7 825.3 899.8 825.4C900 825.4 900.4 825.6 900.6 825.7C900.7 825.7 901.2 825.9 901.3 826C901.4 826 901.9 826.3 902 826.3C902.2 826.4 902.7 826.6 902.8 826.7C902.9 826.7 903.4 827 903.5 827C903.6 827.1 904.9 826.3 904.2 827.4C903.5 828.5 895.9 839.2 895.1 840.2C894.3 841.3 894.7 840.1 894.7 840C894.6 840 894.3 839.9 894.2 839.8C894.1 839.8 893.8 839.7 893.7 839.6C893.6 839.6 893.3 839.5 893.2 839.4C893.1 839.4 892.8 839.3 892.7 839.3C892.6 839.2 892.3 839.1 892.2 839.1C892.1 839.1 891.8 839 891.7 839C891.6 838.9 890.7 840 891.2 838.8C891.8 837.6 897.7 826 898.3 824.8Z"/>
<path fill="#fff" stroke="#2a2524" stroke-width="1.2" stroke-linejoin="round" d="M895.3 863.4L934 861.4L933.3 856.7L894.4 857.5Z"/>
<path fill="#fff" stroke="#2a2524" stroke-width="1.2" stroke-linejoin="round" d="M894.1 867.2L932 882.3L933 877.6L895.4 861.3Z"/>
<path fill="none" stroke="#2a2524" stroke-width="1.72" stroke-linejoin="round" d="M923.4 883C924.9 884.4 922.5 885.5 922.3 886C922.1 886.5 921.3 888.5 921 889C920.8 889.5 919.9 891.3 919.6 891.8C919.3 892.2 918.3 894 918 894.5C917.7 894.9 916.5 896.6 916.2 897C915.9 897.4 914.7 899 914.3 899.4C914 899.7 912.6 901.2 912.3 901.6C911.9 901.9 911.4 905.5 910.1 903.6C908.8 901.6 897.5 880.6 896.5 878.4C895.4 876.2 897.5 877.6 897.7 877.5C897.8 877.3 898.6 876.7 898.8 876.5C898.9 876.3 899.6 875.6 899.8 875.4C900 875.3 900.6 874.5 900.8 874.3C900.9 874.1 901.5 873.3 901.6 873.1C901.8 872.9 902.3 872.1 902.4 871.8C902.5 871.6 903 870.8 903.1 870.5C903.2 870.3 902 868.1 903.7 869.2C905.4 870.2 921.8 881.6 923.4 883Z"/>
<path fill="none" stroke="#2a2524" stroke-width="1.1" stroke-linejoin="round" d="M925 864.7C926.3 865.1 925 865.5 925 865.7C925 865.8 925 866.5 925 866.6C925 866.8 925 867.4 925 867.6C925 867.7 925 868.4 925 868.5C925 868.7 924.9 869.3 924.9 869.5C924.9 869.6 924.9 870.3 924.9 870.4C924.9 870.6 924.8 871.2 924.8 871.4C924.8 871.5 926.1 872.9 924.7 872.3C923.4 871.8 910.1 865.6 908.8 864.9C907.5 864.3 908.9 864.5 908.9 864.4C908.9 864.3 908.9 864 908.9 863.9C908.9 863.8 909 863.4 909 863.4C909 863.3 909 862.9 909 862.8C909 862.8 909 862.4 909 862.3C909 862.2 909 861.9 909 861.8C909 861.7 909 861.4 909 861.3C909 861.2 907.6 860.5 909 860.7C910.3 861 923.6 864.3 925 864.7Z"/>
<path fill="#fff" stroke="#2a2524" stroke-width="1.2" stroke-linejoin="round" d="M877.5 854.8L848.7 837.4L846.6 841.7L874.7 860.1Z"/>
<path fill="#fff" stroke="#2a2524" stroke-width="1.2" stroke-linejoin="round" d="M880.7 852.5L860.7 821.9L857.1 825L876.2 856.4Z"/>
<path fill="none" stroke="#2a2524" stroke-width="1.72" stroke-linejoin="round" d="M869 829.6C868.7 828.1 870.9 828.1 871.3 827.9C871.7 827.6 873.3 826.6 873.7 826.4C874.2 826.2 875.8 825.3 876.3 825.1C876.7 824.9 878.4 824.3 878.9 824.1C879.3 824 881.1 823.4 881.5 823.3C882 823.2 883.7 822.8 884.2 822.8C884.6 822.7 886.5 822.5 886.9 822.5C887.4 822.4 889.8 820.8 889.6 822.4C889.5 824 885.8 840.4 885.3 842C884.9 843.6 884.1 842 883.9 842C883.6 842 882.6 842.1 882.4 842.2C882.1 842.2 881.2 842.4 880.9 842.4C880.7 842.5 879.7 842.7 879.5 842.8C879.2 842.8 878.3 843.2 878.1 843.2C877.8 843.3 876.9 843.7 876.7 843.8C876.5 843.9 875.6 844.3 875.4 844.5C875.2 844.6 874.6 846.5 874.1 845.2C873.6 844 869.2 831 869 829.6Z"/>
<path fill="none" stroke="#2a2524" stroke-width="1.1" stroke-linejoin="round" d="M858.8 843.2C858.3 842.7 859.2 842.6 859.2 842.4C859.3 842.3 859.6 841.8 859.7 841.7C859.8 841.5 860.1 841 860.2 840.9C860.2 840.8 860.6 840.3 860.6 840.1C860.7 840 861 839.5 861.1 839.4C861.2 839.3 861.5 838.8 861.6 838.7C861.7 838.5 862.1 838.1 862.1 837.9C862.2 837.8 862.2 836.6 862.7 837.2C863.1 837.9 867.1 844.9 867.4 845.6C867.8 846.4 867.2 846 867.1 846C867 846.1 866.8 846.3 866.8 846.4C866.7 846.5 866.5 846.7 866.4 846.8C866.4 846.9 866.1 847.2 866.1 847.2C866 847.3 865.8 847.6 865.8 847.6C865.7 847.7 865.5 848 865.5 848.1C865.4 848.1 865.2 848.4 865.2 848.5C865.1 848.6 865.4 849.4 864.9 848.9C864.3 848.5 859.3 843.8 858.8 843.2Z"/>
<path fill="#fff" stroke="#2a2524" stroke-width="1.2" stroke-linejoin="round" d="M886.9 872.3L905.5 916.8L909.8 914.6L892.2 869.5Z"/>
<path fill="#fff" stroke="#2a2524" stroke-width="1.2" stroke-linejoin="round" d="M882.9 872.2L888.2 921.1L893 920.7L888.9 871.7Z"/>
<path fill="none" stroke="#2a2524" stroke-width="1.72" stroke-linejoin="round" d="M887.1 911.6C887.1 914 884.8 911.3 884.4 911.3C883.9 911.2 882.1 910.8 881.7 910.7C881.2 910.6 879.4 910.1 879 909.9C878.6 909.8 876.8 909.1 876.4 908.9C876 908.7 874.3 907.9 873.9 907.7C873.5 907.5 871.8 906.5 871.4 906.2C871 905.9 869.5 904.8 869.1 904.5C868.7 904.2 866.5 904.8 866.9 902.6C867.2 900.4 872.4 880 873 878C873.6 876 874 878.7 874.2 878.8C874.4 879 875.2 879.5 875.5 879.6C875.7 879.7 876.6 880.1 876.8 880.2C877 880.3 877.9 880.7 878.2 880.8C878.4 880.9 879.3 881.2 879.6 881.2C879.8 881.3 880.8 881.5 881 881.6C881.3 881.6 882.2 881.8 882.5 881.8C882.7 881.9 883.6 879.5 884 882C884.3 884.4 887 909.1 887.1 911.6Z"/>
<path fill="none" stroke="#2a2524" stroke-width="1.1" stroke-linejoin="round" d="M901.9 907.8C902.5 909.7 901.3 908 901.2 908.1C901 908.1 900.5 908.3 900.4 908.4C900.3 908.4 899.8 908.6 899.7 908.7C899.6 908.7 899 908.9 898.9 909C898.8 909 898.3 909.2 898.2 909.2C898 909.3 897.5 909.4 897.4 909.4C897.3 909.5 896.8 909.6 896.6 909.7C896.5 909.7 896.5 911.9 895.9 909.8C895.3 907.8 890.1 887.6 889.6 885.6C889.1 883.5 890 885.5 890.1 885.5C890.2 885.4 890.5 885.4 890.6 885.3C890.7 885.3 891 885.2 891.1 885.2C891.2 885.2 891.5 885.1 891.6 885.1C891.7 885 892 884.9 892.1 884.9C892.2 884.9 892.5 884.8 892.6 884.8C892.7 884.7 893 884.6 893.1 884.6C893.2 884.6 892.9 882.5 893.6 884.4C894.3 886.3 901.3 905.8 901.9 907.8Z"/>
<path fill="#fff" stroke="#2a2524" stroke-width="1.2" stroke-linejoin="round" d="M875.8 866.9L852.8 902L856.2 905.4L880.1 871.2Z"/>
<path fill="#fff" stroke="#2a2524" stroke-width="1.2" stroke-linejoin="round" d="M874.6 863.1L844.2 883.8L846.1 888.2L877 868.7Z"/>
<path fill="none" stroke="#2a2524" stroke-width="1.72" stroke-linejoin="round" d="M853.5 878.5C852.4 879.2 852.9 875.9 852.8 875.3C852.8 874.8 852.5 872.6 852.4 872.1C852.4 871.5 852.2 869.3 852.2 868.8C852.2 868.2 852.2 866 852.2 865.4C852.2 864.9 852.4 862.7 852.4 862.1C852.5 861.6 852.7 859.4 852.8 858.9C852.9 858.3 853.3 856.2 853.4 855.6C853.5 855.1 853.1 852.5 854.2 852.5C855.3 852.5 865.1 855.1 866.1 855.5C867 855.9 865.7 856.7 865.7 856.9C865.6 857.1 865.4 858.1 865.3 858.4C865.3 858.6 865.1 859.6 865.1 859.8C865.1 860.1 865 861.1 865 861.3C865 861.5 865 862.5 865 862.8C865 863 865.1 864 865.1 864.3C865.2 864.5 865.3 865.5 865.4 865.7C865.4 866 866.7 866.1 865.7 867.2C864.7 868.2 854.5 877.9 853.5 878.5Z"/>
<path fill="none" stroke="#2a2524" stroke-width="1.1" stroke-linejoin="round" d="M861 894.5C860.5 895.9 860.6 893.8 860.5 893.7C860.5 893.6 860.1 893.1 860.1 893C860 892.8 859.7 892.3 859.6 892.2C859.5 892.1 859.2 891.5 859.2 891.4C859.1 891.3 858.8 890.7 858.7 890.6C858.7 890.5 858.4 889.9 858.3 889.8C858.2 889.7 858 889.1 857.9 889C857.8 888.9 857 889.4 857.5 888.2C858 886.9 863.4 874.8 864 873.6C864.6 872.5 864.2 874 864.3 874.1C864.3 874.2 864.5 874.5 864.5 874.5C864.6 874.6 864.8 874.9 864.8 875C864.9 875.1 865.1 875.3 865.1 875.4C865.2 875.5 865.4 875.8 865.4 875.9C865.5 875.9 865.7 876.2 865.7 876.3C865.8 876.3 866 876.6 866 876.7C866.1 876.8 866.8 875.6 866.3 877.1C865.9 878.6 861.5 893.1 861 894.5Z"/>
<circle cx="882" cy="841.1" r="9" fill="#fff" stroke="#2a2524" stroke-width="1.2"/>
<path fill="#5a5757" stroke="#2a2524" stroke-width="1.2" d="M873.6 840.5C873.9 838.6 879.6 837.4 881.4 838.8C883.2 840.2 885.6 848.5 887.2 850.9C888.8 853.3 893.2 855.3 893.1 856.7C893 858.1 888.4 861.8 886.6 861.3C884.8 860.8 881.1 855.6 879.4 852.8C877.7 850 873.3 842.4 873.6 840.5Z"/>
<ellipse cx="894.4" cy="860.9" rx="7" ry="5.2" fill="#6e6e6e" stroke="#2a2524" stroke-width="1.61"/>
<ellipse cx="895" cy="861.9" rx="3" ry="2.2" fill="#d0d0d0" stroke="#2a2524" stroke-width="0.9"/>
<path fill="#fff" stroke="none" d="M695.8 686.7L730 686.7L731.9 700L729.1 723.8L699.6 727.6L695.8 728.1Z"/>
<path fill="none" stroke="#2a2524" stroke-width="1.72" stroke-linejoin="round" stroke-linecap="round" d="M730 686.7C730.3 688.9 732 693.8 731.9 700C731.8 706.2 729.6 719.8 729.1 723.8"/>
<path fill="none" stroke="#2a2524" stroke-width="1.72" d="M729.1 723.8L699.6 727.6L694.9 728.1"/>
<path fill="#fff" stroke="#2a2524" stroke-width="1.72" stroke-linejoin="round" d="M729.6 802.6L732.9 806.4L795.6 844.8L799.4 839.7L731.9 800.3Z"/>
<path fill="#fff" stroke="#2a2524" stroke-width="1.72" stroke-linejoin="round" stroke-linecap="round" d="M731.9 800.3C731.3 800.7 728.9 801.5 728.5 802.6C728.1 803.7 728.9 806.1 729.6 806.8C730.3 807.5 732.4 806.8 732.9 806.8"/>
<path fill="#fff" stroke="#2a2524" stroke-width="1.84" d="M785.1 853C785.4 851.8 789.2 848.2 790.8 846.3C792.4 844.4 796.8 839.3 798.4 836.8C800 834.3 803.1 826.1 804.5 825C805.9 823.9 810 826.1 810.2 827.7C810.4 829.3 807.4 836.3 806 838.7C804.6 841.1 799.8 846.5 798.4 848.6C797 850.7 794.9 855.8 793.7 856.8C792.5 857.8 789 857.2 788 856.8C787 856.4 784.8 854.2 785.1 853Z"/>
<path fill="none" stroke="#2a2524" stroke-width="1.49" stroke-linejoin="round" stroke-linecap="round" d="M796.1 831.1C797 830.8 799.6 828.9 801.3 829.2C802.9 829.5 805.2 832.4 806 833"/>
<path fill="#fff" stroke="#2a2524" stroke-width="1.84" stroke-linejoin="round" d="M699.6 728.5C700.9 733.2 703.7 748.1 707.2 757C710.7 765.9 715.8 774.1 720.5 781.7C725.2 789.3 731 796 735.7 802.6C740.5 809.2 745.8 816.5 749 821.6C752.2 826.7 752.2 829.8 754.7 833C757.2 836.2 762 838.9 764.2 840.6C766.4 842.4 766.4 844.1 768 843.5C769.6 842.9 772.3 839.5 773.7 836.8C775.1 834.1 776.6 830.5 776.6 827.3C776.6 824.1 774.2 819.4 773.7 817.8L771.8 814C769.9 811.5 764.2 804.5 760.4 798.8C756.6 793.1 752.8 787.4 749 779.8C745.2 772.2 740.8 762.4 737.6 753.2C734.4 744 731.3 729.5 730 724.7Z"/>
<path fill="none" stroke="#5a5655" stroke-width="0.9" stroke-linejoin="round" stroke-linecap="round" d="M756.6 831.1C757.2 830.1 758.8 826.7 760.4 825.4C762 824.1 765.1 823.8 766.1 823.5"/>
<path fill="none" stroke="#5a5655" stroke-width="0.9" stroke-linejoin="round" stroke-linecap="round" d="M763.3 838.7C763.8 837.6 764.7 833.7 766.1 832.1C767.5 830.5 770.8 829.7 771.8 829.2"/>
<path fill="none" stroke="#5a5655" stroke-width="0.9" stroke-linejoin="round" stroke-linecap="round" d="M751.9 825.4L755.7 820.7"/>
<path fill="none" stroke="#5a5655" stroke-width="1" stroke-linejoin="round" stroke-linecap="round" d="M706.3 745.6C706.9 746.5 709 750 710.1 751.3C711.2 752.6 712.4 752.9 712.9 753.2"/>
<path fill="#fff" stroke="none" d="M762.3 686.7C765.5 688.3 776.3 694.4 781.3 696.2C786.2 698 787.2 695.9 792 697.4C796.8 698.9 804 702.8 810 705.2C816 707.6 823 710.1 828 711.8C833 713.5 836 715 840 715.4C844 715.8 848.4 714.2 852 714.2C855.6 714.2 857.6 714.6 861.6 715.4C865.6 716.2 873.8 718 876 719C878.2 720 876.8 721.3 874.8 721.6C872.8 721.9 865.8 721.1 864 721L862.8 722C863.2 722.7 865.2 724.8 865.4 726.2C865.6 727.6 865.2 729.7 864 730.6C862.8 731.5 861 732 858 731.8C855 731.6 850 730.2 846 729.2C842 728.2 839 726.5 834 725.6C829 724.7 822 724.6 816 723.8C810 723 804 722.1 798 720.8C792 719.5 784.4 716.9 780 716C775.6 715.1 774.8 714.1 771.8 715.2C768.8 716.3 763.9 721.5 762.3 722.8Z"/>
<path fill="none" stroke="#2a2524" stroke-width="1.84" stroke-linejoin="round" stroke-linecap="round" d="M762.3 686.7C765.5 688.3 776.3 694.4 781.3 696.2C786.2 698 787.2 695.9 792 697.4C796.8 698.9 804 702.8 810 705.2C816 707.6 823 710.1 828 711.8C833 713.5 836 715 840 715.4C844 715.8 848.4 714.2 852 714.2C855.6 714.2 857.6 714.6 861.6 715.4C865.6 716.2 873.8 718 876 719C878.2 720 876.8 721.3 874.8 721.6C872.8 721.9 866 720.9 864 721C862 721.1 863 721.8 862.8 722"/>
<path fill="none" stroke="#2a2524" stroke-width="1.84" stroke-linejoin="round" stroke-linecap="round" d="M862.8 722C863.2 722.7 865.2 724.8 865.4 726.2C865.6 727.6 865.2 729.7 864 730.6C862.8 731.5 861 732 858 731.8C855 731.6 850 730.2 846 729.2C842 728.2 839 726.5 834 725.6C829 724.7 822 724.6 816 723.8C810 723 804 722.1 798 720.8C792 719.5 784.4 716.9 780 716C775.6 715.1 774.8 714.1 771.8 715.2C768.8 716.3 763.9 721.5 762.3 722.8"/>
<circle cx="859.4" cy="724.4" r="2.8" fill="#fff" stroke="#2a2524" stroke-width="1.49"/>
<path fill="none" stroke="#2a2524" stroke-width="1.72" stroke-linejoin="round" stroke-linecap="round" d="M781.3 696.2C781 698.4 781.4 706.2 779.8 709.5C778.2 712.8 774.7 714 771.8 716.2C768.9 718.4 763.9 721.7 762.3 722.8"/>
</g>
<defs><clipPath id="cph"><rect x="593" y="200" width="337" height="178" rx="16"/></clipPath><linearGradient id="gface" x1="0" y1="0" x2="1" y2="1"><stop offset="0" stop-color="#eeeeee"/><stop offset="0.45" stop-color="#bdbdbd"/><stop offset="1" stop-color="#7c7c7c"/></linearGradient><linearGradient id="gbar" x1="0" y1="0" x2="1" y2="0.25"><stop offset="0" stop-color="#fafafa"/><stop offset="0.3" stop-color="#e6e6e6"/><stop offset="1" stop-color="#d2d2d2"/></linearGradient><filter id="bl2" x="-10%" y="-10%" width="120%" height="120%"><feGaussianBlur stdDeviation="2"/></filter><filter id="bl1" x="-10%" y="-10%" width="120%" height="120%"><feGaussianBlur stdDeviation="1.1"/></filter></defs>
<g clip-path="url(#cph)">
<path fill="#171515" d="M691 195C688.5 199 679.5 210.7 676 219C672.5 227.3 671 235.7 670 245C669 254.3 669.3 265 670 275C670.7 285 672 295 674 305C676 315 679 325.7 682 335C685 344.3 688.7 353 692 361C695.3 369 700.3 379.3 702 383L800 383C798.7 378.7 794.7 364.3 792 357C789.3 349.7 788 347.3 784 339C780 330.7 773.3 317 768 307C762.7 297 757.3 287 752 279C746.7 271 742.3 264.3 736 259C729.7 253.7 717.7 249 714 247L715 246.6C717.2 245.7 723.2 243.2 728 241C732.8 238.8 738 236.3 744 233.6C750 230.9 757.3 228.3 764 225C770.7 221.7 781.3 218 784 214C786.7 210 781 204.2 780 201C779 197.8 778.3 196 778 195Z"/>
<path fill="#2c2a2a" d="M692 207C686.3 209.7 684.3 218.3 682 225C679.7 231.7 677.3 245.3 678 247C678.7 248.7 682.3 239.7 686 235C689.7 230.3 695 223.3 700 219C705 214.7 717.3 211 716 209C714.7 207 697.7 204.3 692 207Z"/>
<path fill="#232121" d="M706 207C711.3 204 729.3 204.7 740 205C750.7 205.3 766.7 206.7 770 209C773.3 211.3 766.7 216.3 760 219C753.3 221.7 738.7 224.3 730 225C721.3 225.7 712 226 708 223C704 220 700.7 210 706 207Z"/>
<clipPath id="cbar"><path d="M715 246.6C715.8 244 737.5 236.3 744 233.4C750.5 230.5 775.2 219.2 780 217.4C784.8 215.6 789 214.5 792 215C795 215.5 805.2 219.1 810 222C814.8 224.9 835 238.2 840 244C845 249.8 857 274.6 860 280C863 285.4 867.8 294.5 869.6 298C871.4 301.5 877.1 311.6 878 314.8C878.9 318 881 327.6 878.6 330.4C876.2 333.2 858.9 340.4 854 342.4C849.1 344.4 836.2 349.3 830 350.8C823.8 352.3 796.6 358.2 792 357C787.4 355.8 786.4 344 784 339C781.6 334 771.2 313 768 307C764.8 301 755.2 283.8 752 279C748.8 274.2 739.7 262.2 736 259C732.3 255.8 714.2 249.2 715 246.6Z"/></clipPath>
<path fill="url(#gbar)" d="M715 246.6C715.8 244 737.5 236.3 744 233.4C750.5 230.5 775.2 219.2 780 217.4C784.8 215.6 789 214.5 792 215C795 215.5 805.2 219.1 810 222C814.8 224.9 835 238.2 840 244C845 249.8 857 274.6 860 280C863 285.4 867.8 294.5 869.6 298C871.4 301.5 877.1 311.6 878 314.8C878.9 318 881 327.6 878.6 330.4C876.2 333.2 858.9 340.4 854 342.4C849.1 344.4 836.2 349.3 830 350.8C823.8 352.3 796.6 358.2 792 357C787.4 355.8 786.4 344 784 339C781.6 334 771.2 313 768 307C764.8 301 755.2 283.8 752 279C748.8 274.2 739.7 262.2 736 259C732.3 255.8 714.2 249.2 715 246.6Z"/>
<g clip-path="url(#cbar)"><g filter="url(#bl2)">
<path fill="none" stroke="#8c8c8c" stroke-width="6" d="M773.2 191.2C777.2 194.2 788.9 202.9 797.2 209.2C805.6 215.5 815.2 221.2 823.2 229.2C831.2 237.2 838.6 246.9 845.2 257.2C851.9 267.5 857.6 278.9 863.2 291.2C868.9 303.5 875.2 319.5 879.2 331.2C883.2 342.9 885.9 356.2 887.2 361.2"/>
<path fill="none" stroke="#eeeeee" stroke-width="9" d="M765.9 194.4C769.9 197.4 781.5 206.1 789.9 212.4C798.2 218.7 807.9 224.4 815.9 232.4C823.9 240.4 831.2 250.1 837.9 260.4C844.5 270.7 850.2 282.1 855.9 294.4C861.5 306.7 867.9 322.7 871.9 334.4C875.9 346.1 878.5 359.4 879.9 364.4"/>
<path fill="none" stroke="#b2b2b2" stroke-width="7" d="M757.6 198C761.6 201 773.3 209.7 781.6 216C789.9 222.3 799.6 228 807.6 236C815.6 244 822.9 253.7 829.6 264C836.3 274.3 841.9 285.7 847.6 298C853.3 310.3 859.6 326.3 863.6 338C867.6 349.7 870.3 363 871.6 368"/>
<path fill="none" stroke="#e4e4e4" stroke-width="9" d="M749.3 201.6C753.3 204.6 765 213.3 773.3 219.6C781.7 225.9 791.3 231.6 799.3 239.6C807.3 247.6 814.7 257.3 821.3 267.6C828 277.9 833.7 289.3 839.3 301.6C845 313.9 851.3 329.9 855.3 341.6C859.3 353.3 862 366.6 863.3 371.6"/>
<path fill="none" stroke="#a2a2a2" stroke-width="7" d="M741 205.2C745 208.2 756.7 216.9 765 223.2C773.4 229.5 783 235.2 791 243.2C799 251.2 806.4 260.9 813 271.2C819.7 281.5 825.4 292.9 831 305.2C836.7 317.5 843 333.5 847 345.2C851 356.9 853.7 370.2 855 375.2"/>
<path fill="none" stroke="#dcdcdc" stroke-width="9" d="M732.8 208.8C736.8 211.8 748.4 220.5 756.8 226.8C765.1 233.1 774.8 238.8 782.8 246.8C790.8 254.8 798.1 264.5 804.8 274.8C811.4 285.1 817.1 296.5 822.8 308.8C828.4 321.1 834.8 337.1 838.8 348.8C842.8 360.5 845.4 373.8 846.8 378.8"/>
<path fill="none" stroke="#bcbcbc" stroke-width="9" d="M723.6 212.8C727.6 215.8 739.2 224.5 747.6 230.8C755.9 237.1 765.6 242.8 773.6 250.8C781.6 258.8 788.9 268.5 795.6 278.8C802.2 289.1 807.9 300.5 813.6 312.8C819.2 325.1 825.6 341.1 829.6 352.8C833.6 364.5 836.2 377.8 837.6 382.8"/>
<path fill="none" stroke="#f8f8f8" stroke-width="13" d="M712.5 217.6C716.5 220.6 728.2 229.3 736.5 235.6C744.9 241.9 754.5 247.6 762.5 255.6C770.5 263.6 777.9 273.3 784.5 283.6C791.2 293.9 796.9 305.3 802.5 317.6C808.2 329.9 814.5 345.9 818.5 357.6C822.5 369.3 825.2 382.6 826.5 387.6"/>
<path fill="none" stroke="#cccccc" stroke-width="10" d="M699.6 223.2C703.6 226.2 715.3 234.9 723.6 241.2C732 247.5 741.6 253.2 749.6 261.2C757.6 269.2 765 278.9 771.6 289.2C778.3 299.5 784 310.9 789.6 323.2C795.3 335.5 801.6 351.5 805.6 363.2C809.6 374.9 812.3 388.2 813.6 393.2"/>
<path fill="none" stroke="#f2f2f2" stroke-width="11" d="M688.6 228C692.6 231 704.3 239.7 712.6 246C720.9 252.3 730.6 258 738.6 266C746.6 274 753.9 283.7 760.6 294C767.3 304.3 772.9 315.7 778.6 328C784.3 340.3 790.6 356.3 794.6 368C798.6 379.7 801.3 393 802.6 398"/>
<path fill="none" stroke="#d4d4d4" stroke-width="10" d="M677.6 232.8C681.6 235.8 693.2 244.5 701.6 250.8C709.9 257.1 719.6 262.8 727.6 270.8C735.6 278.8 742.9 288.5 749.6 298.8C756.2 309.1 761.9 320.5 767.6 332.8C773.2 345.1 779.6 361.1 783.6 372.8C787.6 384.5 790.2 397.8 791.6 402.8"/>
</g></g>
<path fill="none" stroke="#1a1818" stroke-width="3.2" d="M780 212C782 212.1 787 211.3 792 212.6C797 213.9 802 215 810 220C818 225 831.4 232.6 840 242.6C848.6 252.6 856.3 270.8 861.4 280C866.5 289.2 867.8 292.2 870.8 298C873.8 303.8 877.8 312 879.2 314.8"/>
<path fill="none" stroke="#f0f0f0" stroke-width="2.5" d="M715.6 245C720.3 242.8 733.3 236.9 744 232C754.7 227.1 772 218.8 780 215.8C788 212.8 790 214.1 792 213.8"/>
<clipPath id="cface"><path d="M681 275C681.4 269.1 683.5 263.5 686 261C688.5 258.5 695.5 256 700 256C704.5 256 715.2 257.9 720 261C724.8 264.1 731.7 272.9 736 279C740.3 285.1 747.7 299.5 752 307C756.3 314.5 764.3 327.8 768 335C771.7 342.2 777.1 354.6 780 361C782.9 367.4 799.6 380.1 790 383C780.4 385.9 720 385.9 708 383C696 380.1 702.4 367.4 700 361C697.6 354.6 692.3 342.5 690 335C687.7 327.5 684.2 313 683 305C681.8 297 680.6 280.9 681 275Z"/></clipPath>
<path fill="url(#gface)" d="M681 275C681.4 269.1 683.5 263.5 686 261C688.5 258.5 695.5 256 700 256C704.5 256 715.2 257.9 720 261C724.8 264.1 731.7 272.9 736 279C740.3 285.1 747.7 299.5 752 307C756.3 314.5 764.3 327.8 768 335C771.7 342.2 777.1 354.6 780 361C782.9 367.4 799.6 380.1 790 383C780.4 385.9 720 385.9 708 383C696 380.1 702.4 367.4 700 361C697.6 354.6 692.3 342.5 690 335C687.7 327.5 684.2 313 683 305C681.8 297 680.6 280.9 681 275Z"/>
<g clip-path="url(#cface)"><g filter="url(#bl1)">
<path fill="#555555" d="M714 272C715.3 272 725.4 285.1 728 289C730.6 292.9 739.8 307.6 740 311C740.2 314.4 732 323.4 730 323C728 322.6 721.5 310.4 720 307C718.5 303.6 715.6 292.5 715 289C714.4 285.5 712.7 272 714 272Z"/>
<path fill="#6f6f6f" d="M686 279C687.5 279 697 290.6 700 295C703 299.4 715 319.8 716 323C717 326.2 712.2 328.2 710 327C707.8 325.8 696.5 314.2 694 311C691.5 307.8 685.8 298.2 685 295C684.2 291.8 684.5 279 686 279Z"/>
<path fill="#9a9a9a" d="M692 335C692.6 332.8 703.2 331.8 706 333C708.8 334.2 719 344.2 720 347C721 349.8 718 360.2 716 361C714 361.8 702.4 357.6 700 355C697.6 352.4 691.4 337.2 692 335Z"/>
<path fill="#9c9c9c" d="M744 315C745.2 315 757.2 330.6 760 335C762.8 339.4 772 357 772 359C772 361 762.4 357.4 760 355C757.6 352.6 749.6 339 748 335C746.4 331 742.8 315 744 315Z"/>
<path fill="#888" d="M706 369C707.6 367 721 363.6 724 365C727 366.4 737.6 381 736 383C734.4 385 711 386.4 708 385C705 383.6 704.4 371 706 369Z"/>
<path fill="#f2f2f2" d="M688 263C688 259 696.8 255.4 700 259C703.2 262.6 717.2 291.4 720 299C722.8 306.6 728 331.4 728 335C728 338.6 722.8 338.6 720 335C717.2 331.4 703.2 306.2 700 299C696.8 291.8 688 267 688 263Z"/>
<path fill="#e9e9e9" d="M728 335C730.7 331.8 740.8 327 744 327C747.2 327 749.9 330.5 752 335C754.1 339.5 760 355.7 760 361C760 366.3 755.5 373.7 752 375C748.5 376.3 737.7 374.2 734 371C730.3 367.8 724.8 355.8 724 351C723.2 346.2 725.3 338.2 728 335Z"/>
<ellipse cx="730" cy="336" rx="2.2" ry="2.8" fill="#4a4a4a"/>
<ellipse cx="729" cy="349" rx="2.2" ry="2.8" fill="#4a4a4a"/>
<ellipse cx="736" cy="361" rx="2.2" ry="2.8" fill="#4a4a4a"/>
<ellipse cx="748" cy="365" rx="2.2" ry="2.8" fill="#4a4a4a"/>
<ellipse cx="749" cy="355" rx="2.2" ry="2.8" fill="#4a4a4a"/>
<ellipse cx="744" cy="371" rx="2.2" ry="2.8" fill="#4a4a4a"/>
<ellipse cx="741" cy="353" rx="6" ry="8.5" fill="#f4f4f4" stroke="#bbb" stroke-width="0.8" transform="rotate(-20 741 353)"/>
</g></g>
<path fill="none" stroke="#0e0d0d" stroke-width="1.2" d="M681 275C681.4 269.1 683.5 263.5 686 261C688.5 258.5 695.5 256 700 256C704.5 256 715.2 257.9 720 261C724.8 264.1 731.7 272.9 736 279C740.3 285.1 747.7 299.5 752 307C756.3 314.5 764.3 327.8 768 335C771.7 342.2 777.1 354.6 780 361C782.9 367.4 799.6 380.1 790 383C780.4 385.9 720 385.9 708 383C696 380.1 702.4 367.4 700 361C697.6 354.6 692.3 342.5 690 335C687.7 327.5 684.2 313 683 305C681.8 297 680.6 280.9 681 275Z"/>
<ellipse cx="762.5" cy="275" rx="15.5" ry="11.5" transform="rotate(28 762.5 275)" fill="#121010"/>
<ellipse cx="757" cy="270" rx="5" ry="3" transform="rotate(28 757 270)" fill="#5c5c5c"/>
<ellipse cx="768" cy="282" rx="6" ry="2" transform="rotate(28 768 282)" fill="#3c3c3c"/>
<clipPath id="ctp"><path d="M796 384.4C785.6 382.3 789.4 361.9 792.4 359.2C795.4 356.5 824.8 354.1 832 352C839.2 349.9 874.8 337.1 878.8 334C882.8 330.9 878.2 316.2 879.5 314.2C880.8 312.2 892.1 309.7 893.9 309.9C895.7 310.1 899.2 310.5 901.1 316.7C903 322.9 925.4 378.8 916.6 384.4C907.8 390 806.4 386.5 796 384.4Z"/></clipPath>
<path fill="#1b1919" d="M796 384.4C785.6 382.3 789.4 361.9 792.4 359.2C795.4 356.5 824.8 354.1 832 352C839.2 349.9 874.8 337.1 878.8 334C882.8 330.9 878.2 316.2 879.5 314.2C880.8 312.2 892.1 309.7 893.9 309.9C895.7 310.1 899.2 310.5 901.1 316.7C903 322.9 925.4 378.8 916.6 384.4C907.8 390 806.4 386.5 796 384.4Z"/>
<g clip-path="url(#ctp)">
<path fill="none" stroke="#343232" stroke-width="1.2" d="M800 382C800.7 378.7 802.3 368.3 804 362C805.7 355.7 809 347 810 344"/>
<path fill="none" stroke="#343232" stroke-width="1.2" d="M816 382C816.6 378.2 817.9 366.1 819.4 359C820.9 351.9 824.2 342.7 825.2 339.4"/>
<path fill="none" stroke="#343232" stroke-width="1.2" d="M832 382C832.5 377.7 833.4 363.9 834.8 356C836.2 348.1 839.5 338.3 840.4 334.8"/>
<path fill="none" stroke="#343232" stroke-width="1.2" d="M848 382C848.4 377.2 848.9 361.6 850.2 353C851.5 344.4 854.7 334 855.6 330.2"/>
<path fill="none" stroke="#343232" stroke-width="1.2" d="M864 382C864.3 376.7 864.5 359.4 865.6 350C866.7 340.6 869.9 329.7 870.8 325.6"/>
<path fill="none" stroke="#343232" stroke-width="1.2" d="M880 382C880.2 376.2 880 357.2 881 347C882 336.8 885.2 325.3 886 321"/>
<path fill="none" stroke="#343232" stroke-width="1.2" d="M896 382C896.1 375.7 895.5 354.9 896.4 344C897.3 333.1 900.4 321 901.2 316.4"/>
<path fill="none" stroke="#3a3838" stroke-width="1.2" d="M879.5 314.2C880.6 314.6 883.6 317.2 886 316.7C888.4 316.2 892.6 311.9 893.9 311"/>
</g>
</g>
<line x1="72" y1="289.3" x2="582" y2="289.3" stroke="#8a8888" stroke-width="0.8" stroke-dasharray="16 3 3 3"/>
<path fill="none" stroke="#6a6868" stroke-width="1.1" stroke-linejoin="round" d="M167.6 259.2C167.5 257.5 167.7 246.9 167.1 244.8C166.5 242.7 166.3 241.5 162.6 241.2C158.9 240.9 142.5 241.8 135.6 242.1C128.7 242.4 108.2 243.3 103.2 243.9C98.2 244.5 94.9 245.7 92.4 247.5C89.9 249.3 83.6 256.2 81.6 259.2C79.6 262.2 76.1 270 75.3 273.6C74.5 277.2 74.3 286 74.4 289.8C74.5 293.6 75.2 302.2 76.2 306C77.2 309.8 81.1 319.1 83.4 322.2C85.7 325.3 93.5 331.4 96 333C98.5 334.6 100.4 335.4 105 335.7C109.6 336 129.1 335.4 135.6 335.7C142.1 336 157.2 338.7 160.8 338.4C164.4 338.1 165.5 335.3 166.2 333C166.9 330.7 167 320.3 167.1 318.6"/>
<path fill="none" stroke="#6a6868" stroke-width="0.9" stroke-linejoin="round" d="M103.2 247.5C102.1 248 97.5 249.2 95.1 251.1C92.7 253 87.4 258.7 85.2 261.9C83 265.1 79.9 271.7 78.9 275.4C77.9 279.1 77.9 286 78 289.8C78.1 293.6 78.3 300.2 79.4 304.2C80.5 308.2 83.8 316.1 86.1 319.5C88.4 322.9 94.5 327.7 96.9 329.4C99.3 331.1 103.1 332.1 104.1 332.5"/>
<path fill="none" stroke="#6a6868" stroke-width="0.9" stroke-linejoin="round" d="M87.9 265.5L87.9 315"/>
<path fill="none" stroke="#6a6868" stroke-width="0.9" stroke-linejoin="round" d="M102.3 244.4L102.3 335.2"/>
<path fill="none" stroke="#6a6868" stroke-width="0.9" stroke-linejoin="round" d="M103.2 247.5L134.7 246.2"/>
<path fill="none" stroke="#6a6868" stroke-width="0.9" stroke-linejoin="round" d="M104.1 332.5L133.8 332.5"/>
<path fill="none" stroke="#6a6868" stroke-width="0.9" stroke-linejoin="round" d="M134.7 245.7L141 243.9L159.9 243L166.2 245.7L167.1 260.1L171.6 261L173.4 263.7L173.4 270L155.4 270L154.5 263.7L157.2 261L160.8 260.1L160.8 248.4L142.8 248.4L139.2 252L139.2 263.7L135.6 263.7Z"/>
<path fill="none" stroke="#6a6868" stroke-width="0.9" stroke-linejoin="round" d="M139.2 263.7L142.8 268.2L139.2 273.6L141.9 279L141.9 300.6L139.2 304.2"/>
<path fill="none" stroke="#6a6868" stroke-width="0.9" stroke-linejoin="round" d="M146.4 276.3L171.6 276.3L171.6 304.2L146.4 304.2Z"/>
<path fill="none" stroke="#6a6868" stroke-width="0.9" stroke-linejoin="round" d="M171.6 276.3L175.2 278.1L182.4 278.1L182.4 302.4L175.2 302.4L171.6 304.2"/>
<path fill="none" stroke="#6a6868" stroke-width="0.9" stroke-linejoin="round" d="M139.2 304.2L178.8 304.2L178.8 313.2L155.4 313.2L155.4 304.2"/>
<path fill="none" stroke="#6a6868" stroke-width="0.9" stroke-linejoin="round" d="M151.8 313.2L173.4 313.2L173.4 321.3L151.8 321.3Z"/>
<path fill="none" stroke="#6a6868" stroke-width="0.9" stroke-linejoin="round" d="M134.7 333C134.6 331.3 133.2 322.8 133.8 320.4C134.4 318 137.5 315.6 139.2 315C140.9 314.4 145.1 314.9 146.4 315.9C147.7 316.9 148.9 319.9 149.1 322.2C149.3 324.5 148.3 331.6 148.2 333"/>
<path fill="none" stroke="#6a6868" stroke-width="0.9" stroke-linejoin="round" d="M139.2 315L139.2 333"/>
<path fill="none" stroke="#6a6868" stroke-width="0.9" stroke-linejoin="round" d="M149.1 322.2L166.2 333"/>
<circle cx="118.5" cy="289.3" r="4.5" fill="none" stroke="#6a6868" stroke-width="0.9"/>
<circle cx="119.4" cy="288.4" r="2" fill="none" stroke="#6a6868" stroke-width="0.8"/>
<path fill="none" stroke="#6a6868" stroke-width="0.9" stroke-linejoin="round" d="M119.4 323.1C119.6 321.9 119.3 317.5 120.8 315.9C122.3 314.2 127.1 313.6 128.4 313.2"/>
<path fill="none" stroke="#6a6868" stroke-width="0.9" stroke-linejoin="round" d="M123 324C123.2 323.1 122.9 319.9 123.9 318.6C125 317.3 128.4 316.8 129.3 316.4"/>
<path fill="none" stroke="#6a6868" stroke-width="0.6" stroke-linejoin="round" d="M182.9 278.5L182.9 302"/>
<path fill="none" stroke="#6a6868" stroke-width="0.6" stroke-linejoin="round" d="M184.2 278.5L184.2 302"/>
<path fill="none" stroke="#6a6868" stroke-width="0.6" stroke-linejoin="round" d="M185.4 278.5L185.4 302"/>
<path fill="none" stroke="#6a6868" stroke-width="0.6" stroke-linejoin="round" d="M186.7 278.5L186.7 302"/>
<path fill="none" stroke="#6a6868" stroke-width="0.9" stroke-linejoin="round" d="M187.8 277.2L195 275.4L195 261L218.4 261L218.4 318.6L195 318.6L195 304.2L187.8 302.4Z"/>
<path fill="none" stroke="#6a6868" stroke-width="0.9" stroke-linejoin="round" d="M203.1 261L203.1 318.6"/>
<path fill="none" stroke="#6a6868" stroke-width="0.9" stroke-linejoin="round" d="M218.4 266.4C219.2 266.8 224.3 268.7 225.6 270C226.9 271.3 228.8 273.4 229.2 277.2C229.6 281 229.6 298.6 229.2 302.4C228.8 306.2 226.9 308.3 225.6 309.6C224.3 310.9 219.2 312.8 218.4 313.2"/>
<rect x="227.5" y="270.6" width="44" height="38.8" fill="#cdcdcd" stroke="#6a6868" stroke-width="0.9"/>
<line x1="229.5" y1="270.6" x2="229.5" y2="309.4" stroke="#858383" stroke-width="1"/>
<line x1="232.4" y1="270.6" x2="232.4" y2="309.4" stroke="#858383" stroke-width="1"/>
<line x1="235.3" y1="270.6" x2="235.3" y2="309.4" stroke="#858383" stroke-width="1"/>
<line x1="238.2" y1="270.6" x2="238.2" y2="309.4" stroke="#858383" stroke-width="1"/>
<line x1="241.1" y1="270.6" x2="241.1" y2="309.4" stroke="#858383" stroke-width="1"/>
<line x1="244" y1="270.6" x2="244" y2="309.4" stroke="#858383" stroke-width="1"/>
<line x1="246.9" y1="270.6" x2="246.9" y2="309.4" stroke="#858383" stroke-width="1"/>
<line x1="249.8" y1="270.6" x2="249.8" y2="309.4" stroke="#858383" stroke-width="1"/>
<line x1="252.7" y1="270.6" x2="252.7" y2="309.4" stroke="#858383" stroke-width="1"/>
<line x1="255.6" y1="270.6" x2="255.6" y2="309.4" stroke="#858383" stroke-width="1"/>
<line x1="258.5" y1="270.6" x2="258.5" y2="309.4" stroke="#858383" stroke-width="1"/>
<line x1="261.4" y1="270.6" x2="261.4" y2="309.4" stroke="#858383" stroke-width="1"/>
<line x1="264.3" y1="270.6" x2="264.3" y2="309.4" stroke="#858383" stroke-width="1"/>
<line x1="267.2" y1="270.6" x2="267.2" y2="309.4" stroke="#858383" stroke-width="1"/>
<line x1="270.1" y1="270.6" x2="270.1" y2="309.4" stroke="#858383" stroke-width="1"/>
<rect x="271.5" y="274.4" width="43" height="30.4" fill="#fff" stroke="#6a6868" stroke-width="0.9"/>
<rect x="314.5" y="276" width="32.5" height="27.2" fill="#cdcdcd" stroke="#6a6868" stroke-width="0.9"/>
<line x1="316" y1="276" x2="316" y2="303.2" stroke="#858383" stroke-width="1"/>
<line x1="318.9" y1="276" x2="318.9" y2="303.2" stroke="#858383" stroke-width="1"/>
<line x1="321.8" y1="276" x2="321.8" y2="303.2" stroke="#858383" stroke-width="1"/>
<line x1="324.7" y1="276" x2="324.7" y2="303.2" stroke="#858383" stroke-width="1"/>
<line x1="327.6" y1="276" x2="327.6" y2="303.2" stroke="#858383" stroke-width="1"/>
<line x1="330.5" y1="276" x2="330.5" y2="303.2" stroke="#858383" stroke-width="1"/>
<line x1="333.4" y1="276" x2="333.4" y2="303.2" stroke="#858383" stroke-width="1"/>
<line x1="336.3" y1="276" x2="336.3" y2="303.2" stroke="#858383" stroke-width="1"/>
<line x1="339.2" y1="276" x2="339.2" y2="303.2" stroke="#858383" stroke-width="1"/>
<line x1="342.1" y1="276" x2="342.1" y2="303.2" stroke="#858383" stroke-width="1"/>
<line x1="345" y1="276" x2="345" y2="303.2" stroke="#858383" stroke-width="1"/>
<ellipse cx="390.5" cy="289" rx="6" ry="25" fill="#fff" stroke="#6a6868" stroke-width="1"/>
<ellipse cx="391" cy="289" rx="4.3" ry="22" fill="none" stroke="#6a6868" stroke-width="0.8"/>
<rect x="428" y="266" width="37" height="48" rx="2" fill="#fff" stroke="#6a6868" stroke-width="1"/>
<path fill="#fff" stroke="#6a6868" stroke-width="1" stroke-linejoin="round" d="M465 269L478 269L483 275L483 305L478 311L465 311"/>
<path fill="none" stroke="#6a6868" stroke-width="0.8" d="M465 281L483 281M465 298L483 298M478 269L478 311"/>
<rect x="519" y="276" width="14" height="26" fill="#fff" stroke="#6a6868" stroke-width="1"/>
<ellipse cx="519.5" cy="289" rx="2.6" ry="13" fill="#fff" stroke="#6a6868" stroke-width="0.9"/>
<path d="M532 275L543 275Q549 289 543 303L532 303Z" fill="#5f5d5d" stroke="#444" stroke-width="0.8"/>
<line x1="534" y1="275" x2="534" y2="303" stroke="#2e2c2c" stroke-width="0.7"/>
<line x1="536.4" y1="275" x2="536.4" y2="303" stroke="#2e2c2c" stroke-width="0.7"/>
<line x1="538.8" y1="275" x2="538.8" y2="303" stroke="#2e2c2c" stroke-width="0.7"/>
<line x1="541.2" y1="275" x2="541.2" y2="303" stroke="#2e2c2c" stroke-width="0.7"/>
<line x1="543.6" y1="275" x2="543.6" y2="303" stroke="#2e2c2c" stroke-width="0.7"/>
<path fill="none" stroke="#4a4848" stroke-width="0.9" d="M369 241L390 264M448 241L456.5 266M522.5 241L532 274"/>
</svg>
<!-- PANELS -->
<div id="p1" class="abs box" style="left:23px;top:420px;width:285px;height:181px;"></div>
<div id="p2" class="abs box" style="left:361px;top:420px;width:284.6px;height:181px;"></div>
<div id="p3" class="abs box" style="left:695px;top:420px;width:284.3px;height:181px;"></div>
<div id="p4" class="abs box" style="left:23px;top:686px;width:285px;height:181px;"></div>
<div id="p5" class="abs box" style="left:361px;top:686px;width:284.6px;height:181px;"></div>
<div id="p6" class="abs box" style="left:695px;top:686px;width:284.3px;height:181px;"></div>

<div class="abs bar" style="left:23px;top:608px;width:286px;"><div class="abs num"><span style="transform:scaleX(0.78);left:-1px">1</span></div><div class="abs cap" style="left:69.3px;top:5.65px;line-height:21.5px;">Remove the original<br>air tap</div></div>
<div class="abs bar" style="left:361px;top:608px;width:286px;"><div class="abs num"><span>2</span></div><div class="abs cap" style="left:64px;top:12.4px;">Install the tyre sensor</div></div>
<div class="abs bar" style="left:695px;top:608px;width:286px;"><div class="abs num"><span>3</span></div><div class="abs cap" style="left:78.6px;top:12.4px;">Pump up the tyre</div></div>
<div class="abs bar" style="left:23px;top:875px;width:286px;"><div class="abs num"><span style="transform:scaleX(1.03)">4</span></div><div class="abs cap" style="left:81px;top:12.4px;">Screw the air tap</div></div>
<div class="abs bar" style="left:361px;top:875px;width:286px;"><div class="abs num"><span>5</span></div><div class="abs cap" style="left:83.8px;top:12.4px;">Test the balance</div></div>
<div class="abs bar" style="left:695px;top:875px;width:286px;"><div class="abs num"><span>6</span></div><div class="abs cap" style="left:92px;top:12.4px;">Adjust the tyre</div></div>
</body>
</html>
